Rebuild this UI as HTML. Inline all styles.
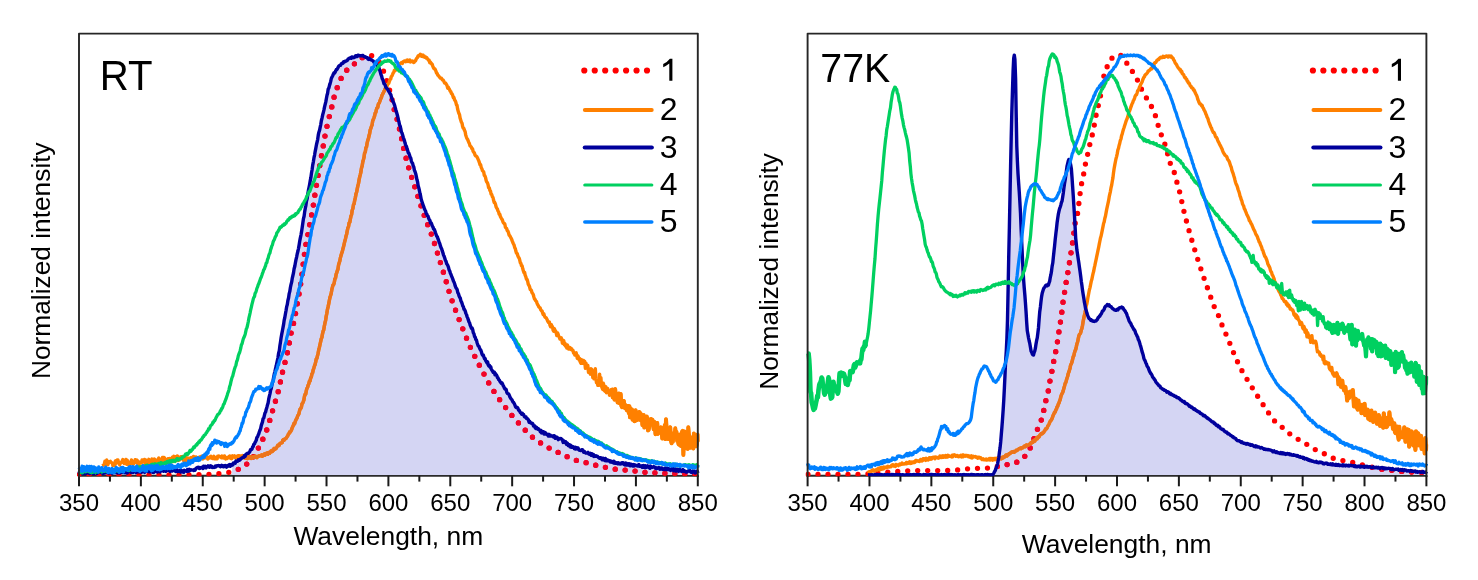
<!DOCTYPE html>
<html><head><meta charset="utf-8"><style>
html,body{margin:0;padding:0;background:#fff;}
svg{display:block;filter:blur(0.35px);}
text{font-family:"Liberation Sans", sans-serif;fill:#000;}
</style></head><body>
<svg width="1478" height="580" viewBox="0 0 1478 580">
<rect width="1478" height="580" fill="#fff"/>
<path d="M78.0 475.8H698.8" stroke="#2a2a2a" stroke-width="2.0"/>
<line x1="79.00" y1="475.8" x2="79.00" y2="486.3" stroke="#1a1a1a" stroke-width="2"/>
<text x="79.00" y="510.5" font-size="24" text-anchor="middle">350</text>
<line x1="109.94" y1="475.8" x2="109.94" y2="481.6" stroke="#1a1a1a" stroke-width="2"/>
<line x1="140.88" y1="475.8" x2="140.88" y2="486.3" stroke="#1a1a1a" stroke-width="2"/>
<text x="140.88" y="510.5" font-size="24" text-anchor="middle">400</text>
<line x1="171.82" y1="475.8" x2="171.82" y2="481.6" stroke="#1a1a1a" stroke-width="2"/>
<line x1="202.76" y1="475.8" x2="202.76" y2="486.3" stroke="#1a1a1a" stroke-width="2"/>
<text x="202.76" y="510.5" font-size="24" text-anchor="middle">450</text>
<line x1="233.70" y1="475.8" x2="233.70" y2="481.6" stroke="#1a1a1a" stroke-width="2"/>
<line x1="264.64" y1="475.8" x2="264.64" y2="486.3" stroke="#1a1a1a" stroke-width="2"/>
<text x="264.64" y="510.5" font-size="24" text-anchor="middle">500</text>
<line x1="295.58" y1="475.8" x2="295.58" y2="481.6" stroke="#1a1a1a" stroke-width="2"/>
<line x1="326.52" y1="475.8" x2="326.52" y2="486.3" stroke="#1a1a1a" stroke-width="2"/>
<text x="326.52" y="510.5" font-size="24" text-anchor="middle">550</text>
<line x1="357.46" y1="475.8" x2="357.46" y2="481.6" stroke="#1a1a1a" stroke-width="2"/>
<line x1="388.40" y1="475.8" x2="388.40" y2="486.3" stroke="#1a1a1a" stroke-width="2"/>
<text x="388.40" y="510.5" font-size="24" text-anchor="middle">600</text>
<line x1="419.34" y1="475.8" x2="419.34" y2="481.6" stroke="#1a1a1a" stroke-width="2"/>
<line x1="450.28" y1="475.8" x2="450.28" y2="486.3" stroke="#1a1a1a" stroke-width="2"/>
<text x="450.28" y="510.5" font-size="24" text-anchor="middle">650</text>
<line x1="481.22" y1="475.8" x2="481.22" y2="481.6" stroke="#1a1a1a" stroke-width="2"/>
<line x1="512.16" y1="475.8" x2="512.16" y2="486.3" stroke="#1a1a1a" stroke-width="2"/>
<text x="512.16" y="510.5" font-size="24" text-anchor="middle">700</text>
<line x1="543.10" y1="475.8" x2="543.10" y2="481.6" stroke="#1a1a1a" stroke-width="2"/>
<line x1="574.04" y1="475.8" x2="574.04" y2="486.3" stroke="#1a1a1a" stroke-width="2"/>
<text x="574.04" y="510.5" font-size="24" text-anchor="middle">750</text>
<line x1="604.98" y1="475.8" x2="604.98" y2="481.6" stroke="#1a1a1a" stroke-width="2"/>
<line x1="635.92" y1="475.8" x2="635.92" y2="486.3" stroke="#1a1a1a" stroke-width="2"/>
<text x="635.92" y="510.5" font-size="24" text-anchor="middle">800</text>
<line x1="666.86" y1="475.8" x2="666.86" y2="481.6" stroke="#1a1a1a" stroke-width="2"/>
<line x1="697.80" y1="475.8" x2="697.80" y2="486.3" stroke="#1a1a1a" stroke-width="2"/>
<text x="697.80" y="510.5" font-size="24" text-anchor="middle">850</text>
<path d="M806.6 475.8H1427.4" stroke="#2a2a2a" stroke-width="2.0"/>
<line x1="807.60" y1="475.8" x2="807.60" y2="486.3" stroke="#1a1a1a" stroke-width="2"/>
<text x="807.60" y="510.5" font-size="24" text-anchor="middle">350</text>
<line x1="838.54" y1="475.8" x2="838.54" y2="481.6" stroke="#1a1a1a" stroke-width="2"/>
<line x1="869.48" y1="475.8" x2="869.48" y2="486.3" stroke="#1a1a1a" stroke-width="2"/>
<text x="869.48" y="510.5" font-size="24" text-anchor="middle">400</text>
<line x1="900.42" y1="475.8" x2="900.42" y2="481.6" stroke="#1a1a1a" stroke-width="2"/>
<line x1="931.36" y1="475.8" x2="931.36" y2="486.3" stroke="#1a1a1a" stroke-width="2"/>
<text x="931.36" y="510.5" font-size="24" text-anchor="middle">450</text>
<line x1="962.30" y1="475.8" x2="962.30" y2="481.6" stroke="#1a1a1a" stroke-width="2"/>
<line x1="993.24" y1="475.8" x2="993.24" y2="486.3" stroke="#1a1a1a" stroke-width="2"/>
<text x="993.24" y="510.5" font-size="24" text-anchor="middle">500</text>
<line x1="1024.18" y1="475.8" x2="1024.18" y2="481.6" stroke="#1a1a1a" stroke-width="2"/>
<line x1="1055.12" y1="475.8" x2="1055.12" y2="486.3" stroke="#1a1a1a" stroke-width="2"/>
<text x="1055.12" y="510.5" font-size="24" text-anchor="middle">550</text>
<line x1="1086.06" y1="475.8" x2="1086.06" y2="481.6" stroke="#1a1a1a" stroke-width="2"/>
<line x1="1117.00" y1="475.8" x2="1117.00" y2="486.3" stroke="#1a1a1a" stroke-width="2"/>
<text x="1117.00" y="510.5" font-size="24" text-anchor="middle">600</text>
<line x1="1147.94" y1="475.8" x2="1147.94" y2="481.6" stroke="#1a1a1a" stroke-width="2"/>
<line x1="1178.88" y1="475.8" x2="1178.88" y2="486.3" stroke="#1a1a1a" stroke-width="2"/>
<text x="1178.88" y="510.5" font-size="24" text-anchor="middle">650</text>
<line x1="1209.82" y1="475.8" x2="1209.82" y2="481.6" stroke="#1a1a1a" stroke-width="2"/>
<line x1="1240.76" y1="475.8" x2="1240.76" y2="486.3" stroke="#1a1a1a" stroke-width="2"/>
<text x="1240.76" y="510.5" font-size="24" text-anchor="middle">700</text>
<line x1="1271.70" y1="475.8" x2="1271.70" y2="481.6" stroke="#1a1a1a" stroke-width="2"/>
<line x1="1302.64" y1="475.8" x2="1302.64" y2="486.3" stroke="#1a1a1a" stroke-width="2"/>
<text x="1302.64" y="510.5" font-size="24" text-anchor="middle">750</text>
<line x1="1333.58" y1="475.8" x2="1333.58" y2="481.6" stroke="#1a1a1a" stroke-width="2"/>
<line x1="1364.52" y1="475.8" x2="1364.52" y2="486.3" stroke="#1a1a1a" stroke-width="2"/>
<text x="1364.52" y="510.5" font-size="24" text-anchor="middle">800</text>
<line x1="1395.46" y1="475.8" x2="1395.46" y2="481.6" stroke="#1a1a1a" stroke-width="2"/>
<line x1="1426.40" y1="475.8" x2="1426.40" y2="486.3" stroke="#1a1a1a" stroke-width="2"/>
<text x="1426.40" y="510.5" font-size="24" text-anchor="middle">850</text>
<path d="M232.1 475.0L232.1 464.4L232.8 464.0L233.4 463.6L234.0 463.2L234.6 462.8L235.2 462.5L235.9 462.1L236.5 461.7L237.1 461.4L237.7 461.0L238.3 460.6L239.0 460.2L239.6 459.8L240.2 459.4L240.8 459.0L241.4 458.5L242.1 458.1L242.7 457.6L243.3 457.1L243.9 456.6L244.5 456.1L245.2 455.6L245.8 455.1L246.4 454.6L247.0 454.0L247.6 453.5L248.3 452.9L248.9 452.3L249.5 451.6L250.1 450.9L250.7 450.1L251.4 449.3L252.0 448.4L252.6 447.4L253.2 446.2L253.8 444.9L254.5 443.5L255.1 442.1L255.7 440.7L256.3 439.4L256.9 438.0L257.6 436.7L258.2 435.3L258.8 433.8L259.4 432.2L260.0 430.5L260.7 428.5L261.3 426.1L261.9 423.6L262.5 421.3L263.1 419.2L263.8 417.2L264.4 415.2L265.0 413.3L265.6 411.4L266.2 409.4L266.9 407.2L267.5 405.0L268.1 402.5L268.7 399.7L269.3 396.8L270.0 393.9L270.6 390.9L271.2 388.1L271.8 385.3L272.4 382.6L273.1 379.8L273.7 377.0L274.3 374.3L274.9 371.6L275.5 368.9L276.2 366.2L276.8 363.5L277.4 360.5L278.0 357.3L278.6 353.7L279.3 350.0L279.9 346.1L280.5 342.2L281.1 338.3L281.7 334.5L282.4 330.8L283.0 327.3L283.6 323.8L284.2 320.4L284.8 317.1L285.5 313.7L286.1 310.4L286.7 307.1L287.3 303.9L287.9 300.7L288.6 297.4L289.2 294.2L289.8 291.0L290.4 287.8L291.0 284.7L291.7 281.6L292.3 278.5L292.9 275.4L293.5 272.4L294.1 269.3L294.8 266.2L295.4 263.1L296.0 260.1L296.6 257.1L297.2 254.1L297.9 251.0L298.5 247.9L299.1 244.8L299.7 241.5L300.3 238.1L301.0 234.6L301.6 230.9L302.2 227.1L302.8 223.2L303.4 219.4L304.1 215.6L304.7 211.9L305.3 208.3L305.9 204.7L306.5 201.3L307.2 197.8L307.8 194.4L308.4 191.0L309.0 187.6L309.6 184.1L310.3 180.5L310.9 176.8L311.5 173.1L312.1 169.3L312.7 165.6L313.4 161.9L314.0 158.2L314.6 154.7L315.2 151.3L315.8 148.0L316.5 144.8L317.1 141.6L317.7 138.5L318.3 135.5L318.9 132.5L319.6 129.5L320.2 126.6L320.8 123.7L321.4 120.8L322.0 118.0L322.7 115.3L323.3 112.7L323.9 110.1L324.5 107.5L325.1 104.8L325.8 102.0L326.4 99.0L327.0 95.9L327.6 92.8L328.2 89.8L328.9 87.1L329.5 84.8L330.1 82.8L330.7 80.9L331.3 79.2L332.0 77.6L332.6 76.2L333.2 74.9L333.8 73.7L334.4 72.7L335.1 71.6L335.7 70.7L336.3 69.8L336.9 68.9L337.5 68.1L338.2 67.4L338.8 66.7L339.4 66.0L340.0 65.4L340.6 64.8L341.3 64.2L341.9 63.7L342.5 63.1L343.1 62.6L343.7 62.2L344.4 61.7L345.0 61.3L345.6 60.9L346.2 60.5L346.8 60.1L347.5 59.7L348.1 59.4L348.7 59.0L349.3 58.7L349.9 58.4L350.6 58.1L351.2 57.9L351.8 57.6L352.4 57.4L353.0 57.2L353.7 57.0L354.3 56.8L354.9 56.6L355.5 56.4L356.1 56.3L356.8 56.1L357.4 56.0L358.0 55.8L358.6 55.7L359.2 55.7L359.9 55.6L360.5 55.6L361.1 55.6L361.7 55.8L362.3 55.9L363.0 56.1L363.6 56.4L364.2 56.6L364.8 56.9L365.4 57.2L366.1 57.5L366.7 57.8L367.3 58.1L367.9 58.4L368.5 58.7L369.2 59.0L369.8 59.4L370.4 59.7L371.0 60.1L371.6 60.5L372.3 61.0L372.9 61.4L373.5 61.9L374.1 62.3L374.7 62.8L375.4 63.3L376.0 63.9L376.6 64.5L377.2 65.2L377.8 66.0L378.5 66.9L379.1 68.2L379.7 70.1L380.3 72.3L380.9 74.5L381.6 76.6L382.2 78.3L382.8 80.0L383.4 81.5L384.0 83.0L384.7 84.4L385.3 85.6L385.9 86.8L386.5 87.8L387.1 88.7L387.8 89.7L388.4 90.6L389.0 91.6L389.6 92.7L390.2 94.0L390.9 95.4L391.5 96.9L392.1 98.6L392.7 100.3L393.3 102.0L394.0 103.9L394.6 105.8L395.2 107.8L395.8 110.0L396.4 112.2L397.1 114.5L397.7 116.8L398.3 119.2L398.9 121.7L399.5 124.2L400.2 126.8L400.8 129.2L401.4 131.4L402.0 133.5L402.6 135.5L403.3 137.5L403.9 139.4L404.5 141.3L405.1 143.1L405.7 144.9L406.4 146.7L407.0 148.5L407.6 150.3L408.2 152.0L408.8 153.7L409.5 155.3L410.1 156.9L410.7 158.5L411.3 160.1L411.9 161.8L412.6 163.5L413.2 165.4L413.8 167.3L414.4 169.5L415.0 171.9L415.7 174.4L416.3 177.0L416.9 179.6L417.5 182.2L418.1 184.9L418.8 187.7L419.4 190.5L420.0 193.3L420.6 196.0L421.2 198.7L421.9 201.1L422.5 203.3L423.1 205.3L423.7 207.1L424.3 208.7L425.0 210.2L425.6 211.7L426.2 213.0L426.8 214.4L427.4 215.7L428.1 217.0L428.7 218.3L429.3 219.7L429.9 221.0L430.5 222.2L431.2 223.5L431.8 224.7L432.4 225.9L433.0 227.2L433.6 228.4L434.3 229.7L434.9 231.1L435.5 232.5L436.1 234.0L436.7 235.5L437.4 237.1L438.0 238.8L438.6 240.5L439.2 242.2L439.8 243.9L440.5 245.7L441.1 247.5L441.7 249.3L442.3 251.1L442.9 252.9L443.6 254.6L444.2 256.4L444.8 258.1L445.4 259.8L446.0 261.4L446.7 263.1L447.3 264.7L447.9 266.4L448.5 268.0L449.1 269.6L449.8 271.2L450.4 272.8L451.0 274.4L451.6 276.0L452.2 277.6L452.9 279.2L453.5 280.8L454.1 282.4L454.7 284.0L455.3 285.6L456.0 287.2L456.6 288.8L457.2 290.4L457.8 292.0L458.4 293.6L459.1 295.3L459.7 296.9L460.3 298.5L460.9 300.1L461.5 301.7L462.2 303.4L462.8 305.0L463.4 306.6L464.0 308.2L464.6 309.9L465.3 311.5L465.9 313.1L466.5 314.7L467.1 316.3L467.7 317.9L468.4 319.5L469.0 321.1L469.6 322.7L470.2 324.3L470.8 325.9L471.5 327.5L472.1 329.1L472.7 330.7L473.3 332.4L473.9 334.0L474.6 335.6L475.2 337.3L475.8 338.9L476.4 340.5L477.0 342.0L477.7 343.6L478.3 345.1L478.9 346.5L479.5 347.9L480.1 349.2L480.8 350.5L481.4 351.8L482.0 353.0L482.6 354.2L483.2 355.3L483.9 356.5L484.5 357.6L485.1 358.7L485.7 359.7L486.3 360.8L487.0 361.8L487.6 362.9L488.2 363.9L488.8 364.9L489.4 365.8L490.1 366.8L490.7 367.8L491.3 368.7L491.9 369.6L492.5 370.5L493.2 371.4L493.8 372.3L494.4 373.1L495.0 374.0L495.6 374.8L496.3 375.6L496.9 376.4L497.5 377.2L498.1 378.1L498.7 378.9L499.4 379.7L500.0 380.6L500.6 381.4L501.2 382.3L501.8 383.2L502.5 384.2L503.1 385.1L503.7 386.1L504.3 387.2L504.9 388.3L505.6 389.4L506.2 390.5L506.8 391.7L507.4 392.8L508.0 394.0L508.7 395.2L509.3 396.3L509.9 397.4L510.5 398.5L511.1 399.6L511.8 400.6L512.4 401.6L513.0 402.5L513.6 403.4L514.2 404.2L514.9 405.1L515.5 405.9L516.1 406.7L516.7 407.5L517.3 408.3L518.0 409.1L518.6 409.8L519.2 410.6L519.8 411.3L520.4 412.0L521.1 412.7L521.7 413.4L522.3 414.1L522.9 414.8L523.5 415.5L524.2 416.1L524.8 416.8L525.4 417.4L526.0 418.0L526.6 418.7L527.3 419.3L527.9 419.9L528.5 420.5L529.1 421.1L529.7 421.7L530.4 422.3L531.0 422.9L531.6 423.5L532.2 424.1L532.8 424.7L533.5 425.2L534.1 425.8L534.7 426.4L535.3 426.9L535.9 427.4L536.6 428.0L537.2 428.5L537.8 429.0L538.4 429.5L539.0 429.9L539.7 430.4L540.3 430.8L540.9 431.2L541.5 431.6L542.1 432.0L542.8 432.4L543.4 432.7L544.0 433.0L544.6 433.3L545.2 433.6L545.9 433.9L546.5 434.1L547.1 434.4L547.7 434.6L548.3 434.8L549.0 435.1L549.6 435.3L550.2 435.5L550.8 435.7L551.4 435.9L552.1 436.1L552.7 436.3L553.3 436.5L553.9 436.7L554.5 437.0L555.2 437.2L555.8 437.4L556.4 437.6L557.0 437.9L557.6 438.1L558.3 438.4L558.9 438.7L559.5 439.0L560.1 439.3L560.7 439.6L561.4 440.0L562.0 440.3L562.6 440.7L563.2 441.2L563.8 441.6L564.5 442.0L565.1 442.5L565.7 442.9L566.3 443.4L566.9 443.8L567.6 444.2L568.2 444.6L568.8 445.0L569.4 445.4L570.0 445.7L570.7 446.0L571.3 446.3L571.9 446.6L572.5 446.9L573.1 447.1L573.8 447.4L574.4 447.6L575.0 447.9L575.6 448.1L576.2 448.3L576.9 448.5L577.5 448.8L578.1 449.0L578.7 449.2L579.3 449.5L580.0 449.7L580.6 450.0L581.2 450.2L581.8 450.5L582.4 450.7L583.1 451.0L583.7 451.2L584.3 451.5L584.9 451.7L585.5 452.0L586.2 452.2L586.8 452.5L587.4 452.7L588.0 453.0L588.6 453.2L589.3 453.5L589.9 453.7L590.5 454.0L591.1 454.2L591.7 454.5L592.4 454.8L593.0 455.0L593.6 455.3L594.2 455.5L594.8 455.8L595.5 456.0L596.1 456.3L596.7 456.5L597.3 456.8L597.9 457.0L598.6 457.3L599.2 457.5L599.8 457.7L600.4 458.0L601.0 458.2L601.7 458.4L602.3 458.6L602.9 458.8L603.5 459.0L604.1 459.2L604.8 459.4L605.4 459.6L606.0 459.8L606.6 460.0L607.2 460.2L607.9 460.3L608.5 460.5L609.1 460.7L609.7 460.9L610.3 461.0L611.0 461.2L611.6 461.3L612.2 461.5L612.8 461.6L613.4 461.8L614.1 461.9L614.7 462.1L615.3 462.2L615.9 462.3L616.5 462.5L617.2 462.6L617.8 462.7L618.4 462.8L619.0 463.0L619.6 463.1L620.3 463.2L620.9 463.3L621.5 463.4L622.1 463.5L622.7 463.6L623.4 463.7L624.0 463.8L624.6 463.9L625.2 464.0L625.8 464.0L626.5 464.1L627.1 464.2L627.7 464.3L628.3 464.4L628.9 464.4L629.6 464.5L630.2 464.6L630.8 464.7L631.4 464.7L632.0 464.8L632.7 464.9L633.3 465.0L633.9 465.0L634.5 465.1L635.1 465.2L635.8 465.3L636.4 465.3L637.0 465.4L637.6 465.5L638.2 465.6L638.9 465.7L639.5 465.8L640.1 465.8L640.7 465.9L641.3 466.0L642.0 466.1L642.6 466.2L643.2 466.3L643.8 466.4L644.4 466.4L645.1 466.5L645.7 466.6L646.3 466.7L646.9 466.8L647.5 466.9L648.2 467.0L648.8 467.0L649.4 467.1L650.0 467.2L650.6 467.3L651.3 467.4L651.9 467.4L652.5 467.5L653.1 467.6L653.7 467.7L654.4 467.7L655.0 467.8L655.6 467.9L656.2 467.9L656.8 468.0L657.5 468.1L658.1 468.1L658.7 468.2L659.3 468.3L659.9 468.3L660.6 468.4L661.2 468.5L661.8 468.5L662.4 468.6L663.0 468.6L663.7 468.7L664.3 468.8L664.9 468.8L665.5 468.9L666.1 468.9L666.8 469.0L667.4 469.1L668.0 469.1L668.6 469.2L669.2 469.3L669.9 469.3L670.5 469.4L671.1 469.4L671.7 469.5L672.3 469.6L673.0 469.6L673.6 469.7L674.2 469.7L674.8 469.8L675.4 469.9L676.1 469.9L676.7 470.0L677.3 470.1L677.9 470.1L678.5 470.2L679.2 470.2L679.8 470.3L680.4 470.3L681.0 470.4L681.6 470.5L682.3 470.5L682.9 470.6L683.5 470.6L684.1 470.7L684.7 470.8L685.4 470.8L686.0 470.9L686.6 470.9L687.2 471.0L687.8 471.1L688.5 471.2L689.1 471.2L689.7 471.3L690.3 471.4L690.9 471.4L691.6 471.5L692.2 471.6L692.8 471.6L693.4 471.7L694.0 471.7L694.7 471.7L695.3 471.8L695.9 471.8L696.5 471.8L697.1 471.8L697.8 471.8L697.8 471.8L697.8 475.0 Z" fill="#d4d5f3" stroke="none"/>
<clipPath id="clipL"><path d="M232.1 475.0L232.1 464.4L232.8 464.0L233.4 463.6L234.0 463.2L234.6 462.8L235.2 462.5L235.9 462.1L236.5 461.7L237.1 461.4L237.7 461.0L238.3 460.6L239.0 460.2L239.6 459.8L240.2 459.4L240.8 459.0L241.4 458.5L242.1 458.1L242.7 457.6L243.3 457.1L243.9 456.6L244.5 456.1L245.2 455.6L245.8 455.1L246.4 454.6L247.0 454.0L247.6 453.5L248.3 452.9L248.9 452.3L249.5 451.6L250.1 450.9L250.7 450.1L251.4 449.3L252.0 448.4L252.6 447.4L253.2 446.2L253.8 444.9L254.5 443.5L255.1 442.1L255.7 440.7L256.3 439.4L256.9 438.0L257.6 436.7L258.2 435.3L258.8 433.8L259.4 432.2L260.0 430.5L260.7 428.5L261.3 426.1L261.9 423.6L262.5 421.3L263.1 419.2L263.8 417.2L264.4 415.2L265.0 413.3L265.6 411.4L266.2 409.4L266.9 407.2L267.5 405.0L268.1 402.5L268.7 399.7L269.3 396.8L270.0 393.9L270.6 390.9L271.2 388.1L271.8 385.3L272.4 382.6L273.1 379.8L273.7 377.0L274.3 374.3L274.9 371.6L275.5 368.9L276.2 366.2L276.8 363.5L277.4 360.5L278.0 357.3L278.6 353.7L279.3 350.0L279.9 346.1L280.5 342.2L281.1 338.3L281.7 334.5L282.4 330.8L283.0 327.3L283.6 323.8L284.2 320.4L284.8 317.1L285.5 313.7L286.1 310.4L286.7 307.1L287.3 303.9L287.9 300.7L288.6 297.4L289.2 294.2L289.8 291.0L290.4 287.8L291.0 284.7L291.7 281.6L292.3 278.5L292.9 275.4L293.5 272.4L294.1 269.3L294.8 266.2L295.4 263.1L296.0 260.1L296.6 257.1L297.2 254.1L297.9 251.0L298.5 247.9L299.1 244.8L299.7 241.5L300.3 238.1L301.0 234.6L301.6 230.9L302.2 227.1L302.8 223.2L303.4 219.4L304.1 215.6L304.7 211.9L305.3 208.3L305.9 204.7L306.5 201.3L307.2 197.8L307.8 194.4L308.4 191.0L309.0 187.6L309.6 184.1L310.3 180.5L310.9 176.8L311.5 173.1L312.1 169.3L312.7 165.6L313.4 161.9L314.0 158.2L314.6 154.7L315.2 151.3L315.8 148.0L316.5 144.8L317.1 141.6L317.7 138.5L318.3 135.5L318.9 132.5L319.6 129.5L320.2 126.6L320.8 123.7L321.4 120.8L322.0 118.0L322.7 115.3L323.3 112.7L323.9 110.1L324.5 107.5L325.1 104.8L325.8 102.0L326.4 99.0L327.0 95.9L327.6 92.8L328.2 89.8L328.9 87.1L329.5 84.8L330.1 82.8L330.7 80.9L331.3 79.2L332.0 77.6L332.6 76.2L333.2 74.9L333.8 73.7L334.4 72.7L335.1 71.6L335.7 70.7L336.3 69.8L336.9 68.9L337.5 68.1L338.2 67.4L338.8 66.7L339.4 66.0L340.0 65.4L340.6 64.8L341.3 64.2L341.9 63.7L342.5 63.1L343.1 62.6L343.7 62.2L344.4 61.7L345.0 61.3L345.6 60.9L346.2 60.5L346.8 60.1L347.5 59.7L348.1 59.4L348.7 59.0L349.3 58.7L349.9 58.4L350.6 58.1L351.2 57.9L351.8 57.6L352.4 57.4L353.0 57.2L353.7 57.0L354.3 56.8L354.9 56.6L355.5 56.4L356.1 56.3L356.8 56.1L357.4 56.0L358.0 55.8L358.6 55.7L359.2 55.7L359.9 55.6L360.5 55.6L361.1 55.6L361.7 55.8L362.3 55.9L363.0 56.1L363.6 56.4L364.2 56.6L364.8 56.9L365.4 57.2L366.1 57.5L366.7 57.8L367.3 58.1L367.9 58.4L368.5 58.7L369.2 59.0L369.8 59.4L370.4 59.7L371.0 60.1L371.6 60.5L372.3 61.0L372.9 61.4L373.5 61.9L374.1 62.3L374.7 62.8L375.4 63.3L376.0 63.9L376.6 64.5L377.2 65.2L377.8 66.0L378.5 66.9L379.1 68.2L379.7 70.1L380.3 72.3L380.9 74.5L381.6 76.6L382.2 78.3L382.8 80.0L383.4 81.5L384.0 83.0L384.7 84.4L385.3 85.6L385.9 86.8L386.5 87.8L387.1 88.7L387.8 89.7L388.4 90.6L389.0 91.6L389.6 92.7L390.2 94.0L390.9 95.4L391.5 96.9L392.1 98.6L392.7 100.3L393.3 102.0L394.0 103.9L394.6 105.8L395.2 107.8L395.8 110.0L396.4 112.2L397.1 114.5L397.7 116.8L398.3 119.2L398.9 121.7L399.5 124.2L400.2 126.8L400.8 129.2L401.4 131.4L402.0 133.5L402.6 135.5L403.3 137.5L403.9 139.4L404.5 141.3L405.1 143.1L405.7 144.9L406.4 146.7L407.0 148.5L407.6 150.3L408.2 152.0L408.8 153.7L409.5 155.3L410.1 156.9L410.7 158.5L411.3 160.1L411.9 161.8L412.6 163.5L413.2 165.4L413.8 167.3L414.4 169.5L415.0 171.9L415.7 174.4L416.3 177.0L416.9 179.6L417.5 182.2L418.1 184.9L418.8 187.7L419.4 190.5L420.0 193.3L420.6 196.0L421.2 198.7L421.9 201.1L422.5 203.3L423.1 205.3L423.7 207.1L424.3 208.7L425.0 210.2L425.6 211.7L426.2 213.0L426.8 214.4L427.4 215.7L428.1 217.0L428.7 218.3L429.3 219.7L429.9 221.0L430.5 222.2L431.2 223.5L431.8 224.7L432.4 225.9L433.0 227.2L433.6 228.4L434.3 229.7L434.9 231.1L435.5 232.5L436.1 234.0L436.7 235.5L437.4 237.1L438.0 238.8L438.6 240.5L439.2 242.2L439.8 243.9L440.5 245.7L441.1 247.5L441.7 249.3L442.3 251.1L442.9 252.9L443.6 254.6L444.2 256.4L444.8 258.1L445.4 259.8L446.0 261.4L446.7 263.1L447.3 264.7L447.9 266.4L448.5 268.0L449.1 269.6L449.8 271.2L450.4 272.8L451.0 274.4L451.6 276.0L452.2 277.6L452.9 279.2L453.5 280.8L454.1 282.4L454.7 284.0L455.3 285.6L456.0 287.2L456.6 288.8L457.2 290.4L457.8 292.0L458.4 293.6L459.1 295.3L459.7 296.9L460.3 298.5L460.9 300.1L461.5 301.7L462.2 303.4L462.8 305.0L463.4 306.6L464.0 308.2L464.6 309.9L465.3 311.5L465.9 313.1L466.5 314.7L467.1 316.3L467.7 317.9L468.4 319.5L469.0 321.1L469.6 322.7L470.2 324.3L470.8 325.9L471.5 327.5L472.1 329.1L472.7 330.7L473.3 332.4L473.9 334.0L474.6 335.6L475.2 337.3L475.8 338.9L476.4 340.5L477.0 342.0L477.7 343.6L478.3 345.1L478.9 346.5L479.5 347.9L480.1 349.2L480.8 350.5L481.4 351.8L482.0 353.0L482.6 354.2L483.2 355.3L483.9 356.5L484.5 357.6L485.1 358.7L485.7 359.7L486.3 360.8L487.0 361.8L487.6 362.9L488.2 363.9L488.8 364.9L489.4 365.8L490.1 366.8L490.7 367.8L491.3 368.7L491.9 369.6L492.5 370.5L493.2 371.4L493.8 372.3L494.4 373.1L495.0 374.0L495.6 374.8L496.3 375.6L496.9 376.4L497.5 377.2L498.1 378.1L498.7 378.9L499.4 379.7L500.0 380.6L500.6 381.4L501.2 382.3L501.8 383.2L502.5 384.2L503.1 385.1L503.7 386.1L504.3 387.2L504.9 388.3L505.6 389.4L506.2 390.5L506.8 391.7L507.4 392.8L508.0 394.0L508.7 395.2L509.3 396.3L509.9 397.4L510.5 398.5L511.1 399.6L511.8 400.6L512.4 401.6L513.0 402.5L513.6 403.4L514.2 404.2L514.9 405.1L515.5 405.9L516.1 406.7L516.7 407.5L517.3 408.3L518.0 409.1L518.6 409.8L519.2 410.6L519.8 411.3L520.4 412.0L521.1 412.7L521.7 413.4L522.3 414.1L522.9 414.8L523.5 415.5L524.2 416.1L524.8 416.8L525.4 417.4L526.0 418.0L526.6 418.7L527.3 419.3L527.9 419.9L528.5 420.5L529.1 421.1L529.7 421.7L530.4 422.3L531.0 422.9L531.6 423.5L532.2 424.1L532.8 424.7L533.5 425.2L534.1 425.8L534.7 426.4L535.3 426.9L535.9 427.4L536.6 428.0L537.2 428.5L537.8 429.0L538.4 429.5L539.0 429.9L539.7 430.4L540.3 430.8L540.9 431.2L541.5 431.6L542.1 432.0L542.8 432.4L543.4 432.7L544.0 433.0L544.6 433.3L545.2 433.6L545.9 433.9L546.5 434.1L547.1 434.4L547.7 434.6L548.3 434.8L549.0 435.1L549.6 435.3L550.2 435.5L550.8 435.7L551.4 435.9L552.1 436.1L552.7 436.3L553.3 436.5L553.9 436.7L554.5 437.0L555.2 437.2L555.8 437.4L556.4 437.6L557.0 437.9L557.6 438.1L558.3 438.4L558.9 438.7L559.5 439.0L560.1 439.3L560.7 439.6L561.4 440.0L562.0 440.3L562.6 440.7L563.2 441.2L563.8 441.6L564.5 442.0L565.1 442.5L565.7 442.9L566.3 443.4L566.9 443.8L567.6 444.2L568.2 444.6L568.8 445.0L569.4 445.4L570.0 445.7L570.7 446.0L571.3 446.3L571.9 446.6L572.5 446.9L573.1 447.1L573.8 447.4L574.4 447.6L575.0 447.9L575.6 448.1L576.2 448.3L576.9 448.5L577.5 448.8L578.1 449.0L578.7 449.2L579.3 449.5L580.0 449.7L580.6 450.0L581.2 450.2L581.8 450.5L582.4 450.7L583.1 451.0L583.7 451.2L584.3 451.5L584.9 451.7L585.5 452.0L586.2 452.2L586.8 452.5L587.4 452.7L588.0 453.0L588.6 453.2L589.3 453.5L589.9 453.7L590.5 454.0L591.1 454.2L591.7 454.5L592.4 454.8L593.0 455.0L593.6 455.3L594.2 455.5L594.8 455.8L595.5 456.0L596.1 456.3L596.7 456.5L597.3 456.8L597.9 457.0L598.6 457.3L599.2 457.5L599.8 457.7L600.4 458.0L601.0 458.2L601.7 458.4L602.3 458.6L602.9 458.8L603.5 459.0L604.1 459.2L604.8 459.4L605.4 459.6L606.0 459.8L606.6 460.0L607.2 460.2L607.9 460.3L608.5 460.5L609.1 460.7L609.7 460.9L610.3 461.0L611.0 461.2L611.6 461.3L612.2 461.5L612.8 461.6L613.4 461.8L614.1 461.9L614.7 462.1L615.3 462.2L615.9 462.3L616.5 462.5L617.2 462.6L617.8 462.7L618.4 462.8L619.0 463.0L619.6 463.1L620.3 463.2L620.9 463.3L621.5 463.4L622.1 463.5L622.7 463.6L623.4 463.7L624.0 463.8L624.6 463.9L625.2 464.0L625.8 464.0L626.5 464.1L627.1 464.2L627.7 464.3L628.3 464.4L628.9 464.4L629.6 464.5L630.2 464.6L630.8 464.7L631.4 464.7L632.0 464.8L632.7 464.9L633.3 465.0L633.9 465.0L634.5 465.1L635.1 465.2L635.8 465.3L636.4 465.3L637.0 465.4L637.6 465.5L638.2 465.6L638.9 465.7L639.5 465.8L640.1 465.8L640.7 465.9L641.3 466.0L642.0 466.1L642.6 466.2L643.2 466.3L643.8 466.4L644.4 466.4L645.1 466.5L645.7 466.6L646.3 466.7L646.9 466.8L647.5 466.9L648.2 467.0L648.8 467.0L649.4 467.1L650.0 467.2L650.6 467.3L651.3 467.4L651.9 467.4L652.5 467.5L653.1 467.6L653.7 467.7L654.4 467.7L655.0 467.8L655.6 467.9L656.2 467.9L656.8 468.0L657.5 468.1L658.1 468.1L658.7 468.2L659.3 468.3L659.9 468.3L660.6 468.4L661.2 468.5L661.8 468.5L662.4 468.6L663.0 468.6L663.7 468.7L664.3 468.8L664.9 468.8L665.5 468.9L666.1 468.9L666.8 469.0L667.4 469.1L668.0 469.1L668.6 469.2L669.2 469.3L669.9 469.3L670.5 469.4L671.1 469.4L671.7 469.5L672.3 469.6L673.0 469.6L673.6 469.7L674.2 469.7L674.8 469.8L675.4 469.9L676.1 469.9L676.7 470.0L677.3 470.1L677.9 470.1L678.5 470.2L679.2 470.2L679.8 470.3L680.4 470.3L681.0 470.4L681.6 470.5L682.3 470.5L682.9 470.6L683.5 470.6L684.1 470.7L684.7 470.8L685.4 470.8L686.0 470.9L686.6 470.9L687.2 471.0L687.8 471.1L688.5 471.2L689.1 471.2L689.7 471.3L690.3 471.4L690.9 471.4L691.6 471.5L692.2 471.6L692.8 471.6L693.4 471.7L694.0 471.7L694.7 471.7L695.3 471.8L695.9 471.8L696.5 471.8L697.1 471.8L697.8 471.8L697.8 471.8L697.8 475.0 Z"/></clipPath>
<clipPath id="areaL"><rect x="77.0" y="33.6" width="622.8" height="442.7"/></clipPath>
<g clip-path="url(#areaL)">
<path d="M79.0 475.0l0.6 0.0l0.6 0.0l0.7 0.0l0.6 0.0l0.6 0.0l0.6 0.0l0.6 0.0l0.7 0.0l0.6 0.0l0.6 0.0l0.6 0.0l0.6 0.0l0.7 0.0l0.6 0.0l0.6 0.0l0.6 0.0l0.6 0.0l0.7 0.0l0.6 0.0l0.6 0.0l0.6 0.0l0.6 0.0l0.7 0.0l0.6 0.0l0.6 0.0l0.6 0.0l0.6 0.0l0.7 0.0l0.6 0.0l0.6 0.0l0.6 0.0l0.6 0.0l0.7 0.0l0.6 0.0l0.6 0.0l0.6 0.0l0.6 0.0l0.7 0.0l0.6 0.0l0.6 0.0l0.6 0.0l0.6 0.0l0.7 0.0l0.6 0.0l0.6 0.0l0.6 0.0l0.6 0.0l0.7 0.0l0.6 0.0l0.6 0.0l0.6 0.0l0.6 0.0l0.7 0.0l0.6 0.0l0.6 0.0l0.6 0.0l0.6 0.0l0.7 0.0l0.6 0.0l0.6 0.0l0.6 0.0l0.6 0.0l0.7 0.0l0.6 0.0l0.6 0.0l0.6 0.0l0.6 0.0l0.7 0.0l0.6 0.0l0.6 0.0l0.6 0.0l0.6 0.0l0.7 0.0l0.6 0.0l0.6 0.0l0.6 0.0l0.6 0.0l0.7 0.0l0.6 0.0l0.6 0.0l0.6 0.0l0.6 0.0l0.7 0.0l0.6 0.0l0.6 0.0l0.6 0.0l0.6 0.0l0.7 0.0l0.6 0.0l0.6 0.0l0.6 0.0l0.6 0.0l0.7 0.0l0.6 0.0l0.6 0.0l0.6 0.0l0.6 0.0l0.7 0.0l0.6 0.0l0.6 0.0l0.6 0.0l0.6 0.0l0.7 0.0l0.6 0.0l0.6 0.0l0.6 0.0l0.6 0.0l0.7 0.0l0.6 0.0l0.6 0.0l0.6 0.0l0.6 0.0l0.7 0.0l0.6 0.0l0.6 0.0l0.6 0.0l0.6 0.0l0.7 0.0l0.6 0.0l0.6 0.0l0.6 0.0l0.6 0.0l0.7 0.0l0.6 0.0l0.6 0.0l0.6 0.0l0.6 0.0l0.7 0.0l0.6 0.0l0.6 0.0l0.6-0.0l0.6-0.0l0.7-0.0l0.6-0.0l0.6-0.0l0.6-0.0l0.6-0.0l0.7-0.0l0.6-0.0l0.6-0.0l0.6-0.0l0.6-0.0l0.7-0.0l0.6-0.0l0.6-0.0l0.6-0.0l0.6-0.0l0.7-0.0l0.6-0.0l0.6-0.0l0.6-0.0l0.6-0.0l0.7-0.0l0.6-0.0l0.6-0.0l0.6-0.1l0.6 0.0l0.7 0.0l0.6 0.0l0.6 0.0l0.6 0.0l0.6 0.0l0.7 0.0l0.6 0.0l0.6 0.0l0.6-0.0l0.6-0.0l0.7-0.0l0.6-0.0l0.6-0.0l0.6-0.0l0.6-0.0l0.7-0.0l0.6-0.1l0.6 0.0l0.6 0.0l0.6 0.0l0.7 0.0l0.6 0.0l0.6-0.0l0.6-0.0l0.6-0.0l0.7-0.0l0.6-0.0l0.6-0.0l0.6-0.1l0.6 0.0l0.7 0.0l0.6 0.0l0.6 0.0l0.6-0.0l0.6-0.0l0.7-0.0l0.6-0.0l0.6-0.0l0.6-0.1l0.6 0.0l0.7 0.0l0.6 0.0l0.6 0.0l0.6-0.0l0.6-0.0l0.7-0.0l0.6-0.1l0.6 0.0l0.6-0.0l0.6-0.0l0.7-0.1l0.6 0.0l0.6-0.0l0.6-0.1l0.6 0.0l0.7-0.0l0.6-0.1l0.6-0.0l0.6-0.1l0.6-0.0l0.7-0.1l0.6-0.0l0.6-0.1l0.6-0.0l0.6-0.1l0.7-0.0l0.6-0.1l0.6-0.0l0.6-0.1l0.6-0.0l0.7-0.1l0.6-0.0l0.6-0.1l0.6-0.1l0.6-0.0l0.7-0.1l0.6-0.1l0.6-0.1l0.6-0.1l0.6-0.1l0.7-0.1l0.6-0.1l0.6-0.1l0.6-0.1l0.6-0.1l0.7-0.1l0.6-0.1l0.6-0.2l0.6-0.1l0.6-0.2l0.7-0.2l0.6-0.2l0.6-0.2l0.6-0.2l0.6-0.2l0.7-0.3l0.6-0.2l0.6-0.3l0.6-0.2l0.6-0.3l0.7-0.3l0.6-0.2l0.6-0.3l0.6-0.4l0.6-0.3l0.7-0.3l0.6-0.4l0.6-0.4l0.6-0.4l0.6-0.5l0.7-0.4l0.6-0.5l0.6-0.5l0.6-0.5l0.6-0.5l0.7-0.5l0.6-0.6l0.6-0.6l0.6-0.6l0.6-0.7l0.7-0.8l0.6-0.8l0.6-0.8l0.6-0.9l0.6-0.9l0.7-0.9l0.6-1.0l0.6-1.0l0.6-1.1l0.6-1.2l0.7-1.3l0.6-1.2l0.6-1.3l0.6-1.3l0.6-1.3l0.7-1.2l0.6-1.2l0.6-1.1l0.6-1.2l0.6-1.2l0.7-1.2l0.6-1.4l0.6-1.4l0.6-1.6l0.6-1.7l0.7-1.8l0.6-1.9l0.6-2.0l0.6-1.9l0.6-2.0l0.7-2.1l0.6-2.1l0.6-2.1l0.6-2.1l0.6-2.1l0.7-2.0l0.6-2.1l0.6-2.0l0.6-2.1l0.6-2.0l0.7-2.0l0.6-2.1l0.6-2.2l0.6-2.3l0.6-2.6l0.7-2.8l0.6-2.8l0.6-2.8l0.6-3.0l0.6-3.0l0.7-2.8l0.6-2.5l0.6-2.5l0.6-2.3l0.6-2.3l0.7-2.3l0.6-2.3l0.6-2.5l0.6-2.7l0.6-2.9l0.7-3.3l0.6-3.5l0.6-3.5l0.6-3.5l0.6-3.1l0.7-2.8l0.6-2.4l0.6-2.3l0.6-2.5l0.6-2.8l0.7-3.1l0.6-3.2l0.6-3.4l0.6-3.5l0.6-3.5l0.7-3.5l0.6-3.5l0.6-3.6l0.6-3.6l0.6-3.8l0.7-4.0l0.6-4.4l0.6-4.9l0.6-5.3l0.6-5.3l0.7-5.2l0.6-4.7l0.6-4.1l0.6-3.6l0.6-3.3l0.7-3.1l0.6-3.1l0.6-3.2l0.6-3.2l0.6-3.3l0.7-3.2l0.6-3.2l0.6-3.3l0.6-3.4l0.6-3.6l0.7-3.8l0.6-3.9l0.6-4.0l0.6-4.0l0.6-3.9l0.7-3.8l0.6-3.8l0.6-3.7l0.6-3.7l0.6-3.6l0.7-3.7l0.6-3.6l0.6-3.5l0.6-3.5l0.6-3.5l0.7-3.5l0.6-3.5l0.6-3.5l0.6-3.4l0.6-3.3l0.7-3.2l0.6-3.0l0.6-2.9l0.6-2.8l0.6-2.7l0.7-2.6l0.6-2.5l0.6-2.5l0.6-2.3l0.6-2.3l0.7-2.4l0.6-2.7l0.6-2.8l0.6-2.6l0.6-2.2l0.7-2.1l0.6-1.9l0.6-1.7l0.6-1.7l0.6-1.7l0.7-1.7l0.6-1.5l0.6-1.6l0.6-1.4l0.6-1.3l0.7-1.2l0.6-1.1l0.6-1.0l0.6-1.0l0.6-0.9l0.7-0.9l0.6-0.8l0.6-0.8l0.6-0.7l0.6-0.7l0.7-0.6l0.6-0.6l0.6-0.6l0.6-0.5l0.6-0.5l0.7-0.5l0.6-0.5l0.6-0.5l0.6-0.5l0.6-0.5l0.7-0.5l0.6-0.5l0.6-0.4l0.6-0.5l0.6-0.4l0.7-0.4l0.6-0.5l0.6-0.4l0.6-0.5l0.6-0.4l0.7-0.5l0.6-0.6l0.6-0.5l0.6-0.6l0.6-0.6l0.7-0.5l0.6-0.5l0.6-0.4l0.6-0.2l0.6-0.2l0.7-0.0l0.6-0.1l0.6-0.0l0.6-0.0l0.6-0.1l0.7 0.0l0.6 0.0l0.6 0.0l0.6 0.0l0.6 0.1l0.7 0.3l0.6 0.3l0.6 0.4l0.6 0.4l0.6 0.4l0.7 0.5l0.6 0.6l0.6 0.6l0.6 0.7l0.6 0.8l0.7 0.7l0.6 0.9l0.6 1.0l0.6 1.0l0.6 1.1l0.7 1.2l0.6 1.3l0.6 1.4l0.6 1.5l0.6 1.6l0.7 1.7l0.6 1.7l0.6 1.9l0.6 1.9l0.6 2.1l0.7 2.1l0.6 2.1l0.6 2.1l0.6 2.1l0.6 2.0l0.7 2.1l0.6 2.4l0.6 3.0l0.6 3.5l0.6 3.2l0.7 2.5l0.6 2.1l0.6 1.9l0.6 2.0l0.6 2.0l0.7 2.3l0.6 2.4l0.6 2.4l0.6 2.5l0.6 2.6l0.7 2.7l0.6 2.9l0.6 3.0l0.6 3.1l0.6 3.1l0.7 2.9l0.6 2.8l0.6 2.6l0.6 2.4l0.6 2.4l0.7 2.4l0.6 2.2l0.6 2.3l0.6 2.1l0.6 2.2l0.7 2.1l0.6 2.1l0.6 2.0l0.6 2.0l0.6 1.9l0.7 1.9l0.6 1.9l0.6 1.9l0.6 1.8l0.6 1.9l0.7 1.9l0.6 1.9l0.6 1.9l0.6 1.9l0.6 1.9l0.7 1.9l0.6 1.9l0.6 1.9l0.6 1.9l0.6 1.8l0.7 1.9l0.6 1.8l0.6 1.8l0.6 1.8l0.6 1.8l0.7 1.8l0.6 1.7l0.6 1.7l0.6 1.6l0.6 1.6l0.7 1.6l0.6 1.6l0.6 1.6l0.6 1.6l0.6 1.7l0.7 1.6l0.6 1.7l0.6 1.8l0.6 1.8l0.6 1.9l0.7 2.0l0.6 2.0l0.6 2.0l0.6 2.0l0.6 2.0l0.7 2.0l0.6 2.0l0.6 2.0l0.6 2.0l0.6 2.0l0.7 2.0l0.6 1.9l0.6 2.0l0.6 2.0l0.6 2.0l0.7 2.0l0.6 2.0l0.6 2.0l0.6 2.1l0.6 2.1l0.7 2.1l0.6 2.1l0.6 2.2l0.6 2.1l0.6 2.1l0.7 2.0l0.6 2.0l0.6 1.9l0.6 1.8l0.6 1.9l0.7 1.7l0.6 1.8l0.6 1.7l0.6 1.6l0.6 1.7l0.7 1.6l0.6 1.7l0.6 1.6l0.6 1.6l0.6 1.6l0.7 1.7l0.6 1.6l0.6 1.5l0.6 1.6l0.6 1.6l0.7 1.5l0.6 1.6l0.6 1.5l0.6 1.5l0.6 1.6l0.7 1.5l0.6 1.5l0.6 1.6l0.6 1.5l0.6 1.5l0.7 1.5l0.6 1.4l0.6 1.5l0.6 1.4l0.6 1.3l0.7 1.4l0.6 1.3l0.6 1.3l0.6 1.3l0.6 1.3l0.7 1.2l0.6 1.2l0.6 1.3l0.6 1.2l0.6 1.2l0.7 1.2l0.6 1.2l0.6 1.2l0.6 1.1l0.6 1.2l0.7 1.2l0.6 1.2l0.6 1.1l0.6 1.2l0.6 1.2l0.7 1.2l0.6 1.1l0.6 1.2l0.6 1.2l0.6 1.1l0.7 1.1l0.6 1.2l0.6 1.1l0.6 1.1l0.6 1.1l0.7 1.0l0.6 1.1l0.6 1.0l0.6 1.1l0.6 1.0l0.7 1.0l0.6 0.9l0.6 1.0l0.6 0.9l0.6 0.9l0.7 0.9l0.6 0.9l0.6 0.9l0.6 0.9l0.6 0.9l0.7 0.8l0.6 0.9l0.6 0.8l0.6 0.9l0.6 0.8l0.7 0.8l0.6 0.8l0.6 0.9l0.6 0.8l0.6 0.8l0.7 0.8l0.6 0.8l0.6 0.8l0.6 0.8l0.6 0.7l0.7 0.8l0.6 0.8l0.6 0.8l0.6 0.7l0.6 0.8l0.7 0.7l0.6 0.8l0.6 0.7l0.6 0.7l0.6 0.8l0.7 0.7l0.6 0.7l0.6 0.7l0.6 0.7l0.6 0.7l0.7 0.7l0.6 0.6l0.6 0.7l0.6 0.7l0.6 0.7l0.7 0.6l0.6 0.7l0.6 0.7l0.6 0.6l0.6 0.7l0.7 0.7l0.6 0.6l0.6 0.6l0.6 0.7l0.6 0.6l0.7 0.6l0.6 0.6l0.6 0.6l0.6 0.6l0.6 0.6l0.7 0.6l0.6 0.5l0.6 0.5l0.6 0.6l0.6 0.5l0.7 0.5l0.6 0.5l0.6 0.4l0.6 0.5l0.6 0.5l0.7 0.4l0.6 0.5l0.6 0.4l0.6 0.4l0.6 0.5l0.7 0.4l0.6 0.4l0.6 0.4l0.6 0.4l0.6 0.4l0.7 0.4l0.6 0.4l0.6 0.4l0.6 0.3l0.6 0.4l0.7 0.4l0.6 0.3l0.6 0.4l0.6 0.3l0.6 0.4l0.7 0.3l0.6 0.4l0.6 0.3l0.6 0.3l0.6 0.3l0.7 0.3l0.6 0.3l0.6 0.3l0.6 0.3l0.6 0.3l0.7 0.3l0.6 0.3l0.6 0.3l0.6 0.3l0.6 0.3l0.7 0.2l0.6 0.3l0.6 0.3l0.6 0.3l0.6 0.3l0.7 0.2l0.6 0.3l0.6 0.3l0.6 0.3l0.6 0.3l0.7 0.3l0.6 0.2l0.6 0.3l0.6 0.3l0.6 0.4l0.7 0.3l0.6 0.3l0.6 0.3l0.6 0.3l0.6 0.3l0.7 0.3l0.6 0.3l0.6 0.2l0.6 0.3l0.6 0.2l0.7 0.2l0.6 0.2l0.6 0.2l0.6 0.2l0.6 0.2l0.7 0.1l0.6 0.2l0.6 0.2l0.6 0.1l0.6 0.2l0.7 0.1l0.6 0.2l0.6 0.1l0.6 0.2l0.6 0.1l0.7 0.2l0.6 0.1l0.6 0.1l0.6 0.2l0.6 0.1l0.7 0.1l0.6 0.1l0.6 0.2l0.6 0.1l0.6 0.1l0.7 0.1l0.6 0.2l0.6 0.1l0.6 0.2l0.6 0.1l0.7 0.2l0.6 0.2l0.6 0.2l0.6 0.2l0.6 0.2l0.7 0.3l0.6 0.2l0.6 0.2l0.6 0.3l0.6 0.2l0.7 0.2l0.6 0.1l0.6 0.2l0.6 0.1l0.6 0.1l0.7 0.1l0.6 0.1l0.6 0.0l0.6 0.1l0.6 0.1l0.7 0.0l0.6 0.1l0.6 0.1l0.6 0.1l0.6 0.0l0.7 0.1l0.6 0.2l0.6 0.1l0.6 0.1l0.6 0.2l0.7 0.1l0.6 0.1l0.6 0.2l0.6 0.1l0.6 0.2l0.7 0.1l0.6 0.1l0.6 0.1l0.6 0.1l0.6 0.0l0.7 0.1l0.6 0.1l0.6 0.0l0.6 0.1l0.6 0.0l0.7 0.1l0.6 0.0l0.6 0.1l0.6 0.0l0.6 0.1l0.7 0.0l0.6 0.1l0.6 0.0l0.6 0.1l0.6 0.1l0.7 0.0l0.6 0.1l0.6 0.0l0.6 0.1l0.6 0.1l0.7 0.0l0.6 0.1l0.6 0.1l0.6 0.0l0.6 0.1l0.7 0.1l0.6 0.0l0.6 0.1l0.6 0.1l0.6 0.0l0.7 0.1l0.6 0.1l0.6 0.1l0.6 0.0l0.6 0.1l0.7 0.1l0.6 0.1l0.6 0.1l0.6 0.1l0.6 0.0l0.7 0.1l0.6 0.1l0.6 0.0l0.6 0.1l0.6 0.1l0.7 0.0l0.6 0.1l0.6-0.0l0.6 0.0l0.6 0.1l0.7 0.0l0.6 0.0l0.6 0.1l0.6-0.0l0.6 0.0l0.7 0.1l0.6-0.0l0.6 0.0l0.6 0.0l0.6 0.1l0.7 0.0l0.6 0.0l0.6 0.1l0.6 0.0l0.6 0.0l0.7 0.1l0.6 0.0l0.6 0.0l0.6 0.1l0.6 0.0l0.7 0.0l0.6 0.1l0.6 0.0l0.6 0.0l0.6 0.1l0.7-0.0l0.6 0.0l0.6 0.0l0.6 0.1l0.6-0.0l0.7-0.0l0.6 0.0l0.6 0.0l0.6 0.0l0.6 0.1l0.7-0.0l0.6-0.0l0.6 0.0l0.6 0.0l0.6 0.1l0.7-0.0l0.6-0.0l0.6 0.0l0.6 0.0l0.6 0.1l0.7-0.0l0.6 0.0l0.6 0.1l0.6-0.0l0.6 0.0l0.7 0.0l0.6 0.1l0.6 0.0l0.6 0.0l0.6 0.1l0.7-0.0l0.6-0.0l0.6-0.0l0.6-0.0l0.6-0.0l0.7-0.0l0.6-0.0l0.6-0.0l0.6-0.0l0.6-0.0l0.7-0.0l0.6-0.0l0.6-0.0l0.6-0.0l0.6-0.0l0.7-0.0l0.6-0.0l0.6-0.0l0.6-0.0l0.6-0.0l0.7-0.0l0.6-0.0l0.6-0.0l0.6-0.0l0.6-0.0l0.7-0.0l-0.0-0.0" fill="none" stroke="#ff0000" stroke-width="5.3" stroke-linecap="round" stroke-dasharray="0 10"/>
<path d="M79.0 475.0l0.6 0.0l0.6 0.0l0.7 0.0l0.6 0.0l0.6 0.0l0.6 0.0l0.6 0.0l0.7 0.0l0.6 0.0l0.6 0.0l0.6 0.0l0.6 0.0l0.7 0.0l0.6 0.0l0.6 0.0l0.6 0.0l0.6 0.0l0.7 0.0l0.6 0.0l0.6 0.0l0.6 0.0l0.6 0.0l0.7 0.0l0.6 0.0l0.6 0.0l0.6 0.0l0.6 0.0l0.7 0.0l0.6 0.0l0.6 0.0l0.6 0.0l0.6 0.0l0.7 0.0l0.6 0.0l0.6 0.0l0.6 0.0l0.6 0.0l0.7 0.0l0.6 0.0l0.6 0.0l0.6 0.0l0.6 0.0l0.7 0.0l0.6 0.0l0.6 0.0l0.6 0.0l0.6 0.0l0.7 0.0l0.6 0.0l0.6 0.0l0.6 0.0l0.6 0.0l0.7 0.0l0.6 0.0l0.6 0.0l0.6 0.0l0.6 0.0l0.7 0.0l0.6 0.0l0.6 0.0l0.6 0.0l0.6 0.0l0.7 0.0l0.6 0.0l0.6 0.0l0.6 0.0l0.6 0.0l0.7 0.0l0.6 0.0l0.6 0.0l0.6 0.0l0.6 0.0l0.7 0.0l0.6 0.0l0.6 0.0l0.6 0.0l0.6 0.0l0.7 0.0l0.6 0.0l0.6 0.0l0.6 0.0l0.6 0.0l0.7 0.0l0.6 0.0l0.6 0.0l0.6 0.0l0.6 0.0l0.7 0.0l0.6 0.0l0.6 0.0l0.6 0.0l0.6 0.0l0.7 0.0l0.6 0.0l0.6 0.0l0.6 0.0l0.6 0.0l0.7 0.0l0.6 0.0l0.6 0.0l0.6 0.0l0.6 0.0l0.7 0.0l0.6 0.0l0.6 0.0l0.6 0.0l0.6 0.0l0.7 0.0l0.6 0.0l0.6 0.0l0.6 0.0l0.6 0.0l0.7 0.0l0.6 0.0l0.6 0.0l0.6 0.0l0.6 0.0l0.7 0.0l0.6 0.0l0.6 0.0l0.6 0.0l0.6 0.0l0.7 0.0l0.6 0.0l0.6 0.0l0.6 0.0l0.6 0.0l0.7 0.0l0.6 0.0l0.6 0.0l0.6-0.0l0.6-0.0l0.7-0.0l0.6-0.0l0.6-0.0l0.6-0.0l0.6-0.0l0.7-0.0l0.6-0.0l0.6-0.0l0.6-0.0l0.6-0.0l0.7-0.0l0.6-0.0l0.6-0.0l0.6-0.0l0.6-0.0l0.7-0.0l0.6-0.0l0.6-0.0l0.6-0.0l0.6-0.0l0.7-0.0l0.6-0.0l0.6-0.0l0.6-0.1l0.6 0.0l0.7 0.0l0.6 0.0l0.6 0.0l0.6 0.0l0.6 0.0l0.7 0.0l0.6 0.0l0.6 0.0l0.6-0.0l0.6-0.0l0.7-0.0l0.6-0.0l0.6-0.0l0.6-0.0l0.6-0.0l0.7-0.0l0.6-0.1l0.6 0.0l0.6 0.0l0.6 0.0l0.7 0.0l0.6 0.0l0.6-0.0l0.6-0.0l0.6-0.0l0.7-0.0l0.6-0.0l0.6-0.0l0.6-0.1l0.6 0.0l0.7 0.0l0.6 0.0l0.6 0.0l0.6-0.0l0.6-0.0l0.7-0.0l0.6-0.0l0.6-0.0l0.6-0.1l0.6 0.0l0.7 0.0l0.6 0.0l0.6 0.0l0.6-0.0l0.6-0.0l0.7-0.0l0.6-0.1l0.6 0.0l0.6-0.0l0.6-0.0l0.7-0.1l0.6 0.0l0.6-0.0l0.6-0.1l0.6 0.0l0.7-0.0l0.6-0.1l0.6-0.0l0.6-0.1l0.6-0.0l0.7-0.1l0.6-0.0l0.6-0.1l0.6-0.0l0.6-0.1l0.7-0.0l0.6-0.1l0.6-0.0l0.6-0.1l0.6-0.0l0.7-0.1l0.6-0.0l0.6-0.1l0.6-0.1l0.6-0.0l0.7-0.1l0.6-0.1l0.6-0.1l0.6-0.1l0.6-0.1l0.7-0.1l0.6-0.1l0.6-0.1l0.6-0.1l0.6-0.1l0.7-0.1l0.6-0.1l0.6-0.2l0.6-0.1l0.6-0.2l0.7-0.2l0.6-0.2l0.6-0.2l0.6-0.2l0.6-0.2l0.7-0.3l0.6-0.2l0.6-0.3l0.6-0.2l0.6-0.3l0.7-0.3l0.6-0.2l0.6-0.3l0.6-0.4l0.6-0.3l0.7-0.3l0.6-0.4l0.6-0.4l0.6-0.4l0.6-0.5l0.7-0.4l0.6-0.5l0.6-0.5l0.6-0.5l0.6-0.5l0.7-0.5l0.6-0.6l0.6-0.6l0.6-0.6l0.6-0.7l0.7-0.8l0.6-0.8l0.6-0.8l0.6-0.9l0.6-0.9l0.7-0.9l0.6-1.0l0.6-1.0l0.6-1.1l0.6-1.2l0.7-1.3l0.6-1.2l0.6-1.3l0.6-1.3l0.6-1.3l0.7-1.2l0.6-1.2l0.6-1.1l0.6-1.2l0.6-1.2l0.7-1.2l0.6-1.4l0.6-1.4l0.6-1.6l0.6-1.7l0.7-1.8l0.6-1.9l0.6-2.0l0.6-1.9l0.6-2.0l0.7-2.1l0.6-2.1l0.6-2.1l0.6-2.1l0.6-2.1l0.7-2.0l0.6-2.1l0.6-2.0l0.6-2.1l0.6-2.0l0.7-2.0l0.6-2.1l0.6-2.2l0.6-2.3l0.6-2.6l0.7-2.8l0.6-2.8l0.6-2.8l0.6-3.0l0.6-3.0l0.7-2.8l0.6-2.5l0.6-2.5l0.6-2.3l0.6-2.3l0.7-2.3l0.6-2.3l0.6-2.5l0.6-2.7l0.6-2.9l0.7-3.3l0.6-3.5l0.6-3.5l0.6-3.5l0.6-3.1l0.7-2.8l0.6-2.4l0.6-2.3l0.6-2.5l0.6-2.8l0.7-3.1l0.6-3.2l0.6-3.4l0.6-3.5l0.6-3.5l0.7-3.5l0.6-3.5l0.6-3.6l0.6-3.6l0.6-3.8l0.7-4.0l0.6-4.4l0.6-4.9l0.6-5.3l0.6-5.3l0.7-5.2l0.6-4.7l0.6-4.1l0.6-3.6l0.6-3.3l0.7-3.1l0.6-3.1l0.6-3.2l0.6-3.2l0.6-3.3l0.7-3.2l0.6-3.2l0.6-3.3l0.6-3.4l0.6-3.6l0.7-3.8l0.6-3.9l0.6-4.0l0.6-4.0l0.6-3.9l0.7-3.8l0.6-3.8l0.6-3.7l0.6-3.7l0.6-3.6l0.7-3.7l0.6-3.6l0.6-3.5l0.6-3.5l0.6-3.5l0.7-3.5l0.6-3.5l0.6-3.5l0.6-3.4l0.6-3.3l0.7-3.2l0.6-3.0l0.6-2.9l0.6-2.8l0.6-2.7l0.7-2.6l0.6-2.5l0.6-2.5l0.6-2.3l0.6-2.3l0.7-2.4l0.6-2.7l0.6-2.8l0.6-2.6l0.6-2.2l0.7-2.1l0.6-1.9l0.6-1.7l0.6-1.7l0.6-1.7l0.7-1.7l0.6-1.5l0.6-1.6l0.6-1.4l0.6-1.3l0.7-1.2l0.6-1.1l0.6-1.0l0.6-1.0l0.6-0.9l0.7-0.9l0.6-0.8l0.6-0.8l0.6-0.7l0.6-0.7l0.7-0.6l0.6-0.6l0.6-0.6l0.6-0.5l0.6-0.5l0.7-0.5l0.6-0.5l0.6-0.5l0.6-0.5l0.6-0.5l0.7-0.5l0.6-0.5l0.6-0.4l0.6-0.5l0.6-0.4l0.7-0.4l0.6-0.5l0.6-0.4l0.6-0.5l0.6-0.4l0.7-0.5l0.6-0.6l0.6-0.5l0.6-0.6l0.6-0.6l0.7-0.5l0.6-0.5l0.6-0.4l0.6-0.2l0.6-0.2l0.7-0.0l0.6-0.1l0.6-0.0l0.6-0.0l0.6-0.1l0.7 0.0l0.6 0.0l0.6 0.0l0.6 0.0l0.6 0.1l0.7 0.3l0.6 0.3l0.6 0.4l0.6 0.4l0.6 0.4l0.7 0.5l0.6 0.6l0.6 0.6l0.6 0.7l0.6 0.8l0.7 0.7l0.6 0.9l0.6 1.0l0.6 1.0l0.6 1.1l0.7 1.2l0.6 1.3l0.6 1.4l0.6 1.5l0.6 1.6l0.7 1.7l0.6 1.7l0.6 1.9l0.6 1.9l0.6 2.1l0.7 2.1l0.6 2.1l0.6 2.1l0.6 2.1l0.6 2.0l0.7 2.1l0.6 2.4l0.6 3.0l0.6 3.5l0.6 3.2l0.7 2.5l0.6 2.1l0.6 1.9l0.6 2.0l0.6 2.0l0.7 2.3l0.6 2.4l0.6 2.4l0.6 2.5l0.6 2.6l0.7 2.7l0.6 2.9l0.6 3.0l0.6 3.1l0.6 3.1l0.7 2.9l0.6 2.8l0.6 2.6l0.6 2.4l0.6 2.4l0.7 2.4l0.6 2.2l0.6 2.3l0.6 2.1l0.6 2.2l0.7 2.1l0.6 2.1l0.6 2.0l0.6 2.0l0.6 1.9l0.7 1.9l0.6 1.9l0.6 1.9l0.6 1.8l0.6 1.9l0.7 1.9l0.6 1.9l0.6 1.9l0.6 1.9l0.6 1.9l0.7 1.9l0.6 1.9l0.6 1.9l0.6 1.9l0.6 1.8l0.7 1.9l0.6 1.8l0.6 1.8l0.6 1.8l0.6 1.8l0.7 1.8l0.6 1.7l0.6 1.7l0.6 1.6l0.6 1.6l0.7 1.6l0.6 1.6l0.6 1.6l0.6 1.6l0.6 1.7l0.7 1.6l0.6 1.7l0.6 1.8l0.6 1.8l0.6 1.9l0.7 2.0l0.6 2.0l0.6 2.0l0.6 2.0l0.6 2.0l0.7 2.0l0.6 2.0l0.6 2.0l0.6 2.0l0.6 2.0l0.7 2.0l0.6 1.9l0.6 2.0l0.6 2.0l0.6 2.0l0.7 2.0l0.6 2.0l0.6 2.0l0.6 2.1l0.6 2.1l0.7 2.1l0.6 2.1l0.6 2.2l0.6 2.1l0.6 2.1l0.7 2.0l0.6 2.0l0.6 1.9l0.6 1.8l0.6 1.9l0.7 1.7l0.6 1.8l0.6 1.7l0.6 1.6l0.6 1.7l0.7 1.6l0.6 1.7l0.6 1.6l0.6 1.6l0.6 1.6l0.7 1.7l0.6 1.6l0.6 1.5l0.6 1.6l0.6 1.6l0.7 1.5l0.6 1.6l0.6 1.5l0.6 1.5l0.6 1.6l0.7 1.5l0.6 1.5l0.6 1.6l0.6 1.5l0.6 1.5l0.7 1.5l0.6 1.4l0.6 1.5l0.6 1.4l0.6 1.3l0.7 1.4l0.6 1.3l0.6 1.3l0.6 1.3l0.6 1.3l0.7 1.2l0.6 1.2l0.6 1.3l0.6 1.2l0.6 1.2l0.7 1.2l0.6 1.2l0.6 1.2l0.6 1.1l0.6 1.2l0.7 1.2l0.6 1.2l0.6 1.1l0.6 1.2l0.6 1.2l0.7 1.2l0.6 1.1l0.6 1.2l0.6 1.2l0.6 1.1l0.7 1.1l0.6 1.2l0.6 1.1l0.6 1.1l0.6 1.1l0.7 1.0l0.6 1.1l0.6 1.0l0.6 1.1l0.6 1.0l0.7 1.0l0.6 0.9l0.6 1.0l0.6 0.9l0.6 0.9l0.7 0.9l0.6 0.9l0.6 0.9l0.6 0.9l0.6 0.9l0.7 0.8l0.6 0.9l0.6 0.8l0.6 0.9l0.6 0.8l0.7 0.8l0.6 0.8l0.6 0.9l0.6 0.8l0.6 0.8l0.7 0.8l0.6 0.8l0.6 0.8l0.6 0.8l0.6 0.7l0.7 0.8l0.6 0.8l0.6 0.8l0.6 0.7l0.6 0.8l0.7 0.7l0.6 0.8l0.6 0.7l0.6 0.7l0.6 0.8l0.7 0.7l0.6 0.7l0.6 0.7l0.6 0.7l0.6 0.7l0.7 0.7l0.6 0.6l0.6 0.7l0.6 0.7l0.6 0.7l0.7 0.6l0.6 0.7l0.6 0.7l0.6 0.6l0.6 0.7l0.7 0.7l0.6 0.6l0.6 0.6l0.6 0.7l0.6 0.6l0.7 0.6l0.6 0.6l0.6 0.6l0.6 0.6l0.6 0.6l0.7 0.6l0.6 0.5l0.6 0.5l0.6 0.6l0.6 0.5l0.7 0.5l0.6 0.5l0.6 0.4l0.6 0.5l0.6 0.5l0.7 0.4l0.6 0.5l0.6 0.4l0.6 0.4l0.6 0.5l0.7 0.4l0.6 0.4l0.6 0.4l0.6 0.4l0.6 0.4l0.7 0.4l0.6 0.4l0.6 0.4l0.6 0.3l0.6 0.4l0.7 0.4l0.6 0.3l0.6 0.4l0.6 0.3l0.6 0.4l0.7 0.3l0.6 0.4l0.6 0.3l0.6 0.3l0.6 0.3l0.7 0.3l0.6 0.3l0.6 0.3l0.6 0.3l0.6 0.3l0.7 0.3l0.6 0.3l0.6 0.3l0.6 0.3l0.6 0.3l0.7 0.2l0.6 0.3l0.6 0.3l0.6 0.3l0.6 0.3l0.7 0.2l0.6 0.3l0.6 0.3l0.6 0.3l0.6 0.3l0.7 0.3l0.6 0.2l0.6 0.3l0.6 0.3l0.6 0.4l0.7 0.3l0.6 0.3l0.6 0.3l0.6 0.3l0.6 0.3l0.7 0.3l0.6 0.3l0.6 0.2l0.6 0.3l0.6 0.2l0.7 0.2l0.6 0.2l0.6 0.2l0.6 0.2l0.6 0.2l0.7 0.1l0.6 0.2l0.6 0.2l0.6 0.1l0.6 0.2l0.7 0.1l0.6 0.2l0.6 0.1l0.6 0.2l0.6 0.1l0.7 0.2l0.6 0.1l0.6 0.1l0.6 0.2l0.6 0.1l0.7 0.1l0.6 0.1l0.6 0.2l0.6 0.1l0.6 0.1l0.7 0.1l0.6 0.2l0.6 0.1l0.6 0.2l0.6 0.1l0.7 0.2l0.6 0.2l0.6 0.2l0.6 0.2l0.6 0.2l0.7 0.3l0.6 0.2l0.6 0.2l0.6 0.3l0.6 0.2l0.7 0.2l0.6 0.1l0.6 0.2l0.6 0.1l0.6 0.1l0.7 0.1l0.6 0.1l0.6 0.0l0.6 0.1l0.6 0.1l0.7 0.0l0.6 0.1l0.6 0.1l0.6 0.1l0.6 0.0l0.7 0.1l0.6 0.2l0.6 0.1l0.6 0.1l0.6 0.2l0.7 0.1l0.6 0.1l0.6 0.2l0.6 0.1l0.6 0.2l0.7 0.1l0.6 0.1l0.6 0.1l0.6 0.1l0.6 0.0l0.7 0.1l0.6 0.1l0.6 0.0l0.6 0.1l0.6 0.0l0.7 0.1l0.6 0.0l0.6 0.1l0.6 0.0l0.6 0.1l0.7 0.0l0.6 0.1l0.6 0.0l0.6 0.1l0.6 0.1l0.7 0.0l0.6 0.1l0.6 0.0l0.6 0.1l0.6 0.1l0.7 0.0l0.6 0.1l0.6 0.1l0.6 0.0l0.6 0.1l0.7 0.1l0.6 0.0l0.6 0.1l0.6 0.1l0.6 0.0l0.7 0.1l0.6 0.1l0.6 0.1l0.6 0.0l0.6 0.1l0.7 0.1l0.6 0.1l0.6 0.1l0.6 0.1l0.6 0.0l0.7 0.1l0.6 0.1l0.6 0.0l0.6 0.1l0.6 0.1l0.7 0.0l0.6 0.1l0.6-0.0l0.6 0.0l0.6 0.1l0.7 0.0l0.6 0.0l0.6 0.1l0.6-0.0l0.6 0.0l0.7 0.1l0.6-0.0l0.6 0.0l0.6 0.0l0.6 0.1l0.7 0.0l0.6 0.0l0.6 0.1l0.6 0.0l0.6 0.0l0.7 0.1l0.6 0.0l0.6 0.0l0.6 0.1l0.6 0.0l0.7 0.0l0.6 0.1l0.6 0.0l0.6 0.0l0.6 0.1l0.7-0.0l0.6 0.0l0.6 0.0l0.6 0.1l0.6-0.0l0.7-0.0l0.6 0.0l0.6 0.0l0.6 0.0l0.6 0.1l0.7-0.0l0.6-0.0l0.6 0.0l0.6 0.0l0.6 0.1l0.7-0.0l0.6-0.0l0.6 0.0l0.6 0.0l0.6 0.1l0.7-0.0l0.6 0.0l0.6 0.1l0.6-0.0l0.6 0.0l0.7 0.0l0.6 0.1l0.6 0.0l0.6 0.0l0.6 0.1l0.7-0.0l0.6-0.0l0.6-0.0l0.6-0.0l0.6-0.0l0.7-0.0l0.6-0.0l0.6-0.0l0.6-0.0l0.6-0.0l0.7-0.0l0.6-0.0l0.6-0.0l0.6-0.0l0.6-0.0l0.7-0.0l0.6-0.0l0.6-0.0l0.6-0.0l0.6-0.0l0.7-0.0l0.6-0.0l0.6-0.0l0.6-0.0l0.6-0.0l0.7-0.0l-0.0-0.0" fill="none" stroke="#f0042a" stroke-width="5.3" stroke-linecap="round" stroke-dasharray="0 10" clip-path="url(#clipL)"/>
<path d="M103.0 463.7l0.6 1.5l0.6-0.7l0.7-3.2l0.6 0.5l0.6 3.2l0.6-5.0l0.6 4.7l0.7-0.2l0.6-1.9l0.6-0.9l0.6-0.2l0.6-0.2l0.7 1.1l0.6 0.3l0.6 0.3l0.6 2.5l0.6-1.2l0.7-1.0l0.6 2.1l0.6-4.4l0.6-0.4l0.6 2.6l0.7-3.3l0.6-0.0l0.6 2.7l0.6-0.3l0.6 2.6l0.7-1.7l0.6-0.7l0.6-0.1l0.6-1.4l0.6-1.4l0.7 1.0l0.6 2.9l0.6-2.9l0.6 1.0l0.6-2.1l0.7 4.7l0.6-3.9l0.6 0.7l0.6 3.5l0.6-2.2l0.7 2.0l0.6-1.2l0.6 0.5l0.6-3.7l0.6 2.5l0.7-0.2l0.6 2.1l0.6-2.9l0.6 1.3l0.6-3.1l0.7 1.9l0.6-0.4l0.6-1.0l0.6 3.8l0.6-2.6l0.7 3.5l0.6-2.3l0.6 0.1l0.6 0.1l0.6 0.2l0.7-3.0l0.6 1.6l0.6-1.2l0.6 0.9l0.6-1.8l0.7 5.0l0.6-4.4l0.6 2.6l0.6-2.2l0.6 3.3l0.7-1.3l0.6-3.1l0.6 4.1l0.6 0.5l0.6-0.3l0.7-2.0l0.6-2.5l0.6 0.3l0.6 4.1l0.6-2.2l0.7-2.2l0.6 4.0l0.6-1.4l0.6-0.5l0.6-1.2l0.7 0.2l0.6-1.1l0.6-1.2l0.6 4.8l0.6-2.4l0.7 0.4l0.6-1.4l0.6 2.5l0.6-4.3l0.6 1.9l0.7-2.0l0.6 0.5l0.6 4.8l0.6-1.9l0.6-1.4l0.7 0.5l0.6 2.0l0.6-3.2l0.6 1.4l0.6 0.5l0.7-2.0l0.6 0.9l0.6 1.3l0.6 0.8l0.6-4.5l0.7 4.5l0.6-5.4l0.6 4.2l0.6 0.3l0.6-4.0l0.7 1.6l0.6 2.2l0.6-4.6l0.6 3.5l0.6 0.9l0.7-1.7l0.6 1.2l0.6-2.9l0.6-0.2l0.6 0.9l0.7-1.1l0.6 0.9l0.6 3.4l0.6-2.2l0.6-1.3l0.7-0.5l0.6 3.9l0.6-2.9l0.6 3.0l0.6-2.7l0.7-0.0l0.6 2.1l0.6-0.9l0.6-1.2l0.6-0.5l0.7 1.4l0.6-1.5l0.6 1.6l0.6-2.7l0.6 1.1l0.7 0.3l0.6 1.3l0.6-2.2l0.6 1.7l0.6-0.4l0.7 0.1l0.6-0.3l0.6 1.1l0.6-2.0l0.6 0.2l0.7-0.7l0.6-0.4l0.6 0.5l0.6 2.2l0.6-0.3l0.7-2.3l0.6 1.6l0.6-0.4l0.6 0.3l0.6 0.2l0.7-1.1l0.6 2.1l0.6-1.6l0.6 0.5l0.6 0.1l0.7-1.4l0.6-0.4l0.6 1.1l0.6 1.1l0.6 0.1l0.7-0.3l0.6-1.9l0.6 2.5l0.6-0.3l0.6 0.2l0.7-1.1l0.6 1.2l0.6-2.7l0.6-0.0l0.6-0.1l0.7 0.7l0.6 0.0l0.6-0.2l0.6 1.2l0.6-1.6l0.7 1.7l0.6-1.3l0.6 1.6l0.6-2.1l0.6 0.9l0.7 2.0l0.6-1.3l0.6 0.9l0.6-0.5l0.6-0.2l0.7-1.3l0.6 1.2l0.6-1.7l0.6 2.3l0.6 0.4l0.7-0.3l0.6-2.6l0.6 0.9l0.6-0.2l0.6-0.6l0.7 1.5l0.6 0.5l0.6-1.6l0.6 1.7l0.6-0.2l0.7-2.1l0.6 1.9l0.6 0.4l0.6-2.2l0.6 1.2l0.7 0.2l0.6-0.0l0.6-1.6l0.6 1.8l0.6 0.0l0.7 0.7l0.6-0.0l0.6-1.5l0.6 1.3l0.6 0.5l0.7 0.2l0.6-2.3l0.6-0.3l0.6 1.9l0.6-1.3l0.7 1.0l0.6 0.8l0.6-1.2l0.6-0.3l0.6 0.4l0.7 0.3l0.6-1.2l0.6 0.5l0.6-0.6l0.6 1.0l0.7 0.3l0.6-1.1l0.6-0.1l0.6 0.2l0.6-0.8l0.7-0.0l0.6 0.0l0.6 0.1l0.6-1.0l0.6 1.3l0.7-0.6l0.6-0.8l0.6-0.7l0.6 1.2l0.6-1.6l0.7-0.2l0.6-0.3l0.6-0.4l0.6 1.5l0.6-1.7l0.7-0.2l0.6 0.7l0.6-0.8l0.6-1.4l0.6 0.1l0.7 0.5l0.6-1.5l0.6 0.2l0.6-1.8l0.6 0.9l0.7-0.4l0.6-0.4l0.6-0.9l0.6-1.2l0.6-1.2l0.7 0.4l0.6-0.1l0.6-1.8l0.6-0.5l0.6-0.1l0.7-0.2l0.6-0.3l0.6-2.4l0.6-0.6l0.6 0.7l0.7-1.1l0.6-0.5l0.6-0.1l0.6-0.9l0.6-1.0l0.7-0.9l0.6-1.7l0.6-0.3l0.6-1.9l0.6 0.3l0.7-1.1l0.6-1.2l0.6-1.8l0.6-1.4l0.6-1.2l0.7-2.1l0.6 0.4l0.6-2.0l0.6-1.7l0.6-1.1l0.7-1.1l0.6-2.2l0.6-0.6l0.6-1.3l0.6-2.8l0.7-2.1l0.6-0.4l0.6-1.2l0.6-3.6l0.6-0.5l0.7-1.6l0.6-1.7l0.6-3.6l0.6-2.1l0.6-0.1l0.7-3.9l0.6-1.9l0.6-1.1l0.6-2.2l0.6-1.1l0.7-2.9l0.6-0.1l0.6-3.2l0.6-0.5l0.6-3.3l0.7-1.1l0.6-3.0l0.6-1.5l0.6-2.2l0.6-1.3l0.7-2.9l0.6-3.2l0.6-0.3l0.6-2.7l0.6-2.3l0.7-3.9l0.6-2.1l0.6-2.9l0.6-2.7l0.6-2.8l0.7-1.6l0.6-3.5l0.6-2.6l0.6-1.3l0.6-3.6l0.7-3.7l0.6-2.2l0.6-4.2l0.6-2.8l0.6-3.8l0.7-2.8l0.6-3.0l0.6-3.2l0.6-3.1l0.6-1.8l0.7-2.3l0.6-3.8l0.6-2.4l0.6-2.3l0.6-0.3l0.7-2.2l0.6-3.7l0.6-0.5l0.6-3.9l0.6-1.6l0.7-2.3l0.6-1.5l0.6-4.3l0.6-1.8l0.6-1.9l0.7-3.6l0.6-2.1l0.6-2.1l0.6-1.6l0.6-2.7l0.7-2.4l0.6-2.7l0.6-2.6l0.6-2.1l0.6-2.9l0.7-2.3l0.6-3.3l0.6-2.8l0.6-1.1l0.6-3.7l0.7-0.9l0.6-3.1l0.6-3.1l0.6-1.3l0.6-4.3l0.7-1.8l0.6-3.7l0.6-0.9l0.6-3.6l0.6-2.4l0.7-4.0l0.6-1.7l0.6-3.1l0.6-3.0l0.6-2.2l0.7-4.0l0.6-3.0l0.6-2.3l0.6-2.6l0.6-4.1l0.7-2.2l0.6-3.9l0.6-2.1l0.6-2.3l0.6-4.3l0.7-1.2l0.6-4.2l0.6-0.7l0.6-3.7l0.6-2.7l0.7-1.9l0.6-2.9l0.6-2.1l0.6-3.8l0.6-1.3l0.7-2.3l0.6-1.4l0.6-4.1l0.6-1.2l0.6-1.6l0.7-2.1l0.6-2.9l0.6-0.7l0.6-2.6l0.6-1.9l0.7-0.2l0.6-3.2l0.6-1.1l0.6-1.0l0.6-1.8l0.7-1.9l0.6-1.0l0.6-2.3l0.6-1.1l0.6-1.0l0.7-1.6l0.6-1.2l0.6-1.6l0.6-0.7l0.6-1.4l0.7-0.2l0.6-1.9l0.6-0.9l0.6-0.5l0.6-1.9l0.7-1.8l0.6-0.5l0.6-2.5l0.6-0.5l0.6-1.4l0.7-1.8l0.6-0.4l0.6-2.3l0.6-0.1l0.6 0.2l0.7-1.3l0.6-0.9l0.6-0.5l0.6-0.8l0.6-1.0l0.7-1.0l0.6-1.2l0.6-0.2l0.6-0.5l0.6-0.1l0.7 0.7l0.6-1.8l0.6-0.1l0.6-0.6l0.6 0.2l0.7 0.6l0.6-0.3l0.6-1.2l0.6-0.2l0.6 1.4l0.7-0.7l0.6 0.5l0.6-1.1l0.6 1.9l0.6-1.0l0.7 0.5l0.6-0.5l0.6 0.6l0.6 0.9l0.6-0.3l0.7-1.2l0.6-0.1l0.6-1.6l0.6-1.1l0.6-0.5l0.7-1.6l0.6-0.5l0.6 0.3l0.6-0.0l0.6-1.6l0.7 1.6l0.6 0.3l0.6-0.6l0.6-0.6l0.6 1.7l0.7-0.7l0.6 1.2l0.6-0.2l0.6 0.9l0.6-0.4l0.7 1.0l0.6 0.8l0.6 0.9l0.6-0.1l0.6 2.6l0.7-0.6l0.6 1.0l0.6 0.8l0.6 0.5l0.6 1.7l0.7 1.8l0.6 0.9l0.6-0.1l0.6 1.0l0.6 1.4l0.7 2.0l0.6 0.4l0.6 1.8l0.6 0.3l0.6 0.7l0.7 1.1l0.6 0.6l0.6-0.1l0.6 0.5l0.6 1.0l0.7 0.9l0.6-0.0l0.6 1.4l0.6 1.2l0.6-0.2l0.7 0.9l0.6 1.0l0.6 1.2l0.6 2.4l0.6-1.0l0.7 1.4l0.6 1.0l0.6 1.7l0.6 0.1l0.6 2.1l0.7 0.4l0.6 1.4l0.6 2.3l0.6-0.1l0.6 2.2l0.7 1.0l0.6 1.5l0.6 2.5l0.6 0.6l0.6 3.8l0.7 2.4l0.6 1.9l0.6 1.1l0.6 3.6l0.6 1.9l0.7 2.3l0.6 0.7l0.6 3.4l0.6 1.7l0.6 0.1l0.7 2.2l0.6 1.1l0.6 3.4l0.6 1.9l0.6 1.7l0.7 0.8l0.6 1.6l0.6 1.5l0.6 1.2l0.6 2.2l0.7 0.5l0.6 0.7l0.6 1.6l0.6 0.1l0.6 2.7l0.7 1.0l0.6 0.5l0.6 2.1l0.6 0.9l0.6 0.2l0.7 0.6l0.6 1.2l0.6 1.4l0.6 1.4l0.6 1.6l0.7 2.4l0.6-0.0l0.6 2.8l0.6 1.0l0.6 2.0l0.7 0.7l0.6 0.8l0.6 3.4l0.6 0.5l0.6 1.5l0.7 3.2l0.6 1.5l0.6 0.6l0.6 1.8l0.6 3.1l0.7 0.3l0.6 2.6l0.6 0.5l0.6 3.2l0.6 0.2l0.7 2.5l0.6 0.6l0.6 2.8l0.6 2.2l0.6-0.0l0.7 1.9l0.6 2.5l0.6 1.2l0.6 0.7l0.6 2.1l0.7 1.0l0.6 2.3l0.6 0.1l0.6 2.3l0.6 1.0l0.7 1.5l0.6 0.5l0.6 2.1l0.6 1.2l0.6 0.6l0.7 0.5l0.6 3.3l0.6 0.8l0.6 0.2l0.6 2.4l0.7 0.4l0.6 1.7l0.6 2.3l0.6 0.5l0.6 1.0l0.7 1.5l0.6 1.0l0.6 1.8l0.6 1.6l0.6 1.3l0.7 1.3l0.6 2.5l0.6 1.0l0.6 2.7l0.6 2.0l0.7 0.1l0.6 2.3l0.6 1.4l0.6 0.7l0.6 1.7l0.7 3.2l0.6 0.7l0.6 2.3l0.6 0.1l0.6 2.8l0.7 2.3l0.6 1.7l0.6-0.2l0.6 2.9l0.6 1.4l0.7 2.5l0.6 0.2l0.6 2.1l0.6 2.9l0.6 0.9l0.7 1.5l0.6 2.7l0.6 0.1l0.6 0.9l0.6 2.2l0.7 0.8l0.6 1.2l0.6 2.3l0.6 2.1l0.6 0.4l0.7 1.4l0.6 0.4l0.6 1.8l0.6 1.5l0.6 0.8l0.7 1.6l0.6 0.5l0.6 0.3l0.6 2.0l0.6 0.8l0.7 0.2l0.6 2.2l0.6 1.6l0.6-0.9l0.6 2.2l0.7 1.5l0.6 0.0l0.6 0.6l0.6 1.2l0.6 1.5l0.7 1.4l0.6 0.5l0.6-0.6l0.6 3.4l0.6 1.3l0.7-2.0l0.6 1.4l0.6 0.6l0.6 3.4l0.6 1.1l0.7-2.5l0.6 2.0l0.6 0.2l0.6 2.0l0.6 2.7l0.7-2.8l0.6 1.3l0.6 2.1l0.6 1.0l0.6 1.8l0.7-0.6l0.6-0.6l0.6 1.7l0.6 3.8l0.6-0.4l0.7-2.3l0.6 4.1l0.6-1.7l0.6 3.1l0.6-0.5l0.7 2.4l0.6-3.0l0.6 2.2l0.6 1.9l0.6-0.2l0.7-1.3l0.6 0.5l0.6 1.4l0.6-0.7l0.6 1.6l0.7 0.0l0.6 2.6l0.6-0.0l0.6 1.9l0.6-1.3l0.7-0.9l0.6 2.4l0.6 3.3l0.6-2.6l0.6 1.5l0.7 2.9l0.6-1.6l0.6 3.8l0.6 0.9l0.6-3.6l0.7 3.6l0.6-2.7l0.6-0.1l0.6 2.8l0.6-1.9l0.7 6.9l0.6-5.1l0.6 4.9l0.6-1.0l0.6-1.8l0.7 7.1l0.6-1.4l0.6 0.5l0.6 2.7l0.6-5.6l0.7 0.7l0.6 2.6l0.6 5.6l0.6-6.5l0.6 7.9l0.7-1.8l0.6-8.5l0.6 9.6l0.6 4.6l0.6-3.2l0.7 5.7l0.6-3.4l0.6 3.5l0.6-11.3l0.6 11.0l0.7-7.4l0.6 8.5l0.6 1.6l0.6 1.6l0.6-6.1l0.7 2.4l0.6 5.1l0.6 0.7l0.6-4.8l0.6 6.0l0.7-4.5l0.6 0.3l0.6 4.3l0.6-2.1l0.6 4.5l0.7-4.2l0.6 1.1l0.6-2.3l0.6-0.2l0.6 7.6l0.7-1.3l0.6 1.7l0.6 2.0l0.6-10.5l0.6 5.9l0.7 1.1l0.6 0.9l0.6 5.5l0.6-3.5l0.6-5.5l0.7 9.7l0.6-4.3l0.6-5.0l0.6 11.9l0.6 1.3l0.7-4.5l0.6 4.5l0.6-6.3l0.6 4.8l0.6 2.6l0.7-3.1l0.6 1.6l0.6 3.6l0.6 0.3l0.6-4.6l0.7 7.1l0.6-7.0l0.6 11.2l0.6-8.8l0.6 1.1l0.7-0.2l0.6 10.2l0.6-8.2l0.6 4.4l0.6 5.3l0.7-0.0l0.6-11.0l0.6 6.5l0.6 1.5l0.6 1.7l0.7-4.3l0.6 0.3l0.6-3.8l0.6 0.8l0.6 7.2l0.7-5.9l0.6 2.1l0.6 8.7l0.6-9.7l0.6-0.2l0.7 12.5l0.6-1.8l0.6-7.3l0.6 7.3l0.6-9.3l0.7 3.7l0.6 10.3l0.6-0.5l0.6-3.3l0.6-7.3l0.7 3.5l0.6-3.8l0.6 3.1l0.6-2.5l0.6 1.8l0.7 7.7l0.6-7.4l0.6 1.1l0.6 11.3l0.6-8.0l0.7 0.2l0.6-3.3l0.6 10.9l0.6-1.5l0.6-1.6l0.7 1.4l0.6-2.6l0.6-2.3l0.6 5.3l0.6 6.0l0.7-1.8l0.6-2.5l0.6-1.6l0.6-7.7l0.6 14.1l0.7-19.8l0.6 8.2l0.6 9.3l0.6 2.1l0.6-0.1l0.7-5.2l0.6-4.2l0.6-2.2l0.6 13.6l0.6 2.3l0.7-6.1l0.6 4.8l0.6-7.5l0.6-1.3l0.6 3.4l0.7-8.2l0.6 7.6l0.6-4.0l0.6 9.0l0.6-3.4l0.7 6.5l0.6 0.7l0.6-9.9l0.6-0.4l0.6 11.7l0.7-7.4l0.6-7.0l0.6-0.7l0.6 23.9l0.6-14.1l0.7-9.2l0.6 8.4l0.6 0.1l0.6-1.0l0.6 9.6l0.7 0.2l0.6-21.6l0.6 7.5l0.6 5.0l0.6 8.0l0.7-3.6l0.6 2.2l0.6-2.7l0.6-6.7l0.6 11.6l0.7-15.0l0.6 13.0l0.6-9.5l0.6 5.4l0.6 3.8l0.7-2.5l0.6-9.3l0.2 7.2" fill="none" stroke="#ff8000" stroke-width="3.4" stroke-linejoin="round"/>
<path d="M103.0 463.7l0.6 1.5l0.6-0.7l0.7-3.2l0.6 0.5l0.6 3.2l0.6-5.0l0.6 4.7l0.7-0.2l0.6-1.9l0.6-0.9l0.6-0.2l0.6-0.2l0.7 1.1l0.6 0.3l0.6 0.3l0.6 2.5l0.6-1.2l0.7-1.0l0.6 2.1l0.6-4.4l0.6-0.4l0.6 2.6l0.7-3.3l0.6-0.0l0.6 2.7l0.6-0.3l0.6 2.6l0.7-1.7l0.6-0.7l0.6-0.1l0.6-1.4l0.6-1.4l0.7 1.0l0.6 2.9l0.6-2.9l0.6 1.0l0.6-2.1l0.7 4.7l0.6-3.9l0.6 0.7l0.6 3.5l0.6-2.2l0.7 2.0l0.6-1.2l0.6 0.5l0.6-3.7l0.6 2.5l0.7-0.2l0.6 2.1l0.6-2.9l0.6 1.3l0.6-3.1l0.7 1.9l0.6-0.4l0.6-1.0l0.6 3.8l0.6-2.6l0.7 3.5l0.6-2.3l0.6 0.1l0.6 0.1l0.6 0.2l0.7-3.0l0.6 1.6l0.6-1.2l0.6 0.9l0.6-1.8l0.7 5.0l0.6-4.4l0.6 2.6l0.6-2.2l0.6 3.3l0.7-1.3l0.6-3.1l0.6 4.1l0.6 0.5l0.6-0.3l0.7-2.0l0.6-2.5l0.6 0.3l0.6 4.1l0.6-2.2l0.7-2.2l0.6 4.0l0.6-1.4l0.6-0.5l0.6-1.2l0.7 0.2l0.6-1.1l0.6-1.2l0.6 4.8l0.6-2.4l0.7 0.4l0.6-1.4l0.6 2.5l0.6-4.3l0.6 1.9l0.7-2.0l0.6 0.5l0.6 4.8l0.6-1.9l0.6-1.4l0.7 0.5l0.6 2.0l0.6-3.2l0.6 1.4l0.6 0.5l0.7-2.0l0.6 0.9l0.6 1.3l0.6 0.8l0.6-4.5l0.7 4.5l0.6-5.4l0.6 4.2l0.6 0.3l0.6-4.0l0.7 1.6l0.6 2.2l0.6-4.6l0.6 3.5l0.6 0.9l0.7-1.7l0.6 1.2l0.6-2.9l0.6-0.2l0.6 0.9l0.7-1.1l0.6 0.9l0.6 3.4l0.6-2.2l0.6-1.3l0.7-0.5l0.6 3.9l0.6-2.9l0.6 3.0l0.6-2.7l0.7-0.0l0.6 2.1l0.6-0.9l0.6-1.2l0.6-0.5l0.7 1.4l0.6-1.5l0.6 1.6l0.6-2.7l0.6 1.1l0.7 0.3l0.6 1.3l0.6-2.2l0.6 1.7l0.6-0.4l0.7 0.1l0.6-0.3l0.6 1.1l0.6-2.0l0.6 0.2l0.7-0.7l0.6-0.4l0.6 0.5l0.6 2.2l0.6-0.3l0.7-2.3l0.6 1.6l0.6-0.4l0.6 0.3l0.6 0.2l0.7-1.1l0.6 2.1l0.6-1.6l0.6 0.5l0.6 0.1l0.7-1.4l0.6-0.4l0.6 1.1l0.6 1.1l0.6 0.1l0.7-0.3l0.6-1.9l0.6 2.5l0.6-0.3l0.6 0.2l0.7-1.1l0.6 1.2l0.6-2.7l0.6-0.0l0.6-0.1l0.7 0.7l0.6 0.0l0.6-0.2l0.6 1.2l0.6-1.6l0.7 1.7l0.6-1.3l0.6 1.6l0.6-2.1l0.6 0.9l0.7 2.0l0.6-1.3l0.6 0.9l0.6-0.5l0.6-0.2l0.7-1.3l0.6 1.2l0.6-1.7l0.6 2.3l0.6 0.4l0.7-0.3l0.6-2.6l0.6 0.9l0.6-0.2l0.6-0.6l0.7 1.5l0.6 0.5l0.6-1.6l0.6 1.7l0.6-0.2l0.7-2.1l0.6 1.9l0.6 0.4l0.6-2.2l0.6 1.2l0.7 0.2l0.6-0.0l0.6-1.6l0.6 1.8l0.6 0.0l0.7 0.7l0.6-0.0l0.6-1.5l0.6 1.3l0.6 0.5l0.7 0.2l0.6-2.3l0.6-0.3l0.6 1.9l0.6-1.3l0.7 1.0l0.6 0.8l0.6-1.2l0.6-0.3l0.6 0.4l0.7 0.3l0.6-1.2l0.6 0.5l0.6-0.6l0.6 1.0l0.7 0.3l0.6-1.1l0.6-0.1l0.6 0.2l0.6-0.8l0.7-0.0l0.6 0.0l0.6 0.1l0.6-1.0l0.6 1.3l0.7-0.6l0.6-0.8l0.6-0.7l0.6 1.2l0.6-1.6l0.7-0.2l0.6-0.3l0.6-0.4l0.6 1.5l0.6-1.7l0.7-0.2l0.6 0.7l0.6-0.8l0.6-1.4l0.6 0.1l0.7 0.5l0.6-1.5l0.6 0.2l0.6-1.8l0.6 0.9l0.7-0.4l0.6-0.4l0.6-0.9l0.6-1.2l0.6-1.2l0.7 0.4l0.6-0.1l0.6-1.8l0.6-0.5l0.6-0.1l0.7-0.2l0.6-0.3l0.6-2.4l0.6-0.6l0.6 0.7l0.7-1.1l0.6-0.5l0.6-0.1l0.6-0.9l0.6-1.0l0.7-0.9l0.6-1.7l0.6-0.3l0.6-1.9l0.6 0.3l0.7-1.1l0.6-1.2l0.6-1.8l0.6-1.4l0.6-1.2l0.7-2.1l0.6 0.4l0.6-2.0l0.6-1.7l0.6-1.1l0.7-1.1l0.6-2.2l0.6-0.6l0.6-1.3l0.6-2.8l0.7-2.1l0.6-0.4l0.6-1.2l0.6-3.6l0.6-0.5l0.7-1.6l0.6-1.7l0.6-3.6l0.6-2.1l0.6-0.1l0.7-3.9l0.6-1.9l0.6-1.1l0.6-2.2l0.6-1.1l0.7-2.9l0.6-0.1l0.6-3.2l0.6-0.5l0.6-3.3l0.7-1.1l0.6-3.0l0.6-1.5l0.6-2.2l0.6-1.3l0.7-2.9l0.6-3.2l0.6-0.3l0.6-2.7l0.6-2.3l0.7-3.9l0.6-2.1l0.6-2.9l0.6-2.7l0.6-2.8l0.7-1.6l0.6-3.5l0.6-2.6l0.6-1.3l0.6-3.6l0.7-3.7l0.6-2.2l0.6-4.2l0.6-2.8l0.6-3.8l0.7-2.8l0.6-3.0l0.6-3.2l0.6-3.1l0.6-1.8l0.7-2.3l0.6-3.8l0.6-2.4l0.6-2.3l0.6-0.3l0.7-2.2l0.6-3.7l0.6-0.5l0.6-3.9l0.6-1.6l0.7-2.3l0.6-1.5l0.6-4.3l0.6-1.8l0.6-1.9l0.7-3.6l0.6-2.1l0.6-2.1l0.6-1.6l0.6-2.7l0.7-2.4l0.6-2.7l0.6-2.6l0.6-2.1l0.6-2.9l0.7-2.3l0.6-3.3l0.6-2.8l0.6-1.1l0.6-3.7l0.7-0.9l0.6-3.1l0.6-3.1l0.6-1.3l0.6-4.3l0.7-1.8l0.6-3.7l0.6-0.9l0.6-3.6l0.6-2.4l0.7-4.0l0.6-1.7l0.6-3.1l0.6-3.0l0.6-2.2l0.7-4.0l0.6-3.0l0.6-2.3l0.6-2.6l0.6-4.1l0.7-2.2l0.6-3.9l0.6-2.1l0.6-2.3l0.6-4.3l0.7-1.2l0.6-4.2l0.6-0.7l0.6-3.7l0.6-2.7l0.7-1.9l0.6-2.9l0.6-2.1l0.6-3.8l0.6-1.3l0.7-2.3l0.6-1.4l0.6-4.1l0.6-1.2l0.6-1.6l0.7-2.1l0.6-2.9l0.6-0.7l0.6-2.6l0.6-1.9l0.7-0.2l0.6-3.2l0.6-1.1l0.6-1.0l0.6-1.8l0.7-1.9l0.6-1.0l0.6-2.3l0.6-1.1l0.6-1.0l0.7-1.6l0.6-1.2l0.6-1.6l0.6-0.7l0.6-1.4l0.7-0.2l0.6-1.9l0.6-0.9l0.6-0.5l0.6-1.9l0.7-1.8l0.6-0.5l0.6-2.5l0.6-0.5l0.6-1.4l0.7-1.8l0.6-0.4l0.6-2.3l0.6-0.1l0.6 0.2l0.7-1.3l0.6-0.9l0.6-0.5l0.6-0.8l0.6-1.0l0.7-1.0l0.6-1.2l0.6-0.2l0.6-0.5l0.6-0.1l0.7 0.7l0.6-1.8l0.6-0.1l0.6-0.6l0.6 0.2l0.7 0.6l0.6-0.3l0.6-1.2l0.6-0.2l0.6 1.4l0.7-0.7l0.6 0.5l0.6-1.1l0.6 1.9l0.6-1.0l0.7 0.5l0.6-0.5l0.6 0.6l0.6 0.9l0.6-0.3l0.7-1.2l0.6-0.1l0.6-1.6l0.6-1.1l0.6-0.5l0.7-1.6l0.6-0.5l0.6 0.3l0.6-0.0l0.6-1.6l0.7 1.6l0.6 0.3l0.6-0.6l0.6-0.6l0.6 1.7l0.7-0.7l0.6 1.2l0.6-0.2l0.6 0.9l0.6-0.4l0.7 1.0l0.6 0.8l0.6 0.9l0.6-0.1l0.6 2.6l0.7-0.6l0.6 1.0l0.6 0.8l0.6 0.5l0.6 1.7l0.7 1.8l0.6 0.9l0.6-0.1l0.6 1.0l0.6 1.4l0.7 2.0l0.6 0.4l0.6 1.8l0.6 0.3l0.6 0.7l0.7 1.1l0.6 0.6l0.6-0.1l0.6 0.5l0.6 1.0l0.7 0.9l0.6-0.0l0.6 1.4l0.6 1.2l0.6-0.2l0.7 0.9l0.6 1.0l0.6 1.2l0.6 2.4l0.6-1.0l0.7 1.4l0.6 1.0l0.6 1.7l0.6 0.1l0.6 2.1l0.7 0.4l0.6 1.4l0.6 2.3l0.6-0.1l0.6 2.2l0.7 1.0l0.6 1.5l0.6 2.5l0.6 0.6l0.6 3.8l0.7 2.4l0.6 1.9l0.6 1.1l0.6 3.6l0.6 1.9l0.7 2.3l0.6 0.7l0.6 3.4l0.6 1.7l0.6 0.1l0.7 2.2l0.6 1.1l0.6 3.4l0.6 1.9l0.6 1.7l0.7 0.8l0.6 1.6l0.6 1.5l0.6 1.2l0.6 2.2l0.7 0.5l0.6 0.7l0.6 1.6l0.6 0.1l0.6 2.7l0.7 1.0l0.6 0.5l0.6 2.1l0.6 0.9l0.6 0.2l0.7 0.6l0.6 1.2l0.6 1.4l0.6 1.4l0.6 1.6l0.7 2.4l0.6-0.0l0.6 2.8l0.6 1.0l0.6 2.0l0.7 0.7l0.6 0.8l0.6 3.4l0.6 0.5l0.6 1.5l0.7 3.2l0.6 1.5l0.6 0.6l0.6 1.8l0.6 3.1l0.7 0.3l0.6 2.6l0.6 0.5l0.6 3.2l0.6 0.2l0.7 2.5l0.6 0.6l0.6 2.8l0.6 2.2l0.6-0.0l0.7 1.9l0.6 2.5l0.6 1.2l0.6 0.7l0.6 2.1l0.7 1.0l0.6 2.3l0.6 0.1l0.6 2.3l0.6 1.0l0.7 1.5l0.6 0.5l0.6 2.1l0.6 1.2l0.6 0.6l0.7 0.5l0.6 3.3l0.6 0.8l0.6 0.2l0.6 2.4l0.7 0.4l0.6 1.7l0.6 2.3l0.6 0.5l0.6 1.0l0.7 1.5l0.6 1.0l0.6 1.8l0.6 1.6l0.6 1.3l0.7 1.3l0.6 2.5l0.6 1.0l0.6 2.7l0.6 2.0l0.7 0.1l0.6 2.3l0.6 1.4l0.6 0.7l0.6 1.7l0.7 3.2l0.6 0.7l0.6 2.3l0.6 0.1l0.6 2.8l0.7 2.3l0.6 1.7l0.6-0.2l0.6 2.9l0.6 1.4l0.7 2.5l0.6 0.2l0.6 2.1l0.6 2.9l0.6 0.9l0.7 1.5l0.6 2.7l0.6 0.1l0.6 0.9l0.6 2.2l0.7 0.8l0.6 1.2l0.6 2.3l0.6 2.1l0.6 0.4l0.7 1.4l0.6 0.4l0.6 1.8l0.6 1.5l0.6 0.8l0.7 1.6l0.6 0.5l0.6 0.3l0.6 2.0l0.6 0.8l0.7 0.2l0.6 2.2l0.6 1.6l0.6-0.9l0.6 2.2l0.7 1.5l0.6 0.0l0.6 0.6l0.6 1.2l0.6 1.5l0.7 1.4l0.6 0.5l0.6-0.6l0.6 3.4l0.6 1.3l0.7-2.0l0.6 1.4l0.6 0.6l0.6 3.4l0.6 1.1l0.7-2.5l0.6 2.0l0.6 0.2l0.6 2.0l0.6 2.7l0.7-2.8l0.6 1.3l0.6 2.1l0.6 1.0l0.6 1.8l0.7-0.6l0.6-0.6l0.6 1.7l0.6 3.8l0.6-0.4l0.7-2.3l0.6 4.1l0.6-1.7l0.6 3.1l0.6-0.5l0.7 2.4l0.6-3.0l0.6 2.2l0.6 1.9l0.6-0.2l0.7-1.3l0.6 0.5l0.6 1.4l0.6-0.7l0.6 1.6l0.7 0.0l0.6 2.6l0.6-0.0l0.6 1.9l0.6-1.3l0.7-0.9l0.6 2.4l0.6 3.3l0.6-2.6l0.6 1.5l0.7 2.9l0.6-1.6l0.6 3.8l0.6 0.9l0.6-3.6l0.7 3.6l0.6-2.7l0.6-0.1l0.6 2.8l0.6-1.9l0.7 6.9l0.6-5.1l0.6 4.9l0.6-1.0l0.6-1.8l0.7 7.1l0.6-1.4l0.6 0.5l0.6 2.7l0.6-5.6l0.7 0.7l0.6 2.6l0.6 5.6l0.6-6.5l0.6 7.9l0.7-1.8l0.6-8.5l0.6 9.6l0.6 4.6l0.6-3.2l0.7 5.7l0.6-3.4l0.6 3.5l0.6-11.3l0.6 11.0l0.7-7.4l0.6 8.5l0.6 1.6l0.6 1.6l0.6-6.1l0.7 2.4l0.6 5.1l0.6 0.7l0.6-4.8l0.6 6.0l0.7-4.5l0.6 0.3l0.6 4.3l0.6-2.1l0.6 4.5l0.7-4.2l0.6 1.1l0.6-2.3l0.6-0.2l0.6 7.6l0.7-1.3l0.6 1.7l0.6 2.0l0.6-10.5l0.6 5.9l0.7 1.1l0.6 0.9l0.6 5.5l0.6-3.5l0.6-5.5l0.7 9.7l0.6-4.3l0.6-5.0l0.6 11.9l0.6 1.3l0.7-4.5l0.6 4.5l0.6-6.3l0.6 4.8l0.6 2.6l0.7-3.1l0.6 1.6l0.6 3.6l0.6 0.3l0.6-4.6l0.7 7.1l0.6-7.0l0.6 11.2l0.6-8.8l0.6 1.1l0.7-0.2l0.6 10.2l0.6-8.2l0.6 4.4l0.6 5.3l0.7-0.0l0.6-11.0l0.6 6.5l0.6 1.5l0.6 1.7l0.7-4.3l0.6 0.3l0.6-3.8l0.6 0.8l0.6 7.2l0.7-5.9l0.6 2.1l0.6 8.7l0.6-9.7l0.6-0.2l0.7 12.5l0.6-1.8l0.6-7.3l0.6 7.3l0.6-9.3l0.7 3.7l0.6 10.3l0.6-0.5l0.6-3.3l0.6-7.3l0.7 3.5l0.6-3.8l0.6 3.1l0.6-2.5l0.6 1.8l0.7 7.7l0.6-7.4l0.6 1.1l0.6 11.3l0.6-8.0l0.7 0.2l0.6-3.3l0.6 10.9l0.6-1.5l0.6-1.6l0.7 1.4l0.6-2.6l0.6-2.3l0.6 5.3l0.6 6.0l0.7-1.8l0.6-2.5l0.6-1.6l0.6-7.7l0.6 14.1l0.7-19.8l0.6 8.2l0.6 9.3l0.6 2.1l0.6-0.1l0.7-5.2l0.6-4.2l0.6-2.2l0.6 13.6l0.6 2.3l0.7-6.1l0.6 4.8l0.6-7.5l0.6-1.3l0.6 3.4l0.7-8.2l0.6 7.6l0.6-4.0l0.6 9.0l0.6-3.4l0.7 6.5l0.6 0.7l0.6-9.9l0.6-0.4l0.6 11.7l0.7-7.4l0.6-7.0l0.6-0.7l0.6 23.9l0.6-14.1l0.7-9.2l0.6 8.4l0.6 0.1l0.6-1.0l0.6 9.6l0.7 0.2l0.6-21.6l0.6 7.5l0.6 5.0l0.6 8.0l0.7-3.6l0.6 2.2l0.6-2.7l0.6-6.7l0.6 11.6l0.7-15.0l0.6 13.0l0.6-9.5l0.6 5.4l0.6 3.8l0.7-2.5l0.6-9.3l0.2 7.2" fill="none" stroke="#ec741c" stroke-width="3.4" stroke-linejoin="round" clip-path="url(#clipL)"/>
<path d="M610.2 391.1l0.6 1.1l0.6-2.4l0.7-0.2l0.6 7.7l0.6-1.3l0.6 1.7l0.6 2.0l0.7-10.6l0.6 5.9l0.6 1.1l0.6 1.0l0.6 5.5l0.7-3.5l0.6-5.6l0.6 9.7l0.6-4.2l0.6-5.0l0.7 11.9l0.6 1.3l0.6-4.5l0.6 4.4l0.6-6.2l0.7 4.8l0.6 2.6l0.6-3.2l0.6 1.7l0.6 3.6l0.7 0.3l0.6-4.6l0.6 7.0l0.6-6.9l0.6 11.1l0.7-8.7l0.6 1.1l0.6-0.2l0.6 10.2l0.6-8.2l0.7 4.4l0.6 5.3l0.6-0.1l0.6-10.9l0.6 6.5l0.7 1.4l0.6 1.8l0.6-4.3l0.6 0.3l0.6-3.8l0.7 0.8l0.6 7.1l0.6-5.8l0.6 2.0l0.6 8.8l0.7-9.8l0.6-0.1l0.6 12.5l0.6-1.8l0.6-7.3l0.7 7.3l0.6-9.3l0.6 3.6l0.6 10.4l0.6-0.5l0.7-3.3l0.6-7.3l0.6 3.5l0.6-3.8l0.6 3.1l0.7-2.5l0.6 1.8l0.6 7.7l0.6-7.5l0.6 1.1l0.7 11.4l0.6-8.1l0.6 0.3l0.6-3.4l0.6 11.0l0.7-1.5l0.6-1.6l0.6 1.3l0.6-2.5l0.6-2.3l0.7 5.2l0.6 6.0l0.6-1.8l0.6-2.4l0.6-1.7l0.7-7.6l0.6 14.0l0.6-19.8l0.6 8.3l0.6 9.2l0.7 2.2l0.6-0.2l0.6-5.1l0.6-4.3l0.6-2.1l0.7 13.6l0.6 2.3l0.6-6.1l0.6 4.7l0.6-7.5l0.7-1.3l0.6 3.5l0.6-8.2l0.6 7.5l0.6-3.9l0.7 8.9l0.6-3.4l0.6 6.5l0.6 0.7l0.6-9.8l0.7-0.5l0.6 11.7l0.6-7.4l0.6-7.0l0.6-0.7l0.7 24.0l0.6-14.2l0.6-9.1l0.6 8.4l0.6 0.1l0.7-1.0l0.6 9.6l0.6 0.2l0.6-21.7l0.6 7.6l0.7 4.9l0.6 8.1l0.6-3.7l0.6 2.2l0.6-2.7l0.7-6.6l0.6 11.5l0.6-15.0l0.6 13.1l0.6-9.5l0.7 5.3l0.6 3.8l0.6-2.4l0.6-9.3l0.2 7.2" fill="none" stroke="#ff8000" stroke-width="4.0" stroke-linejoin="round"/>
<path d="M79.0 473.6l0.6-2.1l0.6 0.8l0.7-0.1l0.6-0.7l0.6 1.3l0.6 0.9l0.6-1.7l0.7 1.1l0.6 0.4l0.6-1.5l0.6 1.5l0.6-0.4l0.7-0.2l0.6-1.1l0.6 0.2l0.6-0.4l0.6 1.9l0.7-0.2l0.6-1.8l0.6 1.1l0.6-0.8l0.6 1.4l0.7-0.5l0.6 0.9l0.6-0.5l0.6-1.5l0.6 0.6l0.7 0.5l0.6 0.8l0.6-1.3l0.6-0.4l0.6 0.2l0.7-0.1l0.6-0.2l0.6 0.5l0.6-0.3l0.6 0.7l0.7 0.9l0.6 0.1l0.6-1.9l0.6 1.0l0.6 0.2l0.7-1.3l0.6 0.9l0.6-0.8l0.6 0.4l0.6-0.1l0.7 1.1l0.6-1.4l0.6 0.7l0.6 0.1l0.6-0.6l0.7 1.4l0.6-1.4l0.6-0.1l0.6 0.9l0.6-0.5l0.7 0.5l0.6-1.4l0.6 0.0l0.6 1.4l0.6-0.9l0.7 1.1l0.6-1.5l0.6 0.0l0.6 1.5l0.6-1.2l0.7-0.6l0.6 0.2l0.6 1.3l0.6-1.2l0.6 0.7l0.7 0.6l0.6-0.5l0.6 0.3l0.6 0.5l0.6-1.6l0.7 1.4l0.6-0.8l0.6-0.9l0.6-0.2l0.6 0.5l0.7-0.5l0.6 1.5l0.6-0.5l0.6-1.3l0.6 2.0l0.7-0.7l0.6-0.4l0.6-0.7l0.6 0.8l0.6 1.0l0.7-0.8l0.6-0.3l0.6 0.4l0.6-0.2l0.6 0.2l0.7-1.1l0.6-0.1l0.6-0.4l0.6 2.0l0.6-2.0l0.7 0.6l0.6 0.8l0.6-0.3l0.6 1.0l0.6-1.7l0.7-0.2l0.6 0.1l0.6 0.8l0.6-0.6l0.6 0.4l0.7 0.6l0.6-0.9l0.6 0.8l0.6-1.6l0.6 1.3l0.7 0.8l0.6 0.1l0.6-0.9l0.6 1.0l0.6-1.9l0.7 0.2l0.6 0.3l0.6 0.2l0.6 0.7l0.6-0.9l0.7-1.0l0.6 1.5l0.6-1.1l0.6 1.5l0.6-1.6l0.7 0.2l0.6-0.4l0.6 0.4l0.6 0.7l0.6-0.9l0.7-0.5l0.6 1.2l0.6 0.4l0.6-1.6l0.6 0.8l0.7-0.9l0.6-0.2l0.6 0.9l0.6-0.3l0.6 1.4l0.7-2.1l0.6 1.5l0.6 0.2l0.6-0.7l0.6 0.2l0.7-0.7l0.6 0.0l0.6-0.4l0.6 2.1l0.6-2.0l0.7 0.4l0.6 1.5l0.6-0.4l0.6 0.2l0.6-0.4l0.7-0.3l0.6 1.5l0.6-1.6l0.6 0.4l0.6 1.0l0.7-1.1l0.6 1.5l0.6-2.0l0.6 0.8l0.6-0.0l0.7-0.2l0.6 0.5l0.6-1.8l0.6 1.1l0.6 0.5l0.7-1.9l0.6 1.1l0.6-0.4l0.6-0.2l0.6 0.2l0.7 0.1l0.6-0.0l0.6 0.3l0.6-0.8l0.6 0.7l0.7-1.0l0.6-1.1l0.6-0.4l0.6-0.4l0.6 0.3l0.7-0.5l0.6 1.3l0.6-0.1l0.6-0.3l0.6-0.7l0.7 0.1l0.6-0.5l0.6 1.5l0.6-2.3l0.6 0.7l0.7 0.5l0.6-1.0l0.6 1.6l0.6-1.0l0.6-0.3l0.7-0.8l0.6 0.5l0.6 0.7l0.6-0.8l0.6-0.6l0.7 1.2l0.6-0.7l0.6 1.3l0.6-0.4l0.6 0.0l0.7 0.4l0.6-0.2l0.6-1.2l0.6 0.6l0.6-0.8l0.7-0.2l0.6 0.0l0.6-0.2l0.6 0.3l0.6-0.0l0.7 1.0l0.6-1.0l0.6-0.5l0.6 0.9l0.6-0.5l0.7 1.1l0.6-1.1l0.6 0.8l0.6-1.0l0.6 0.8l0.7 0.9l0.6-1.4l0.6 0.5l0.6-0.3l0.6-1.1l0.7-0.3l0.6 1.7l0.6-1.5l0.6 0.5l0.6-1.1l0.7 0.7l0.6-2.0l0.6 0.3l0.6-0.2l0.6 0.2l0.7-2.2l0.6 0.4l0.6-0.1l0.6-0.1l0.6-1.4l0.7 0.5l0.6-0.0l0.6-0.5l0.6-1.2l0.6-0.1l0.7-0.7l0.6-0.3l0.6-0.5l0.6 0.3l0.6-1.8l0.7 0.8l0.6-1.8l0.6-0.5l0.6-0.4l0.6-0.4l0.7 0.2l0.6-0.6l0.6-0.5l0.6-1.5l0.6-1.3l0.7 0.0l0.6-0.4l0.6-2.2l0.6-0.2l0.6-2.5l0.7-0.3l0.6-1.7l0.6-0.8l0.6-1.4l0.6-2.6l0.7-0.7l0.6-1.7l0.6-1.2l0.6-2.2l0.6-1.3l0.7-1.9l0.6-3.0l0.6-1.8l0.6-1.7l0.6-3.3l0.7-0.8l0.6-2.5l0.6-2.4l0.6-0.8l0.6-2.7l0.7-2.2l0.6-2.4l0.6-1.7l0.6-3.9l0.6-2.8l0.7-2.8l0.6-3.3l0.6-1.7l0.6-3.3l0.6-2.6l0.7-2.3l0.6-3.3l0.6-3.1l0.6-2.4l0.6-2.7l0.7-2.9l0.6-2.9l0.6-2.8l0.6-2.7l0.6-4.3l0.7-2.5l0.6-5.0l0.6-3.9l0.6-4.1l0.6-3.4l0.7-3.7l0.6-3.1l0.6-3.2l0.6-4.3l0.6-2.6l0.7-4.0l0.6-3.2l0.6-3.7l0.6-2.1l0.6-4.0l0.7-2.7l0.6-4.2l0.6-2.2l0.6-3.9l0.6-2.8l0.7-2.8l0.6-3.8l0.6-2.6l0.6-2.6l0.6-4.1l0.7-2.6l0.6-3.5l0.6-3.1l0.6-2.5l0.6-3.1l0.7-2.7l0.6-2.8l0.6-3.4l0.6-3.8l0.6-3.2l0.7-3.3l0.6-3.4l0.6-4.0l0.6-4.1l0.6-4.4l0.7-2.7l0.6-4.6l0.6-3.4l0.6-2.9l0.6-4.4l0.7-2.4l0.6-4.4l0.6-3.7l0.6-2.8l0.6-3.1l0.7-4.1l0.6-3.0l0.6-4.4l0.6-3.2l0.6-4.7l0.7-3.5l0.6-3.9l0.6-2.6l0.6-3.8l0.6-3.0l0.7-3.8l0.6-2.5l0.6-2.7l0.6-4.4l0.6-2.7l0.7-2.1l0.6-3.0l0.6-2.8l0.6-3.8l0.6-2.3l0.7-3.4l0.6-2.2l0.6-2.4l0.6-3.0l0.6-2.5l0.7-2.8l0.6-3.4l0.6-3.2l0.6-2.1l0.6-4.1l0.7-1.2l0.6-2.5l0.6-1.8l0.6-2.2l0.6-2.9l0.7-1.4l0.6-1.2l0.6-1.4l0.6-1.4l0.6 0.2l0.7-1.0l0.6-1.2l0.6-1.6l0.6-0.0l0.6-0.9l0.7-1.4l0.6-1.0l0.6-0.7l0.6-0.2l0.6-0.0l0.7-1.7l0.6-0.0l0.6-0.6l0.6 0.2l0.6-1.5l0.7 0.3l0.6-0.9l0.6 0.0l0.6-0.1l0.6-0.4l0.7-0.3l0.6-1.2l0.6-0.3l0.6-0.6l0.6-0.1l0.7-0.5l0.6 0.7l0.6-1.3l0.6-0.0l0.6 0.7l0.7-0.3l0.6 0.1l0.6-1.0l0.6-0.7l0.6 0.9l0.7-0.9l0.6 0.6l0.6-1.2l0.6-0.1l0.6 0.7l0.7 0.1l0.6-0.2l0.6 0.0l0.6 0.2l0.6-0.5l0.7 0.1l0.6 0.7l0.6 0.5l0.6-0.1l0.6 0.2l0.7 0.7l0.6 0.2l0.6 0.1l0.6 1.2l0.6 0.4l0.7-1.0l0.6 1.0l0.6 0.0l0.6 0.5l0.6-0.0l0.7 0.5l0.6 0.4l0.6 0.6l0.6 1.2l0.6-0.3l0.7 1.6l0.6 0.5l0.6-0.2l0.6 1.3l0.6 1.2l0.7-0.3l0.6 2.0l0.6 1.7l0.6 2.0l0.6 2.2l0.7 1.7l0.6 2.6l0.6 1.0l0.6 1.9l0.6 2.2l0.7 0.5l0.6 1.2l0.6 2.0l0.6 0.5l0.6 1.0l0.7 0.4l0.6 1.6l0.6 0.6l0.6 1.3l0.6 1.1l0.7 0.9l0.6 2.7l0.6 1.4l0.6 2.1l0.6 0.8l0.7 1.8l0.6 1.7l0.6 2.3l0.6 2.2l0.6 2.0l0.7 2.4l0.6 2.3l0.6 3.2l0.6 1.9l0.6 3.1l0.7 1.5l0.6 2.6l0.6 3.3l0.6 0.8l0.6 2.0l0.7 2.6l0.6 1.6l0.6 1.7l0.6 2.5l0.6 1.8l0.7 1.2l0.6 2.3l0.6 1.7l0.6 2.3l0.6 0.5l0.7 1.9l0.6 2.1l0.6 0.8l0.6 2.8l0.6 1.8l0.7 0.8l0.6 2.5l0.6 1.2l0.6 3.2l0.6 1.3l0.7 2.2l0.6 2.7l0.6 3.2l0.6 1.9l0.6 4.1l0.7 2.3l0.6 2.7l0.6 2.9l0.6 2.5l0.6 3.3l0.7 2.2l0.6 1.8l0.6 1.7l0.6 1.6l0.6 1.9l0.7 1.5l0.6 1.1l0.6 2.6l0.6 0.4l0.6 1.7l0.7 0.6l0.6 2.0l0.6 1.5l0.6 0.5l0.6 2.6l0.7 0.0l0.6 1.4l0.6 1.9l0.6 0.7l0.6 2.0l0.7 0.4l0.6 1.5l0.6 1.9l0.6 1.7l0.6 1.6l0.7 0.8l0.6 2.0l0.6 1.5l0.6 2.1l0.6 1.1l0.7 2.6l0.6 1.6l0.6 1.1l0.6 2.0l0.6 1.8l0.7 2.6l0.6 1.1l0.6 1.9l0.6 2.1l0.6 0.9l0.7 2.5l0.6 0.7l0.6 1.2l0.6 1.7l0.6 2.5l0.7 1.2l0.6 2.2l0.6 1.2l0.6 1.8l0.6 1.2l0.7 1.9l0.6 1.8l0.6 1.1l0.6 1.7l0.6 2.2l0.7 1.7l0.6 0.7l0.6 1.2l0.6 2.8l0.6 1.0l0.7 2.4l0.6 1.3l0.6 0.9l0.6 2.8l0.6 0.9l0.7 2.0l0.6 2.1l0.6 0.8l0.6 2.5l0.6 0.3l0.7 1.6l0.6 2.3l0.6 1.0l0.6 2.3l0.6 1.2l0.7 2.1l0.6 1.8l0.6 1.0l0.6 2.4l0.6 1.3l0.7 1.8l0.6-0.4l0.6 1.6l0.6 3.1l0.6 0.9l0.7 3.0l0.6 0.5l0.6 2.4l0.6 0.4l0.6 2.5l0.7 2.2l0.6 1.4l0.6 0.2l0.6 1.7l0.6 1.5l0.7 0.8l0.6 1.6l0.6 2.3l0.6 1.0l0.6-0.2l0.7 2.1l0.6 1.7l0.6-0.3l0.6 2.2l0.6 1.0l0.7 1.2l0.6-0.9l0.6 3.0l0.6 1.1l0.6-0.7l0.7 1.9l0.6-0.4l0.6 2.2l0.6 1.2l0.6 1.0l0.7 1.1l0.6-0.5l0.6 0.4l0.6 2.6l0.6-1.1l0.7 1.3l0.6 0.8l0.6 2.1l0.6 0.1l0.6 1.7l0.7 0.5l0.6 1.2l0.6 0.8l0.6 1.1l0.6-0.6l0.7 1.2l0.6 1.6l0.6 0.9l0.6 1.5l0.6 1.1l0.7-0.1l0.6 0.7l0.6 2.7l0.6 1.0l0.6 0.2l0.7 0.6l0.6 1.1l0.6 1.7l0.6 1.1l0.6 0.9l0.7 0.7l0.6 1.2l0.6 1.4l0.6 0.2l0.6 1.2l0.7 1.4l0.6 1.8l0.6 0.8l0.6-0.3l0.6 0.1l0.7 1.1l0.6 1.8l0.6 0.1l0.6 1.1l0.6 1.1l0.7 0.5l0.6 1.2l0.6-1.1l0.6 1.1l0.6 0.1l0.7 1.8l0.6 0.9l0.6-0.2l0.6 0.1l0.6 1.6l0.7-0.1l0.6 0.7l0.6 1.0l0.6 2.0l0.6-0.8l0.7 1.4l0.6-0.2l0.6 0.7l0.6-0.1l0.6 0.7l0.7 2.0l0.6-0.2l0.6 0.2l0.6 2.2l0.6 0.3l0.7-1.0l0.6 1.0l0.6 0.8l0.6-0.5l0.6 1.1l0.7 0.1l0.6 1.7l0.6-1.3l0.6 2.6l0.6-1.5l0.7 0.6l0.6-0.3l0.6 2.3l0.6 0.1l0.6-1.5l0.7 1.4l0.6-0.1l0.6 0.8l0.6-0.4l0.6 1.7l0.7-1.6l0.6 1.7l0.6-1.1l0.6 1.1l0.6-0.3l0.7 0.4l0.6 0.2l0.6 0.5l0.6-1.2l0.6 0.2l0.7 2.4l0.6-1.5l0.6 0.5l0.6-0.0l0.6 1.2l0.7 1.1l0.6-1.1l0.6 0.1l0.6 0.3l0.6-0.4l0.7 0.5l0.6 0.3l0.6 1.1l0.6 2.0l0.6-1.6l0.7 1.4l0.6-0.4l0.6 0.0l0.6 2.4l0.6-1.3l0.7 0.5l0.6 2.0l0.6-1.0l0.6 0.3l0.6 2.1l0.7-1.5l0.6 1.9l0.6-1.0l0.6 0.9l0.6-0.4l0.7 0.3l0.6 1.7l0.6 0.2l0.6-1.6l0.6 1.6l0.7-1.2l0.6 0.6l0.6-0.3l0.6 1.6l0.6 0.5l0.7 0.2l0.6 0.3l0.6-0.6l0.6-0.3l0.6-0.1l0.7 1.3l0.6 1.4l0.6-0.9l0.6 0.6l0.6 1.0l0.7 0.1l0.6-0.0l0.6-0.1l0.6-0.6l0.6 1.5l0.7-0.6l0.6 1.0l0.6-0.9l0.6 1.9l0.6-1.6l0.7 1.8l0.6 0.5l0.6-1.5l0.6 1.9l0.6-0.2l0.7 0.1l0.6-0.6l0.6 0.5l0.6-0.0l0.6 0.7l0.7 0.8l0.6 0.4l0.6 0.2l0.6-0.7l0.6 0.2l0.7 1.3l0.6 0.7l0.6-1.6l0.6 0.6l0.6-0.1l0.7 1.9l0.6-2.1l0.6 2.3l0.6-0.1l0.6-0.9l0.7 1.0l0.6-0.5l0.6 0.8l0.6-0.4l0.6 1.4l0.7-1.0l0.6 1.0l0.6-0.4l0.6-0.3l0.6 1.5l0.7-1.7l0.6 1.9l0.6 0.3l0.6-0.2l0.6-0.4l0.7 0.1l0.6 0.9l0.6-1.1l0.6 1.1l0.6-0.0l0.7 0.3l0.6-0.9l0.6 0.6l0.6-1.2l0.6 0.0l0.7 0.2l0.6 1.6l0.6-0.8l0.6 1.4l0.6-1.9l0.7 0.3l0.6 1.7l0.6-1.0l0.6-0.4l0.6 1.5l0.7-1.3l0.6 1.9l0.6-1.6l0.6 1.4l0.6-0.8l0.7 1.2l0.6-1.5l0.6 1.6l0.6-1.4l0.6 0.4l0.7 0.5l0.6-0.1l0.6 0.4l0.6 0.1l0.6-0.9l0.7-0.6l0.6 1.8l0.6-0.2l0.6 0.0l0.6-0.1l0.7 1.2l0.6-1.5l0.6 1.6l0.6-1.7l0.6 1.3l0.7 0.7l0.6-1.8l0.6 1.6l0.6-1.1l0.6-0.4l0.7 0.9l0.6 0.8l0.6-1.0l0.6 1.7l0.6-2.2l0.7 0.7l0.6 0.3l0.6 0.1l0.6-0.1l0.6-0.5l0.7 0.5l0.6 0.2l0.6 1.0l0.6-0.6l0.6 0.9l0.7-0.6l0.6-0.2l0.6-0.4l0.6 0.3l0.6 1.6l0.7-1.0l0.6-0.3l0.6-0.1l0.6 1.6l0.6-0.3l0.7 0.0l0.6 0.3l0.6-1.3l0.6 1.3l0.6-1.5l0.7 1.4l0.6-0.7l0.6 0.9l0.6-1.0l0.6 0.3l0.7 0.9l0.6 0.7l0.6-1.4l0.6-0.4l0.6 0.0l0.7 1.4l0.6 0.6l0.6-2.1l0.6 0.9l0.6-0.4l0.7 2.0l0.6-2.0l0.6-0.0l0.6 1.7l0.6 0.6l0.7-0.5l0.6-1.5l0.6 0.8l0.6 0.3l0.6 1.0l0.7-0.3l0.6-1.6l0.6 1.0l0.6 0.8l0.6-0.5l0.7 0.4l0.6 0.7l0.6 0.1l0.6-0.2l0.6-0.6l0.7-0.6l0.6-0.3l0.6 0.1l0.6 1.2l0.6 0.4l0.7 0.3l0.6 0.2l0.6-1.5l0.6 0.2l0.6-0.3l0.7 0.9l0.6 1.0l0.6-0.5l0.6-0.7l0.6-0.7l0.7 1.7l-0.0 0.1" fill="none" stroke="#00009c" stroke-width="3.4" stroke-linejoin="round"/>
<path d="M79.0 472.6l0.6-0.1l0.6-1.4l0.7 0.2l0.6 1.3l0.6 0.2l0.6-0.1l0.6-0.9l0.7-0.4l0.6 0.2l0.6-0.7l0.6 0.8l0.6-0.7l0.7-0.2l0.6 0.5l0.6-0.8l0.6 1.0l0.6 0.5l0.7-0.2l0.6 0.8l0.6-0.3l0.6-0.6l0.6 0.6l0.7-1.1l0.6 0.8l0.6-1.3l0.6 0.6l0.6 1.0l0.7-0.9l0.6-0.2l0.6 0.6l0.6-1.2l0.6 1.2l0.7-1.9l0.6 0.5l0.6-0.2l0.6 0.1l0.6 1.7l0.7-2.3l0.6 0.7l0.6 0.6l0.6 0.3l0.6 0.1l0.7-1.0l0.6-0.4l0.6 1.5l0.6-1.8l0.6-0.1l0.7 0.3l0.6 0.6l0.6 1.1l0.6-0.5l0.6-0.5l0.7-0.1l0.6 0.4l0.6-0.2l0.6-0.7l0.6-0.7l0.7 0.3l0.6 1.3l0.6-0.4l0.6 0.4l0.6-1.8l0.7 2.0l0.6-1.3l0.6 1.3l0.6-0.9l0.6-0.1l0.7 0.6l0.6-0.5l0.6 0.0l0.6-1.2l0.6 1.0l0.7-0.7l0.6-0.7l0.6 0.1l0.6 0.8l0.6-0.6l0.7 1.2l0.6-1.6l0.6-0.3l0.6 2.3l0.6-1.7l0.7 0.4l0.6-0.8l0.6-0.1l0.6 0.4l0.6 0.9l0.7-1.9l0.6 1.9l0.6 0.3l0.6-1.1l0.6-0.6l0.7-0.4l0.6-0.2l0.6 0.3l0.6 1.2l0.6-2.2l0.7 1.8l0.6-0.4l0.6-1.6l0.6-0.1l0.6 1.5l0.7-0.3l0.6-1.1l0.6 1.2l0.6-1.8l0.6 0.4l0.7-0.9l0.6 1.1l0.6-1.5l0.6 0.1l0.6 1.2l0.7-0.7l0.6 0.2l0.6 0.1l0.6-0.4l0.6-1.1l0.7 1.1l0.6-1.5l0.6 0.3l0.6 0.3l0.6-0.9l0.7-0.1l0.6 1.2l0.6 0.1l0.6-1.0l0.6-0.0l0.7-0.6l0.6 0.7l0.6 0.0l0.6 0.8l0.6-2.3l0.7 2.0l0.6 0.1l0.6-1.7l0.6 0.8l0.6 0.1l0.7-0.5l0.6-1.1l0.6 0.7l0.6 0.5l0.6-2.0l0.7 0.7l0.6-1.2l0.6 1.8l0.6-0.3l0.6-1.9l0.7 1.5l0.6-0.3l0.6-1.5l0.6 0.7l0.6 0.3l0.7-1.1l0.6 0.2l0.6 1.0l0.6-1.0l0.6-0.6l0.7-1.2l0.6-0.1l0.6 1.5l0.6-0.5l0.6-0.1l0.7-0.8l0.6-0.3l0.6-0.4l0.6 0.2l0.6-1.3l0.7 0.0l0.6-0.4l0.6 0.0l0.6-1.5l0.6-0.9l0.7-0.3l0.6-0.3l0.6 1.1l0.6-0.9l0.6-0.5l0.7-1.3l0.6-1.4l0.6 0.3l0.6 0.4l0.6-1.5l0.7-0.3l0.6-1.2l0.6-1.1l0.6 0.5l0.6-1.0l0.7-1.0l0.6-0.9l0.6 0.4l0.6-1.6l0.6-0.1l0.7-1.5l0.6 0.4l0.6-1.6l0.6-0.6l0.6-0.1l0.7-1.1l0.6-0.8l0.6-1.3l0.6-0.1l0.6-1.5l0.7 0.0l0.6-0.9l0.6-1.2l0.6-0.6l0.6-1.3l0.7-0.6l0.6-1.8l0.6 0.3l0.6-1.2l0.6-1.8l0.7-0.9l0.6-0.4l0.6-0.7l0.6-1.9l0.6 0.2l0.7-1.8l0.6-0.1l0.6-1.3l0.6-1.4l0.6-1.1l0.7-1.3l0.6-1.0l0.6-0.2l0.6-0.7l0.6-0.9l0.7-1.8l0.6-0.3l0.6-2.0l0.6-0.3l0.6-1.3l0.7-2.5l0.6-0.4l0.6-1.8l0.6-1.6l0.6-1.4l0.7-2.2l0.6-1.8l0.6-2.1l0.6-1.4l0.6-2.1l0.7-3.3l0.6-1.4l0.6-3.0l0.6-2.4l0.6-2.1l0.7-1.6l0.6-2.6l0.6-2.2l0.6-2.3l0.6-1.8l0.7-1.5l0.6-3.2l0.6-1.5l0.6-2.0l0.6-3.0l0.7-1.9l0.6-1.3l0.6-2.1l0.6-2.4l0.6-3.1l0.7-1.2l0.6-2.5l0.6-2.3l0.6-1.4l0.6-1.3l0.7-2.0l0.6-2.8l0.6-2.7l0.6-1.2l0.6-2.5l0.7-3.4l0.6-3.4l0.6-2.5l0.6-2.7l0.6-3.2l0.7-3.0l0.6-2.7l0.6-2.3l0.6-2.5l0.6-1.8l0.7-0.9l0.6-3.3l0.6-0.9l0.6-1.7l0.6-2.3l0.7-1.5l0.6-2.2l0.6-1.1l0.6-1.7l0.6-1.7l0.7-2.1l0.6-1.0l0.6-1.8l0.6-2.0l0.6-1.5l0.7-2.2l0.6-0.6l0.6-2.0l0.6-1.3l0.6-2.5l0.7-0.7l0.6-3.0l0.6-1.2l0.6-2.5l0.6-1.8l0.7-1.2l0.6-3.0l0.6-1.6l0.6-2.2l0.6-1.0l0.7-3.0l0.6-1.4l0.6-0.9l0.6-1.8l0.6-1.4l0.7-0.9l0.6-2.8l0.6-0.4l0.6-1.0l0.6-1.1l0.7-1.0l0.6-1.8l0.6-0.6l0.6 0.4l0.6-0.7l0.7-1.0l0.6-0.7l0.6 0.3l0.6-1.1l0.6 0.4l0.7-1.2l0.6-0.1l0.6-1.8l0.6-0.2l0.6-1.4l0.7 0.2l0.6-1.1l0.6-1.1l0.6 0.5l0.6-0.9l0.7-0.9l0.6 0.4l0.6-1.0l0.6 0.4l0.6-1.2l0.7 0.6l0.6-1.7l0.6 0.5l0.6-1.1l0.6-0.4l0.7-0.3l0.6-1.6l0.6-0.7l0.6-1.1l0.6-0.1l0.7-1.9l0.6-0.7l0.6-1.4l0.6-1.3l0.6-0.2l0.7-1.8l0.6-0.9l0.6-1.1l0.6-1.0l0.6-1.9l0.7-1.5l0.6-0.7l0.6-1.6l0.6-1.5l0.6 0.0l0.7-1.7l0.6-1.7l0.6-1.8l0.6-0.5l0.6-1.9l0.7-2.2l0.6-0.5l0.6-1.9l0.6-1.8l0.6-1.9l0.7-2.2l0.6-2.0l0.6-1.1l0.6-2.2l0.6-0.7l0.7-2.1l0.6-1.2l0.6-0.1l0.6-1.6l0.6-0.5l0.7-0.9l0.6-0.9l0.6-1.3l0.6-0.6l0.6-1.3l0.7-0.6l0.6-1.0l0.6-2.3l0.6-0.7l0.6-0.8l0.7-1.2l0.6-1.2l0.6 0.0l0.6-2.2l0.6-0.8l0.7-0.2l0.6-1.8l0.6-1.0l0.6-0.1l0.6-1.4l0.7-1.7l0.6-1.6l0.6-1.1l0.6-0.1l0.6-1.5l0.7-2.3l0.6-0.2l0.6-1.5l0.6-0.6l0.6-1.5l0.7-1.1l0.6-1.0l0.6-0.3l0.6 0.1l0.6-0.6l0.7-1.0l0.6-0.5l0.6-1.5l0.6-0.4l0.6 0.0l0.7-0.6l0.6-1.6l0.6-0.4l0.6-0.7l0.6-0.9l0.7-2.0l0.6-0.5l0.6-1.5l0.6-0.9l0.6-1.1l0.7-1.4l0.6-1.5l0.6-0.1l0.6-1.2l0.6-1.0l0.7-2.2l0.6-1.1l0.6-0.7l0.6-0.8l0.6-2.0l0.7-1.6l0.6-0.7l0.6-0.8l0.6-1.3l0.6-1.1l0.7-1.9l0.6-1.3l0.6-0.2l0.6-1.3l0.6-1.1l0.7-1.9l0.6-1.5l0.6-1.3l0.6-0.4l0.6-1.2l0.7-2.1l0.6-0.5l0.6-1.9l0.6-1.0l0.6-0.9l0.7-1.6l0.6-1.0l0.6-1.1l0.6-1.0l0.6-0.7l0.7-1.5l0.6 0.0l0.6-1.7l0.6-0.4l0.6-0.5l0.7-1.5l0.6-0.4l0.6-0.5l0.6-0.7l0.6-0.2l0.7-0.8l0.6-1.4l0.6 0.5l0.6-0.7l0.6-0.1l0.7-1.0l0.6 0.3l0.6 0.1l0.6-0.0l0.6-0.2l0.7-0.9l0.6 0.8l0.6-0.4l0.6 0.3l0.6 0.5l0.7-0.2l0.6 1.3l0.6 0.5l0.6 0.5l0.6-0.0l0.7 1.0l0.6 0.4l0.6 1.8l0.6 1.2l0.6-0.3l0.7 1.5l0.6 0.6l0.6-0.4l0.6 1.8l0.6-0.1l0.7 0.2l0.6 0.1l0.6 1.5l0.6-0.2l0.6 0.7l0.7-0.1l0.6 1.0l0.6 0.2l0.6 1.0l0.6 0.3l0.7 0.6l0.6-0.2l0.6 0.3l0.6 1.8l0.6 0.8l0.7 0.3l0.6 1.1l0.6 0.7l0.6 1.0l0.6 1.1l0.7 1.3l0.6 1.6l0.6 1.0l0.6 1.5l0.6 1.3l0.7 0.3l0.6 1.5l0.6 0.7l0.6 1.3l0.6 1.0l0.7 0.5l0.6 0.9l0.6 0.8l0.6 0.4l0.6 1.1l0.7 1.7l0.6 1.3l0.6 0.1l0.6 1.0l0.6 2.6l0.7 1.2l0.6 0.9l0.6 1.6l0.6 1.0l0.6 1.6l0.7 0.3l0.6 1.5l0.6 1.6l0.6 0.5l0.6 2.0l0.7 0.6l0.6 1.8l0.6 1.5l0.6 0.7l0.6 2.1l0.7 0.8l0.6 1.5l0.6 0.3l0.6 1.4l0.6 2.2l0.7 1.6l0.6 0.8l0.6 1.7l0.6-0.1l0.6 2.4l0.7 1.1l0.6 0.8l0.6 0.9l0.6 1.7l0.6 0.6l0.7 2.0l0.6 1.5l0.6 1.3l0.6 1.3l0.6 1.5l0.7 2.1l0.6 2.8l0.6 1.0l0.6 1.6l0.6 2.2l0.7 2.3l0.6 2.1l0.6 2.4l0.6 2.0l0.6 2.2l0.7 2.0l0.6 1.5l0.6 1.8l0.6 3.3l0.6 1.2l0.7 2.8l0.6 1.7l0.6 3.0l0.6 1.5l0.6 2.7l0.7 2.1l0.6 3.3l0.6 1.9l0.6 2.2l0.6 1.7l0.7 1.7l0.6 2.7l0.6 1.5l0.6 1.5l0.6 1.8l0.7 0.8l0.6 0.8l0.6 2.1l0.6 1.0l0.6 1.8l0.7 1.6l0.6 1.9l0.6 2.5l0.6 2.1l0.6 1.9l0.7 3.2l0.6 2.7l0.6 2.6l0.6 2.3l0.6 3.1l0.7 1.8l0.6 1.7l0.6 2.2l0.6 2.3l0.6 1.4l0.7 1.7l0.6 1.6l0.6 1.2l0.6 1.3l0.6 1.4l0.7 2.3l0.6 0.9l0.6 1.6l0.6 2.1l0.6 1.0l0.7 1.6l0.6 1.4l0.6 1.7l0.6 0.2l0.6 1.8l0.7 2.2l0.6 0.7l0.6 2.0l0.6 0.3l0.6 1.2l0.7 2.5l0.6 0.7l0.6 1.5l0.6 2.0l0.6 0.4l0.7 2.5l0.6 0.6l0.6 1.2l0.6 1.5l0.6 2.0l0.7 1.5l0.6 2.2l0.6 0.5l0.6 1.7l0.6 1.8l0.7 2.4l0.6 2.0l0.6 1.3l0.6 1.9l0.6 1.7l0.7 0.8l0.6 2.0l0.6 2.7l0.6 0.6l0.6 2.5l0.7 0.8l0.6 1.1l0.6 1.0l0.6 1.7l0.6 1.4l0.7 1.4l0.6 1.2l0.6 1.4l0.6 1.0l0.6 0.5l0.7 1.4l0.6 2.1l0.6-0.2l0.6 2.1l0.6 0.6l0.7 1.4l0.6 0.5l0.6 1.1l0.6 1.3l0.6 1.6l0.7 0.3l0.6 0.7l0.6 1.0l0.6 2.3l0.6 0.3l0.7 0.8l0.6 1.8l0.6 1.4l0.6 0.7l0.6 0.4l0.7 1.5l0.6 0.8l0.6 0.7l0.6 2.5l0.6 0.3l0.7 0.6l0.6 2.2l0.6 1.3l0.6 0.9l0.6 0.3l0.7 1.1l0.6 1.7l0.6 1.4l0.6 1.7l0.6 1.5l0.7 1.4l0.6 0.8l0.6 2.0l0.6 1.0l0.6 2.2l0.7 1.0l0.6 1.6l0.6 1.5l0.6 1.7l0.6 1.2l0.7 1.7l0.6 0.0l0.6 1.0l0.6 1.7l0.6 0.8l0.7 0.8l0.6 0.8l0.6 0.7l0.6 0.5l0.6 0.9l0.7-0.3l0.6 0.9l0.6 1.3l0.6-0.1l0.6 1.1l0.7 0.2l0.6 0.8l0.6 1.2l0.6 0.4l0.6 0.3l0.7 0.4l0.6 1.4l0.6 0.5l0.6 0.4l0.6 1.3l0.7 0.6l0.6 1.2l0.6 0.4l0.6 1.2l0.6 0.3l0.7 1.2l0.6 1.0l0.6-0.1l0.6 1.4l0.6 1.1l0.7 0.1l0.6 1.9l0.6 0.8l0.6 1.1l0.6 0.0l0.7 1.0l0.6 1.3l0.6 0.0l0.6 1.3l0.6 0.0l0.7 0.5l0.6 0.5l0.6 0.4l0.6 0.8l0.6 0.2l0.7 1.4l0.6 0.7l0.6-0.8l0.6 0.4l0.6 0.4l0.7 1.8l0.6-0.8l0.6 1.3l0.6-0.1l0.6 0.3l0.7 0.5l0.6 1.1l0.6-0.5l0.6 1.7l0.6 0.0l0.7 0.0l0.6 0.4l0.6 1.1l0.6 0.4l0.6 0.0l0.7 0.5l0.6 0.6l0.6 1.1l0.6-0.2l0.6 0.9l0.7 0.1l0.6 0.3l0.6 0.3l0.6 0.6l0.6 0.1l0.7 0.7l0.6-0.4l0.6 0.5l0.6 1.2l0.6-0.4l0.7 1.0l0.6 0.5l0.6-0.2l0.6-0.4l0.6 1.3l0.7 0.2l0.6-0.3l0.6 1.2l0.6-0.3l0.6-0.3l0.7 0.4l0.6 0.5l0.6 0.9l0.6 0.6l0.6-0.7l0.7 0.2l0.6 1.2l0.6 0.0l0.6 0.4l0.6 0.9l0.7 0.4l0.6 0.5l0.6 0.0l0.6-0.7l0.6 0.5l0.7 1.0l0.6 0.9l0.6-0.9l0.6 0.9l0.6 0.2l0.7 0.4l0.6 0.1l0.6 0.3l0.6 0.3l0.6 0.2l0.7 0.9l0.6 0.2l0.6 0.7l0.6 0.2l0.6 0.7l0.7-0.6l0.6 1.1l0.6-0.5l0.6 0.7l0.6 0.5l0.7-0.4l0.6 0.3l0.6 0.5l0.6-0.5l0.6 0.9l0.7-0.4l0.6 0.4l0.6 0.8l0.6 0.7l0.6 0.3l0.7-0.9l0.6 0.1l0.6 0.7l0.6 0.1l0.6 0.1l0.7 0.8l0.6 0.1l0.6-0.0l0.6 0.2l0.6 0.2l0.7 0.3l0.6 0.5l0.6 0.2l0.6 0.2l0.6-0.0l0.7-1.0l0.6 0.7l0.6 0.6l0.6-0.6l0.6 0.6l0.7-0.7l0.6 0.4l0.6 0.4l0.6-0.4l0.6 0.7l0.7-0.2l0.6 1.0l0.6-0.6l0.6 0.2l0.6 0.7l0.7-0.2l0.6-0.7l0.6 0.4l0.6 0.7l0.6-0.5l0.7 0.2l0.6 0.6l0.6-0.1l0.6-0.2l0.6 0.6l0.7 0.2l0.6-0.8l0.6 0.5l0.6 0.2l0.6 0.9l0.7-1.1l0.6 0.6l0.6-0.1l0.6 0.8l0.6 0.3l0.7-1.0l0.6 1.3l0.6-0.2l0.6-0.6l0.6 1.1l0.7-0.8l0.6 0.9l0.6-1.0l0.6 0.7l0.6 0.1l0.7 0.7l0.6-0.0l0.6-0.4l0.6-0.6l0.6 0.6l0.7 0.0l0.6 1.0l0.6-0.4l0.6-0.3l0.6 0.0l0.7 0.7l0.6-0.9l0.6 1.1l0.6-0.2l0.6-0.2l0.7 0.4l0.6-0.4l0.6-0.3l0.6 0.5l0.6-0.5l0.7 0.1l0.6 0.6l0.6 0.6l0.6-0.9l0.6 0.5l0.7 0.7l0.6-0.2l0.6 0.2l0.6-0.3l0.6-0.2l0.7 0.1l0.6 0.0l0.6-0.2l0.6-0.1l0.6-0.2l0.7-0.2l0.6 0.4l0.6 0.6l0.6-0.3l0.6-0.5l0.7 0.9l0.6-1.1l0.6 1.3l0.6-0.4l0.6-0.1l0.7-0.2l0.6 0.6l0.6-1.2l0.6 0.1l0.6 0.7l0.7-0.3l0.6 0.1l0.6 0.2l0.6-0.7l0.6 1.4l0.7-0.5l-0.0-0.8" fill="none" stroke="#00d060" stroke-width="3.3" stroke-linejoin="round"/>
<path d="M79.0 469.4l0.6-1.1l0.6 0.9l0.7 0.4l0.6 1.5l0.6-5.0l0.6 5.2l0.6-3.0l0.7-1.5l0.6 1.1l0.6-0.0l0.6 3.1l0.6-2.1l0.7-2.6l0.6 3.8l0.6-1.2l0.6 1.9l0.6-4.4l0.7 4.7l0.6 0.2l0.6-5.0l0.6 2.7l0.6-2.0l0.7 2.4l0.6-2.5l0.6 4.7l0.6-4.0l0.6 2.8l0.7-0.1l0.6-1.8l0.6-0.6l0.6 4.1l0.6-5.0l0.7 1.2l0.6 0.5l0.6 1.5l0.6-1.2l0.6-1.4l0.7 2.6l0.6 0.9l0.6-0.0l0.6-1.2l0.6-1.1l0.7-1.7l0.6 3.1l0.6 0.5l0.6-1.0l0.6 3.0l0.7-4.4l0.6 3.5l0.6-0.5l0.6 1.0l0.6 0.2l0.7-4.0l0.6 3.9l0.6-3.0l0.6 1.6l0.6 1.6l0.7-2.1l0.6-0.1l0.6-3.0l0.6 3.0l0.6-2.1l0.7 0.8l0.6-0.1l0.6 3.4l0.6-2.0l0.6 0.5l0.7-3.2l0.6 0.7l0.6 3.3l0.6-4.4l0.6 4.7l0.7-3.0l0.6-0.3l0.6 0.7l0.6-0.5l0.6 0.1l0.7-0.3l0.6 1.6l0.6-2.5l0.6-0.7l0.6 1.6l0.7-2.1l0.6 2.1l0.6 0.2l0.6 1.6l0.6-3.9l0.7 1.7l0.6 2.1l0.6-2.5l0.6 2.8l0.6-0.7l0.7-3.9l0.6 1.9l0.6 2.2l0.6-1.4l0.6 0.8l0.7 1.8l0.6-1.9l0.6-0.8l0.6 1.7l0.6-2.4l0.7-2.4l0.6 1.4l0.6 1.9l0.6 2.0l0.6-2.0l0.7-1.9l0.6 4.0l0.6-3.4l0.6-1.0l0.6 1.8l0.7-1.2l0.6-1.4l0.6 3.4l0.6-0.1l0.6 1.6l0.7-4.9l0.6 4.5l0.6-0.7l0.6-3.2l0.6 1.3l0.7 0.8l0.6-1.8l0.6-1.2l0.6 4.1l0.6-3.9l0.7 1.9l0.6-0.4l0.6 2.7l0.6-2.1l0.6-0.6l0.7 2.1l0.6-2.4l0.6 1.4l0.6-1.9l0.6 2.0l0.7-0.1l0.6 0.3l0.6-1.4l0.6-1.0l0.6 1.5l0.7 1.0l0.6-2.3l0.6-1.1l0.6 0.5l0.6 2.9l0.7-3.6l0.6 0.1l0.6 0.2l0.6 3.0l0.6-2.0l0.7 1.1l0.6 0.0l0.6-1.0l0.6 1.1l0.6-1.1l0.7 0.2l0.6-0.9l0.6-1.3l0.6 2.2l0.6-1.3l0.7-0.0l0.6 2.2l0.6-2.2l0.6-1.2l0.6 1.8l0.7-0.6l0.6-2.1l0.6 0.9l0.6 0.7l0.6-1.6l0.7 2.4l0.6-1.0l0.6-1.4l0.6 1.3l0.6-3.6l0.7 0.5l0.6 2.4l0.6-1.8l0.6-1.5l0.6 1.4l0.7 0.4l0.6-0.7l0.6-2.4l0.6-0.2l0.6 1.2l0.7-1.8l0.6 0.1l0.6 1.8l0.6-1.0l0.6-1.6l0.7 2.7l0.6-2.2l0.6 1.7l0.6-1.4l0.6-0.3l0.7-1.1l0.6 0.6l0.6-2.1l0.6-0.3l0.6 1.9l0.7-3.2l0.6 0.1l0.6 0.6l0.6-2.3l0.6-0.7l0.7 1.2l0.6-3.7l0.6-1.0l0.6 1.1l0.6-3.7l0.7-1.1l0.6 1.0l0.6-3.0l0.6 1.8l0.6-1.4l0.7-0.4l0.6-2.4l0.6 0.1l0.6 2.2l0.6 0.6l0.7-2.0l0.6 0.3l0.6 0.4l0.6-0.1l0.6 1.4l0.7 0.6l0.6 0.9l0.6-1.9l0.6 0.7l0.6-0.2l0.7 0.6l0.6-0.3l0.6 2.9l0.6-2.2l0.6-0.9l0.7 2.1l0.6 1.1l0.6-0.6l0.6-0.6l0.6-1.2l0.7-0.1l0.6-0.5l0.6 0.8l0.6-0.6l0.6-1.3l0.7 0.3l0.6-1.1l0.6-0.6l0.6-1.8l0.6-1.1l0.7-1.0l0.6 0.6l0.6-1.3l0.6-0.7l0.6-1.2l0.7-1.0l0.6-2.1l0.6-0.5l0.6-3.1l0.6-0.9l0.7-3.8l0.6 0.1l0.6-2.2l0.6-3.5l0.6-0.3l0.7-1.6l0.6-3.5l0.6-0.4l0.6-2.0l0.6-1.1l0.7-0.9l0.6-1.9l0.6-2.8l0.6-0.6l0.6-1.6l0.7-3.0l0.6-1.5l0.6-1.2l0.6-2.0l0.6-1.4l0.7-0.2l0.6-0.4l0.6-1.9l0.6-0.0l0.6-0.1l0.7-0.5l0.6-0.3l0.6-1.8l0.6 2.0l0.6-1.8l0.7 0.2l0.6 1.1l0.6 0.7l0.6 0.8l0.6-0.7l0.7 1.8l0.6-0.8l0.6 0.5l0.6-1.0l0.6-1.1l0.7-0.4l0.6 1.3l0.6-0.8l0.6-0.2l0.6-0.6l0.7-0.7l0.6 0.1l0.6-1.6l0.6 0.1l0.6-3.5l0.7-0.1l0.6-2.4l0.6-3.3l0.6-1.3l0.6-2.5l0.7-2.1l0.6-0.9l0.6-1.5l0.6-3.1l0.6 0.1l0.7-3.6l0.6-1.6l0.6-0.4l0.6-2.1l0.6-1.3l0.7-1.6l0.6-1.9l0.6-0.8l0.6-2.0l0.6-3.7l0.7-2.5l0.6-1.6l0.6-3.7l0.6-2.1l0.6-1.9l0.7-4.3l0.6-0.7l0.6-2.6l0.6-3.3l0.6-2.8l0.7-1.8l0.6-3.1l0.6-1.2l0.6-3.0l0.6-3.2l0.7-1.3l0.6-2.9l0.6-3.7l0.6-1.8l0.6-2.3l0.7-1.3l0.6-4.0l0.6-2.2l0.6-1.2l0.6-3.8l0.7-1.4l0.6-4.1l0.6-1.6l0.6-2.8l0.6-0.7l0.7-3.1l0.6-3.2l0.6-2.8l0.6-1.8l0.6-3.5l0.7-1.9l0.6-2.5l0.6-4.5l0.6-4.2l0.6-3.6l0.7-4.5l0.6-2.1l0.6-5.2l0.6-1.3l0.6-3.6l0.7-1.6l0.6-2.2l0.6-3.8l0.6-0.7l0.6-1.6l0.7-3.0l0.6-1.9l0.6-2.8l0.6-2.4l0.6-0.8l0.7-2.0l0.6-3.6l0.6-2.3l0.6-1.6l0.6-1.4l0.7-2.7l0.6-0.7l0.6-2.4l0.6-1.8l0.6-2.8l0.7-1.6l0.6-1.5l0.6-4.1l0.6-0.6l0.6-2.9l0.7-0.4l0.6-3.2l0.6-0.6l0.6-2.9l0.6-1.0l0.7-1.7l0.6-1.3l0.6-1.8l0.6-2.8l0.6-1.1l0.7-3.0l0.6-1.8l0.6-0.2l0.6-1.2l0.6-2.0l0.7-2.2l0.6-1.4l0.6-1.4l0.6-2.0l0.6-2.1l0.7-0.5l0.6-2.9l0.6-0.4l0.6-2.0l0.6-1.7l0.7-1.6l0.6-1.3l0.6-1.7l0.6-2.7l0.6-1.9l0.7-0.7l0.6-0.8l0.6-2.2l0.6-2.8l0.6-1.3l0.7-0.2l0.6-0.5l0.6-0.9l0.6-2.5l0.6-0.8l0.7-1.2l0.6-2.2l0.6-1.5l0.6 0.0l0.6-1.2l0.7-0.3l0.6-2.8l0.6 0.5l0.6-2.5l0.6-0.5l0.7-0.8l0.6-2.6l0.6 0.6l0.6-1.3l0.6-1.5l0.7-3.9l0.6-0.5l0.6-2.1l0.6-1.7l0.6-3.9l0.7-2.1l0.6-0.1l0.6-2.5l0.6-1.6l0.6-0.9l0.7 0.4l0.6-1.1l0.6-0.3l0.6-0.7l0.6-2.7l0.7 1.3l0.6-1.0l0.6-0.9l0.6-1.3l0.6-1.9l0.7-1.3l0.6 0.7l0.6-2.1l0.6-0.7l0.6-0.2l0.7-0.7l0.6-0.6l0.6-0.8l0.6-0.8l0.6 0.0l0.7-1.4l0.6-0.7l0.6 1.2l0.6-0.4l0.6-0.4l0.7-1.4l0.6-0.4l0.6 2.0l0.6-0.0l0.6-1.7l0.7 0.8l0.6-1.5l0.6 0.9l0.6 0.7l0.6-0.8l0.7 1.1l0.6 0.5l0.6-1.6l0.6 1.7l0.6-0.3l0.7-0.1l0.6 1.1l0.6 1.4l0.6 2.5l0.6 1.2l0.7-0.3l0.6 1.4l0.6 3.2l0.6-0.2l0.6 0.9l0.7 0.1l0.6 1.9l0.6 0.0l0.6 0.8l0.6-0.0l0.7 2.1l0.6-0.4l0.6 0.8l0.6 2.2l0.6 1.6l0.7-0.2l0.6 1.2l0.6 0.8l0.6 2.2l0.6 1.6l0.7-0.3l0.6 2.3l0.6 1.3l0.6 0.3l0.6 2.3l0.7 0.6l0.6 1.0l0.6 2.9l0.6-1.2l0.6 1.5l0.7 1.5l0.6 0.3l0.6-0.2l0.6 2.9l0.6-0.7l0.7 1.3l0.6 2.1l0.6 1.1l0.6 1.0l0.6-0.1l0.7 2.1l0.6 1.5l0.6-0.3l0.6 3.2l0.6-0.8l0.7 2.6l0.6 0.3l0.6 1.1l0.6 1.0l0.6 3.2l0.7-0.7l0.6 3.1l0.6-0.6l0.6 1.6l0.6 1.0l0.7 3.2l0.6-0.9l0.6 3.2l0.6-0.0l0.6 2.8l0.7 0.9l0.6 0.1l0.6 1.9l0.6 0.5l0.6 1.8l0.7 0.3l0.6 2.7l0.6 1.0l0.6 0.3l0.6 0.6l0.7 3.4l0.6-0.6l0.6 1.8l0.6 0.7l0.6 2.3l0.7 1.8l0.6 2.0l0.6 1.4l0.6 1.7l0.6 3.1l0.7 0.7l0.6 2.0l0.6 2.3l0.6 1.4l0.6 3.1l0.7 0.4l0.6 2.7l0.6 2.3l0.6 1.7l0.6 3.6l0.7 1.0l0.6 2.4l0.6 2.3l0.6 3.1l0.6 0.8l0.7 3.7l0.6 2.7l0.6 0.8l0.6 2.1l0.6 3.8l0.7 1.1l0.6 2.0l0.6 1.6l0.6 3.1l0.6 2.5l0.7 1.4l0.6 0.8l0.6 1.0l0.6 2.7l0.6 0.6l0.7 2.2l0.6 0.8l0.6 1.6l0.6 1.8l0.6 0.5l0.7 2.4l0.6 2.0l0.6 4.6l0.6 2.8l0.6 1.7l0.7 1.6l0.6 2.6l0.6 3.2l0.6 2.2l0.6 1.6l0.7 1.6l0.6 3.1l0.6 2.1l0.6-0.2l0.6 2.2l0.7 1.5l0.6 2.0l0.6 1.6l0.6 0.9l0.6 2.5l0.7 0.3l0.6 1.1l0.6 2.6l0.6 1.6l0.6 1.5l0.7-0.3l0.6 1.5l0.6 2.0l0.6 2.6l0.6 0.6l0.7 1.3l0.6 0.7l0.6 2.9l0.6-0.6l0.6 2.3l0.7 1.7l0.6 1.7l0.6 1.4l0.6 0.4l0.6 1.2l0.7 3.2l0.6 0.5l0.6 0.9l0.6 1.3l0.6 3.2l0.7 1.8l0.6 1.0l0.6 1.3l0.6 2.4l0.6 2.4l0.7 0.8l0.6 2.2l0.6 1.9l0.6 1.4l0.6 1.0l0.7 0.9l0.6 2.8l0.6 1.8l0.6 1.8l0.6-0.5l0.7 1.2l0.6 2.6l0.6 1.7l0.6-0.6l0.6 2.5l0.7 0.3l0.6 2.9l0.6-0.4l0.6 0.4l0.6 2.8l0.7-0.1l0.6 1.4l0.6 0.3l0.6 1.6l0.6 0.5l0.7 1.4l0.6 1.8l0.6 0.4l0.6 2.0l0.6 1.6l0.7 0.3l0.6-0.2l0.6 3.4l0.6-0.8l0.6 1.4l0.7 1.5l0.6 1.3l0.6 0.4l0.6 1.3l0.6 1.5l0.7 0.7l0.6 0.6l0.6 1.4l0.6 1.1l0.6 0.9l0.7 1.8l0.6 1.0l0.6 0.9l0.6 1.9l0.6 1.5l0.7 0.9l0.6 0.6l0.6 2.9l0.6-0.5l0.6 3.3l0.7 0.8l0.6 1.6l0.6 2.7l0.6 1.2l0.6 2.3l0.7 1.2l0.6-0.6l0.6 2.1l0.6 1.6l0.6-0.7l0.7 2.0l0.6 1.9l0.6-1.0l0.6 0.5l0.6 1.2l0.7 0.8l0.6 0.5l0.6 1.0l0.6 1.6l0.6-0.1l0.7 0.8l0.6-0.5l0.6 0.4l0.6 2.8l0.6-0.9l0.7 2.1l0.6-0.9l0.6 1.4l0.6 0.7l0.6-0.7l0.7 0.7l0.6 1.6l0.6 0.0l0.6 1.2l0.6 0.6l0.7 1.1l0.6 1.2l0.6 0.6l0.6 0.9l0.6 1.3l0.7 1.4l0.6-0.7l0.6 3.2l0.6-0.5l0.6 2.1l0.7-1.4l0.6 1.0l0.6 0.9l0.6 2.7l0.6-0.5l0.7 1.7l0.6 0.3l0.6-0.9l0.6 1.2l0.6 0.5l0.7 0.8l0.6 1.3l0.6-1.1l0.6 2.5l0.6-0.6l0.7 0.2l0.6 1.2l0.6-0.5l0.6 1.5l0.6-0.3l0.7 0.6l0.6-0.2l0.6 0.4l0.6 2.1l0.6-0.2l0.7 0.0l0.6 1.3l0.6 0.8l0.6-1.3l0.6 2.4l0.7-1.9l0.6 1.9l0.6-0.4l0.6 0.4l0.6 1.0l0.7 0.7l0.6 0.0l0.6 1.1l0.6 0.9l0.6-1.5l0.7 0.6l0.6 1.3l0.6-0.2l0.6 0.2l0.6 0.8l0.7 0.8l0.6 0.8l0.6 0.5l0.6-0.0l0.6-0.8l0.7 1.6l0.6-0.1l0.6-1.0l0.6 2.2l0.6-1.3l0.7 1.3l0.6 0.4l0.6 0.8l0.6-0.3l0.6 1.1l0.7-1.9l0.6 0.3l0.6 0.7l0.6 1.2l0.6-0.0l0.7-0.5l0.6 0.6l0.6 1.2l0.6-0.1l0.6 1.2l0.7-0.3l0.6 1.3l0.6 0.1l0.6-0.3l0.6 0.0l0.7 0.0l0.6 0.6l0.6 0.4l0.6 0.4l0.6-0.1l0.7 1.0l0.6-0.5l0.6 2.1l0.6-0.4l0.6-0.8l0.7 0.9l0.6 0.1l0.6 0.1l0.6 1.0l0.6-0.4l0.7 0.2l0.6 1.5l0.6-0.4l0.6 0.9l0.6-0.3l0.7 0.3l0.6-0.2l0.6 0.5l0.6 0.4l0.6-0.1l0.7 1.4l0.6-1.2l0.6 0.2l0.6 0.5l0.6 1.2l0.7 0.4l0.6-0.5l0.6-0.3l0.6 0.9l0.6 0.6l0.7-1.2l0.6 1.2l0.6 0.3l0.6-0.6l0.6-0.4l0.7 1.2l0.6-0.8l0.6 0.6l0.6 0.5l0.6 1.2l0.7-1.9l0.6 0.0l0.6 1.3l0.6 1.1l0.6-2.1l0.7 1.6l0.6-1.4l0.6 1.4l0.6-0.9l0.6 1.4l0.7-0.6l0.6 0.8l0.6-0.8l0.6-0.3l0.6 0.3l0.7 0.4l0.6-0.2l0.6 0.2l0.6 0.9l0.6-0.1l0.7 1.0l0.6-0.6l0.6 0.2l0.6 0.5l0.6 0.5l0.7-0.6l0.6-1.2l0.6 1.2l0.6-1.0l0.6 1.5l0.7-1.1l0.6 1.2l0.6-0.8l0.6 1.8l0.6-1.7l0.7 1.4l0.6 0.2l0.6-0.9l0.6 0.9l0.6-0.6l0.7-0.1l0.6 0.1l0.6-0.5l0.6 1.7l0.6-1.4l0.7 0.4l0.6-0.2l0.6 1.8l0.6-0.6l0.6-0.0l0.7 0.3l0.6 0.6l0.6-0.4l0.6-0.2l0.6-0.4l0.7 0.5l0.6 1.2l0.6-0.9l0.6-0.2l0.6 1.1l0.7-2.0l0.6 0.1l0.6 1.8l0.6 0.4l0.6-2.1l0.7 0.0l0.6 0.0l0.6 1.5l0.6-1.0l0.6 1.0l0.7 0.3l0.6-1.5l0.6 2.1l0.6-1.4l0.6 0.8l0.7-0.4l0.6 0.0l0.6 0.3l0.6-0.9l0.6 1.1l0.7-0.4l0.6 0.3l0.6-0.4l0.6 0.5l0.6 0.9l0.7 0.8l0.6-1.8l0.6 1.6l0.6-0.5l0.6-1.2l0.7-0.2l0.6 2.2l0.6-1.6l0.6-0.2l0.6 1.3l0.7 0.2l0.6 0.4l0.6-0.9l0.6-0.4l0.6-0.0l0.7-0.3l-0.0 1.1" fill="none" stroke="#0080ff" stroke-width="3.3" stroke-linejoin="round"/>
</g>
<path d="M990.1 475.0L990.1 474.7L990.8 474.7L991.4 474.7L992.0 474.6L992.6 474.5L993.2 474.0L993.9 473.1L994.5 471.8L995.1 470.5L995.7 469.1L996.3 467.6L997.0 465.8L997.6 463.6L998.2 460.9L998.8 457.2L999.4 452.4L1000.1 447.1L1000.7 441.5L1001.3 435.0L1001.9 427.6L1002.5 419.1L1003.2 409.6L1003.8 399.3L1004.4 387.6L1005.0 374.5L1005.6 361.7L1006.3 350.6L1006.9 338.2L1007.5 319.5L1008.1 289.6L1008.7 258.2L1009.4 226.9L1010.0 196.0L1010.6 166.4L1011.2 138.4L1011.8 112.5L1012.5 89.4L1013.1 70.7L1013.7 58.8L1014.3 54.5L1014.9 59.2L1015.6 78.7L1016.2 114.7L1016.8 146.5L1017.4 161.8L1018.0 173.4L1018.7 183.9L1019.3 192.8L1019.9 202.0L1020.5 213.6L1021.1 228.9L1021.8 243.5L1022.4 257.0L1023.0 269.3L1023.6 279.5L1024.2 287.9L1024.9 295.6L1025.5 303.3L1026.1 312.0L1026.7 322.5L1027.3 330.3L1028.0 334.5L1028.6 337.6L1029.2 340.5L1029.8 343.8L1030.4 347.5L1031.1 350.5L1031.7 352.5L1032.3 354.1L1032.9 354.9L1033.5 354.6L1034.2 353.0L1034.8 350.8L1035.4 348.2L1036.0 344.6L1036.6 340.8L1037.3 337.2L1037.9 333.3L1038.5 328.0L1039.1 319.5L1039.7 312.0L1040.4 306.6L1041.0 301.5L1041.6 297.1L1042.2 293.4L1042.8 290.8L1043.5 289.1L1044.1 287.8L1044.7 286.8L1045.3 286.1L1045.9 285.7L1046.6 285.5L1047.2 285.4L1047.8 285.1L1048.4 284.7L1049.0 283.2L1049.7 280.8L1050.3 277.7L1050.9 274.5L1051.5 271.0L1052.1 266.9L1052.8 262.3L1053.4 257.4L1054.0 251.8L1054.6 245.5L1055.2 239.6L1055.9 234.0L1056.5 228.3L1057.1 222.8L1057.7 217.8L1058.3 213.8L1059.0 210.8L1059.6 208.5L1060.2 206.7L1060.8 204.9L1061.4 202.9L1062.1 200.5L1062.7 197.2L1063.3 193.1L1063.9 188.6L1064.5 184.2L1065.2 179.8L1065.8 175.1L1066.4 170.5L1067.0 166.8L1067.6 163.9L1068.3 161.2L1068.9 159.8L1069.5 160.3L1070.1 161.9L1070.7 164.3L1071.4 169.5L1072.0 177.4L1072.6 185.8L1073.2 194.9L1073.8 204.8L1074.5 215.3L1075.1 227.2L1075.7 237.5L1076.3 244.3L1076.9 249.6L1077.6 254.2L1078.2 258.3L1078.8 262.3L1079.4 266.8L1080.0 271.5L1080.7 276.3L1081.3 281.0L1081.9 285.6L1082.5 289.9L1083.1 293.9L1083.8 297.9L1084.4 301.8L1085.0 305.4L1085.6 308.5L1086.2 310.8L1086.9 312.8L1087.5 314.5L1088.1 316.1L1088.7 317.5L1089.3 318.6L1090.0 319.4L1090.6 319.9L1091.2 320.3L1091.8 320.6L1092.4 320.9L1093.1 321.1L1093.7 321.3L1094.3 321.4L1094.9 321.4L1095.5 321.1L1096.2 320.7L1096.8 320.0L1097.4 319.2L1098.0 318.4L1098.6 317.6L1099.3 316.8L1099.9 315.9L1100.5 314.9L1101.1 313.8L1101.7 312.7L1102.4 311.6L1103.0 310.7L1103.6 309.8L1104.2 308.8L1104.8 307.8L1105.5 306.8L1106.1 306.0L1106.7 305.4L1107.3 305.0L1107.9 305.0L1108.6 305.2L1109.2 305.5L1109.8 305.9L1110.4 306.4L1111.0 306.9L1111.7 307.4L1112.3 307.9L1112.9 308.6L1113.5 309.4L1114.1 310.1L1114.8 310.5L1115.4 310.7L1116.0 310.6L1116.6 310.3L1117.2 310.0L1117.9 309.5L1118.5 309.1L1119.1 308.6L1119.7 308.2L1120.3 307.8L1121.0 307.6L1121.6 307.6L1122.2 307.8L1122.8 308.2L1123.4 308.7L1124.1 309.4L1124.7 310.1L1125.3 310.9L1125.9 312.2L1126.5 313.7L1127.2 315.4L1127.8 317.2L1128.4 318.9L1129.0 320.3L1129.6 321.6L1130.3 322.8L1130.9 323.9L1131.5 325.0L1132.1 326.0L1132.7 327.1L1133.4 328.2L1134.0 329.3L1134.6 330.5L1135.2 331.7L1135.8 333.1L1136.5 334.4L1137.1 335.8L1137.7 337.3L1138.3 338.9L1138.9 340.5L1139.6 342.3L1140.2 344.3L1140.8 346.5L1141.4 349.0L1142.0 351.4L1142.7 353.8L1143.3 356.0L1143.9 357.9L1144.5 359.6L1145.1 361.2L1145.8 362.7L1146.4 364.1L1147.0 365.5L1147.6 366.8L1148.2 368.1L1148.9 369.4L1149.5 370.7L1150.1 371.9L1150.7 373.2L1151.3 374.4L1152.0 375.6L1152.6 376.7L1153.2 377.7L1153.8 378.7L1154.4 379.6L1155.1 380.5L1155.7 381.3L1156.3 382.1L1156.9 382.9L1157.5 383.7L1158.2 384.4L1158.8 385.2L1159.4 385.8L1160.0 386.5L1160.6 387.1L1161.3 387.7L1161.9 388.2L1162.5 388.8L1163.1 389.2L1163.7 389.7L1164.4 390.1L1165.0 390.5L1165.6 390.9L1166.2 391.3L1166.8 391.7L1167.5 392.1L1168.1 392.4L1168.7 392.7L1169.3 393.1L1169.9 393.4L1170.6 393.7L1171.2 394.0L1171.8 394.3L1172.4 394.7L1173.0 395.0L1173.7 395.3L1174.3 395.6L1174.9 396.0L1175.5 396.3L1176.1 396.7L1176.8 397.0L1177.4 397.4L1178.0 397.8L1178.6 398.2L1179.2 398.6L1179.9 399.1L1180.5 399.5L1181.1 399.9L1181.7 400.4L1182.3 400.8L1183.0 401.2L1183.6 401.7L1184.2 402.1L1184.8 402.6L1185.4 403.0L1186.1 403.5L1186.7 403.9L1187.3 404.4L1187.9 404.8L1188.5 405.2L1189.2 405.7L1189.8 406.1L1190.4 406.5L1191.0 406.9L1191.6 407.4L1192.3 407.8L1192.9 408.2L1193.5 408.6L1194.1 409.0L1194.7 409.4L1195.4 409.8L1196.0 410.2L1196.6 410.6L1197.2 411.0L1197.8 411.4L1198.5 411.8L1199.1 412.2L1199.7 412.7L1200.3 413.1L1200.9 413.5L1201.6 413.9L1202.2 414.3L1202.8 414.7L1203.4 415.1L1204.0 415.6L1204.7 416.0L1205.3 416.4L1205.9 416.9L1206.5 417.3L1207.1 417.8L1207.8 418.3L1208.4 418.7L1209.0 419.2L1209.6 419.6L1210.2 420.1L1210.9 420.6L1211.5 421.1L1212.1 421.5L1212.7 422.0L1213.3 422.5L1214.0 423.0L1214.6 423.4L1215.2 423.9L1215.8 424.4L1216.4 424.9L1217.1 425.3L1217.7 425.8L1218.3 426.3L1218.9 426.7L1219.5 427.2L1220.2 427.6L1220.8 428.1L1221.4 428.5L1222.0 429.0L1222.6 429.5L1223.3 429.9L1223.9 430.4L1224.5 430.9L1225.1 431.4L1225.7 431.8L1226.4 432.3L1227.0 432.8L1227.6 433.3L1228.2 433.8L1228.8 434.2L1229.5 434.7L1230.1 435.2L1230.7 435.6L1231.3 436.1L1231.9 436.5L1232.6 436.9L1233.2 437.4L1233.8 437.8L1234.4 438.2L1235.0 438.6L1235.7 439.0L1236.3 439.3L1236.9 439.7L1237.5 440.0L1238.1 440.4L1238.8 440.7L1239.4 441.0L1240.0 441.3L1240.6 441.5L1241.2 441.8L1241.9 442.0L1242.5 442.3L1243.1 442.5L1243.7 442.7L1244.3 442.9L1245.0 443.2L1245.6 443.4L1246.2 443.6L1246.8 443.8L1247.4 444.0L1248.1 444.2L1248.7 444.3L1249.3 444.5L1249.9 444.7L1250.5 444.9L1251.2 445.1L1251.8 445.2L1252.4 445.4L1253.0 445.6L1253.6 445.7L1254.3 445.9L1254.9 446.1L1255.5 446.3L1256.1 446.4L1256.7 446.6L1257.4 446.8L1258.0 446.9L1258.6 447.1L1259.2 447.3L1259.8 447.5L1260.5 447.6L1261.1 447.8L1261.7 448.0L1262.3 448.2L1262.9 448.4L1263.6 448.5L1264.2 448.7L1264.8 448.9L1265.4 449.1L1266.0 449.3L1266.7 449.5L1267.3 449.6L1267.9 449.8L1268.5 450.0L1269.1 450.2L1269.8 450.3L1270.4 450.5L1271.0 450.7L1271.6 450.9L1272.2 451.0L1272.9 451.2L1273.5 451.4L1274.1 451.5L1274.7 451.7L1275.3 451.8L1276.0 452.0L1276.6 452.1L1277.2 452.3L1277.8 452.4L1278.4 452.6L1279.1 452.7L1279.7 452.8L1280.3 453.0L1280.9 453.1L1281.5 453.2L1282.2 453.3L1282.8 453.4L1283.4 453.5L1284.0 453.6L1284.6 453.7L1285.3 453.8L1285.9 453.9L1286.5 453.9L1287.1 454.0L1287.7 454.1L1288.4 454.2L1289.0 454.3L1289.6 454.4L1290.2 454.4L1290.8 454.5L1291.5 454.6L1292.1 454.7L1292.7 454.8L1293.3 454.9L1293.9 455.0L1294.6 455.2L1295.2 455.3L1295.8 455.4L1296.4 455.6L1297.0 455.7L1297.7 455.9L1298.3 456.1L1298.9 456.3L1299.5 456.5L1300.1 456.7L1300.8 456.9L1301.4 457.1L1302.0 457.4L1302.6 457.6L1303.2 457.8L1303.9 458.1L1304.5 458.3L1305.1 458.5L1305.7 458.8L1306.3 459.0L1307.0 459.2L1307.6 459.5L1308.2 459.7L1308.8 459.9L1309.4 460.1L1310.1 460.3L1310.7 460.5L1311.3 460.7L1311.9 460.9L1312.5 461.0L1313.2 461.2L1313.8 461.3L1314.4 461.5L1315.0 461.6L1315.6 461.7L1316.3 461.8L1316.9 462.0L1317.5 462.1L1318.1 462.2L1318.7 462.3L1319.4 462.4L1320.0 462.6L1320.6 462.7L1321.2 462.8L1321.8 462.9L1322.5 463.0L1323.1 463.1L1323.7 463.2L1324.3 463.3L1324.9 463.4L1325.6 463.5L1326.2 463.6L1326.8 463.7L1327.4 463.8L1328.0 463.8L1328.7 463.9L1329.3 464.0L1329.9 464.1L1330.5 464.2L1331.1 464.3L1331.8 464.3L1332.4 464.4L1333.0 464.5L1333.6 464.5L1334.2 464.6L1334.9 464.7L1335.5 464.7L1336.1 464.8L1336.7 464.8L1337.3 464.9L1338.0 465.0L1338.6 465.0L1339.2 465.1L1339.8 465.1L1340.4 465.2L1341.1 465.2L1341.7 465.2L1342.3 465.3L1342.9 465.3L1343.5 465.4L1344.2 465.4L1344.8 465.5L1345.4 465.5L1346.0 465.5L1346.6 465.6L1347.3 465.6L1347.9 465.6L1348.5 465.7L1349.1 465.7L1349.7 465.8L1350.4 465.8L1351.0 465.8L1351.6 465.9L1352.2 465.9L1352.8 465.9L1353.5 466.0L1354.1 466.0L1354.7 466.1L1355.3 466.1L1355.9 466.1L1356.6 466.2L1357.2 466.2L1357.8 466.3L1358.4 466.3L1359.0 466.3L1359.7 466.4L1360.3 466.4L1360.9 466.5L1361.5 466.5L1362.1 466.5L1362.8 466.6L1363.4 466.6L1364.0 466.7L1364.6 466.7L1365.2 466.7L1365.9 466.8L1366.5 466.8L1367.1 466.9L1367.7 466.9L1368.3 466.9L1369.0 467.0L1369.6 467.0L1370.2 467.1L1370.8 467.1L1371.4 467.1L1372.1 467.2L1372.7 467.2L1373.3 467.3L1373.9 467.3L1374.5 467.4L1375.2 467.4L1375.8 467.5L1376.4 467.5L1377.0 467.6L1377.6 467.6L1378.3 467.7L1378.9 467.7L1379.5 467.8L1380.1 467.8L1380.7 467.9L1381.4 467.9L1382.0 468.0L1382.6 468.1L1383.2 468.1L1383.8 468.2L1384.5 468.2L1385.1 468.3L1385.7 468.4L1386.3 468.4L1386.9 468.5L1387.6 468.6L1388.2 468.6L1388.8 468.7L1389.4 468.8L1390.0 468.8L1390.7 468.9L1391.3 469.0L1391.9 469.0L1392.5 469.1L1393.1 469.2L1393.8 469.2L1394.4 469.3L1395.0 469.4L1395.6 469.4L1396.2 469.5L1396.9 469.6L1397.5 469.6L1398.1 469.7L1398.7 469.8L1399.3 469.8L1400.0 469.9L1400.6 469.9L1401.2 470.0L1401.8 470.1L1402.4 470.1L1403.1 470.2L1403.7 470.3L1404.3 470.3L1404.9 470.4L1405.5 470.5L1406.2 470.6L1406.8 470.6L1407.4 470.7L1408.0 470.8L1408.6 470.8L1409.3 470.9L1409.9 471.0L1410.5 471.0L1411.1 471.1L1411.7 471.1L1412.4 471.2L1413.0 471.3L1413.6 471.3L1414.2 471.4L1414.8 471.4L1415.5 471.5L1416.1 471.5L1416.7 471.6L1417.3 471.6L1417.9 471.6L1418.6 471.7L1419.2 471.7L1419.8 471.8L1420.4 471.8L1421.0 471.8L1421.7 471.9L1422.3 471.9L1422.9 471.9L1423.5 471.9L1424.1 472.0L1424.8 472.0L1425.4 472.0L1426.0 472.0L1426.4 472.0L1426.4 475.0 Z" fill="#d4d5f3" stroke="none"/>
<clipPath id="clipR"><path d="M990.1 475.0L990.1 474.7L990.8 474.7L991.4 474.7L992.0 474.6L992.6 474.5L993.2 474.0L993.9 473.1L994.5 471.8L995.1 470.5L995.7 469.1L996.3 467.6L997.0 465.8L997.6 463.6L998.2 460.9L998.8 457.2L999.4 452.4L1000.1 447.1L1000.7 441.5L1001.3 435.0L1001.9 427.6L1002.5 419.1L1003.2 409.6L1003.8 399.3L1004.4 387.6L1005.0 374.5L1005.6 361.7L1006.3 350.6L1006.9 338.2L1007.5 319.5L1008.1 289.6L1008.7 258.2L1009.4 226.9L1010.0 196.0L1010.6 166.4L1011.2 138.4L1011.8 112.5L1012.5 89.4L1013.1 70.7L1013.7 58.8L1014.3 54.5L1014.9 59.2L1015.6 78.7L1016.2 114.7L1016.8 146.5L1017.4 161.8L1018.0 173.4L1018.7 183.9L1019.3 192.8L1019.9 202.0L1020.5 213.6L1021.1 228.9L1021.8 243.5L1022.4 257.0L1023.0 269.3L1023.6 279.5L1024.2 287.9L1024.9 295.6L1025.5 303.3L1026.1 312.0L1026.7 322.5L1027.3 330.3L1028.0 334.5L1028.6 337.6L1029.2 340.5L1029.8 343.8L1030.4 347.5L1031.1 350.5L1031.7 352.5L1032.3 354.1L1032.9 354.9L1033.5 354.6L1034.2 353.0L1034.8 350.8L1035.4 348.2L1036.0 344.6L1036.6 340.8L1037.3 337.2L1037.9 333.3L1038.5 328.0L1039.1 319.5L1039.7 312.0L1040.4 306.6L1041.0 301.5L1041.6 297.1L1042.2 293.4L1042.8 290.8L1043.5 289.1L1044.1 287.8L1044.7 286.8L1045.3 286.1L1045.9 285.7L1046.6 285.5L1047.2 285.4L1047.8 285.1L1048.4 284.7L1049.0 283.2L1049.7 280.8L1050.3 277.7L1050.9 274.5L1051.5 271.0L1052.1 266.9L1052.8 262.3L1053.4 257.4L1054.0 251.8L1054.6 245.5L1055.2 239.6L1055.9 234.0L1056.5 228.3L1057.1 222.8L1057.7 217.8L1058.3 213.8L1059.0 210.8L1059.6 208.5L1060.2 206.7L1060.8 204.9L1061.4 202.9L1062.1 200.5L1062.7 197.2L1063.3 193.1L1063.9 188.6L1064.5 184.2L1065.2 179.8L1065.8 175.1L1066.4 170.5L1067.0 166.8L1067.6 163.9L1068.3 161.2L1068.9 159.8L1069.5 160.3L1070.1 161.9L1070.7 164.3L1071.4 169.5L1072.0 177.4L1072.6 185.8L1073.2 194.9L1073.8 204.8L1074.5 215.3L1075.1 227.2L1075.7 237.5L1076.3 244.3L1076.9 249.6L1077.6 254.2L1078.2 258.3L1078.8 262.3L1079.4 266.8L1080.0 271.5L1080.7 276.3L1081.3 281.0L1081.9 285.6L1082.5 289.9L1083.1 293.9L1083.8 297.9L1084.4 301.8L1085.0 305.4L1085.6 308.5L1086.2 310.8L1086.9 312.8L1087.5 314.5L1088.1 316.1L1088.7 317.5L1089.3 318.6L1090.0 319.4L1090.6 319.9L1091.2 320.3L1091.8 320.6L1092.4 320.9L1093.1 321.1L1093.7 321.3L1094.3 321.4L1094.9 321.4L1095.5 321.1L1096.2 320.7L1096.8 320.0L1097.4 319.2L1098.0 318.4L1098.6 317.6L1099.3 316.8L1099.9 315.9L1100.5 314.9L1101.1 313.8L1101.7 312.7L1102.4 311.6L1103.0 310.7L1103.6 309.8L1104.2 308.8L1104.8 307.8L1105.5 306.8L1106.1 306.0L1106.7 305.4L1107.3 305.0L1107.9 305.0L1108.6 305.2L1109.2 305.5L1109.8 305.9L1110.4 306.4L1111.0 306.9L1111.7 307.4L1112.3 307.9L1112.9 308.6L1113.5 309.4L1114.1 310.1L1114.8 310.5L1115.4 310.7L1116.0 310.6L1116.6 310.3L1117.2 310.0L1117.9 309.5L1118.5 309.1L1119.1 308.6L1119.7 308.2L1120.3 307.8L1121.0 307.6L1121.6 307.6L1122.2 307.8L1122.8 308.2L1123.4 308.7L1124.1 309.4L1124.7 310.1L1125.3 310.9L1125.9 312.2L1126.5 313.7L1127.2 315.4L1127.8 317.2L1128.4 318.9L1129.0 320.3L1129.6 321.6L1130.3 322.8L1130.9 323.9L1131.5 325.0L1132.1 326.0L1132.7 327.1L1133.4 328.2L1134.0 329.3L1134.6 330.5L1135.2 331.7L1135.8 333.1L1136.5 334.4L1137.1 335.8L1137.7 337.3L1138.3 338.9L1138.9 340.5L1139.6 342.3L1140.2 344.3L1140.8 346.5L1141.4 349.0L1142.0 351.4L1142.7 353.8L1143.3 356.0L1143.9 357.9L1144.5 359.6L1145.1 361.2L1145.8 362.7L1146.4 364.1L1147.0 365.5L1147.6 366.8L1148.2 368.1L1148.9 369.4L1149.5 370.7L1150.1 371.9L1150.7 373.2L1151.3 374.4L1152.0 375.6L1152.6 376.7L1153.2 377.7L1153.8 378.7L1154.4 379.6L1155.1 380.5L1155.7 381.3L1156.3 382.1L1156.9 382.9L1157.5 383.7L1158.2 384.4L1158.8 385.2L1159.4 385.8L1160.0 386.5L1160.6 387.1L1161.3 387.7L1161.9 388.2L1162.5 388.8L1163.1 389.2L1163.7 389.7L1164.4 390.1L1165.0 390.5L1165.6 390.9L1166.2 391.3L1166.8 391.7L1167.5 392.1L1168.1 392.4L1168.7 392.7L1169.3 393.1L1169.9 393.4L1170.6 393.7L1171.2 394.0L1171.8 394.3L1172.4 394.7L1173.0 395.0L1173.7 395.3L1174.3 395.6L1174.9 396.0L1175.5 396.3L1176.1 396.7L1176.8 397.0L1177.4 397.4L1178.0 397.8L1178.6 398.2L1179.2 398.6L1179.9 399.1L1180.5 399.5L1181.1 399.9L1181.7 400.4L1182.3 400.8L1183.0 401.2L1183.6 401.7L1184.2 402.1L1184.8 402.6L1185.4 403.0L1186.1 403.5L1186.7 403.9L1187.3 404.4L1187.9 404.8L1188.5 405.2L1189.2 405.7L1189.8 406.1L1190.4 406.5L1191.0 406.9L1191.6 407.4L1192.3 407.8L1192.9 408.2L1193.5 408.6L1194.1 409.0L1194.7 409.4L1195.4 409.8L1196.0 410.2L1196.6 410.6L1197.2 411.0L1197.8 411.4L1198.5 411.8L1199.1 412.2L1199.7 412.7L1200.3 413.1L1200.9 413.5L1201.6 413.9L1202.2 414.3L1202.8 414.7L1203.4 415.1L1204.0 415.6L1204.7 416.0L1205.3 416.4L1205.9 416.9L1206.5 417.3L1207.1 417.8L1207.8 418.3L1208.4 418.7L1209.0 419.2L1209.6 419.6L1210.2 420.1L1210.9 420.6L1211.5 421.1L1212.1 421.5L1212.7 422.0L1213.3 422.5L1214.0 423.0L1214.6 423.4L1215.2 423.9L1215.8 424.4L1216.4 424.9L1217.1 425.3L1217.7 425.8L1218.3 426.3L1218.9 426.7L1219.5 427.2L1220.2 427.6L1220.8 428.1L1221.4 428.5L1222.0 429.0L1222.6 429.5L1223.3 429.9L1223.9 430.4L1224.5 430.9L1225.1 431.4L1225.7 431.8L1226.4 432.3L1227.0 432.8L1227.6 433.3L1228.2 433.8L1228.8 434.2L1229.5 434.7L1230.1 435.2L1230.7 435.6L1231.3 436.1L1231.9 436.5L1232.6 436.9L1233.2 437.4L1233.8 437.8L1234.4 438.2L1235.0 438.6L1235.7 439.0L1236.3 439.3L1236.9 439.7L1237.5 440.0L1238.1 440.4L1238.8 440.7L1239.4 441.0L1240.0 441.3L1240.6 441.5L1241.2 441.8L1241.9 442.0L1242.5 442.3L1243.1 442.5L1243.7 442.7L1244.3 442.9L1245.0 443.2L1245.6 443.4L1246.2 443.6L1246.8 443.8L1247.4 444.0L1248.1 444.2L1248.7 444.3L1249.3 444.5L1249.9 444.7L1250.5 444.9L1251.2 445.1L1251.8 445.2L1252.4 445.4L1253.0 445.6L1253.6 445.7L1254.3 445.9L1254.9 446.1L1255.5 446.3L1256.1 446.4L1256.7 446.6L1257.4 446.8L1258.0 446.9L1258.6 447.1L1259.2 447.3L1259.8 447.5L1260.5 447.6L1261.1 447.8L1261.7 448.0L1262.3 448.2L1262.9 448.4L1263.6 448.5L1264.2 448.7L1264.8 448.9L1265.4 449.1L1266.0 449.3L1266.7 449.5L1267.3 449.6L1267.9 449.8L1268.5 450.0L1269.1 450.2L1269.8 450.3L1270.4 450.5L1271.0 450.7L1271.6 450.9L1272.2 451.0L1272.9 451.2L1273.5 451.4L1274.1 451.5L1274.7 451.7L1275.3 451.8L1276.0 452.0L1276.6 452.1L1277.2 452.3L1277.8 452.4L1278.4 452.6L1279.1 452.7L1279.7 452.8L1280.3 453.0L1280.9 453.1L1281.5 453.2L1282.2 453.3L1282.8 453.4L1283.4 453.5L1284.0 453.6L1284.6 453.7L1285.3 453.8L1285.9 453.9L1286.5 453.9L1287.1 454.0L1287.7 454.1L1288.4 454.2L1289.0 454.3L1289.6 454.4L1290.2 454.4L1290.8 454.5L1291.5 454.6L1292.1 454.7L1292.7 454.8L1293.3 454.9L1293.9 455.0L1294.6 455.2L1295.2 455.3L1295.8 455.4L1296.4 455.6L1297.0 455.7L1297.7 455.9L1298.3 456.1L1298.9 456.3L1299.5 456.5L1300.1 456.7L1300.8 456.9L1301.4 457.1L1302.0 457.4L1302.6 457.6L1303.2 457.8L1303.9 458.1L1304.5 458.3L1305.1 458.5L1305.7 458.8L1306.3 459.0L1307.0 459.2L1307.6 459.5L1308.2 459.7L1308.8 459.9L1309.4 460.1L1310.1 460.3L1310.7 460.5L1311.3 460.7L1311.9 460.9L1312.5 461.0L1313.2 461.2L1313.8 461.3L1314.4 461.5L1315.0 461.6L1315.6 461.7L1316.3 461.8L1316.9 462.0L1317.5 462.1L1318.1 462.2L1318.7 462.3L1319.4 462.4L1320.0 462.6L1320.6 462.7L1321.2 462.8L1321.8 462.9L1322.5 463.0L1323.1 463.1L1323.7 463.2L1324.3 463.3L1324.9 463.4L1325.6 463.5L1326.2 463.6L1326.8 463.7L1327.4 463.8L1328.0 463.8L1328.7 463.9L1329.3 464.0L1329.9 464.1L1330.5 464.2L1331.1 464.3L1331.8 464.3L1332.4 464.4L1333.0 464.5L1333.6 464.5L1334.2 464.6L1334.9 464.7L1335.5 464.7L1336.1 464.8L1336.7 464.8L1337.3 464.9L1338.0 465.0L1338.6 465.0L1339.2 465.1L1339.8 465.1L1340.4 465.2L1341.1 465.2L1341.7 465.2L1342.3 465.3L1342.9 465.3L1343.5 465.4L1344.2 465.4L1344.8 465.5L1345.4 465.5L1346.0 465.5L1346.6 465.6L1347.3 465.6L1347.9 465.6L1348.5 465.7L1349.1 465.7L1349.7 465.8L1350.4 465.8L1351.0 465.8L1351.6 465.9L1352.2 465.9L1352.8 465.9L1353.5 466.0L1354.1 466.0L1354.7 466.1L1355.3 466.1L1355.9 466.1L1356.6 466.2L1357.2 466.2L1357.8 466.3L1358.4 466.3L1359.0 466.3L1359.7 466.4L1360.3 466.4L1360.9 466.5L1361.5 466.5L1362.1 466.5L1362.8 466.6L1363.4 466.6L1364.0 466.7L1364.6 466.7L1365.2 466.7L1365.9 466.8L1366.5 466.8L1367.1 466.9L1367.7 466.9L1368.3 466.9L1369.0 467.0L1369.6 467.0L1370.2 467.1L1370.8 467.1L1371.4 467.1L1372.1 467.2L1372.7 467.2L1373.3 467.3L1373.9 467.3L1374.5 467.4L1375.2 467.4L1375.8 467.5L1376.4 467.5L1377.0 467.6L1377.6 467.6L1378.3 467.7L1378.9 467.7L1379.5 467.8L1380.1 467.8L1380.7 467.9L1381.4 467.9L1382.0 468.0L1382.6 468.1L1383.2 468.1L1383.8 468.2L1384.5 468.2L1385.1 468.3L1385.7 468.4L1386.3 468.4L1386.9 468.5L1387.6 468.6L1388.2 468.6L1388.8 468.7L1389.4 468.8L1390.0 468.8L1390.7 468.9L1391.3 469.0L1391.9 469.0L1392.5 469.1L1393.1 469.2L1393.8 469.2L1394.4 469.3L1395.0 469.4L1395.6 469.4L1396.2 469.5L1396.9 469.6L1397.5 469.6L1398.1 469.7L1398.7 469.8L1399.3 469.8L1400.0 469.9L1400.6 469.9L1401.2 470.0L1401.8 470.1L1402.4 470.1L1403.1 470.2L1403.7 470.3L1404.3 470.3L1404.9 470.4L1405.5 470.5L1406.2 470.6L1406.8 470.6L1407.4 470.7L1408.0 470.8L1408.6 470.8L1409.3 470.9L1409.9 471.0L1410.5 471.0L1411.1 471.1L1411.7 471.1L1412.4 471.2L1413.0 471.3L1413.6 471.3L1414.2 471.4L1414.8 471.4L1415.5 471.5L1416.1 471.5L1416.7 471.6L1417.3 471.6L1417.9 471.6L1418.6 471.7L1419.2 471.7L1419.8 471.8L1420.4 471.8L1421.0 471.8L1421.7 471.9L1422.3 471.9L1422.9 471.9L1423.5 471.9L1424.1 472.0L1424.8 472.0L1425.4 472.0L1426.0 472.0L1426.4 472.0L1426.4 475.0 Z"/></clipPath>
<clipPath id="areaR"><rect x="805.6" y="33.6" width="622.8" height="442.7"/></clipPath>
<g clip-path="url(#areaR)">
<path d="M808.0 474.5l0.6 0.0l0.6 0.0l0.7 0.0l0.6 0.0l0.6 0.0l0.6 0.0l0.6 0.0l0.7 0.0l0.6 0.0l0.6 0.0l0.6 0.0l0.6 0.0l0.7 0.0l0.6 0.0l0.6 0.0l0.6 0.0l0.6 0.0l0.7 0.0l0.6 0.0l0.6 0.0l0.6 0.0l0.6 0.0l0.7 0.0l0.6 0.0l0.6 0.0l0.6 0.0l0.6 0.0l0.7 0.0l0.6 0.0l0.6 0.0l0.6 0.0l0.6 0.0l0.7 0.0l0.6 0.0l0.6 0.0l0.6 0.0l0.6 0.0l0.7 0.0l0.6 0.0l0.6 0.0l0.6 0.0l0.6 0.0l0.7 0.0l0.6 0.0l0.6 0.0l0.6 0.0l0.6 0.0l0.7 0.0l0.6 0.0l0.6 0.0l0.6 0.0l0.6 0.0l0.7 0.0l0.6 0.0l0.6 0.0l0.6 0.0l0.6 0.0l0.7 0.0l0.6 0.0l0.6 0.0l0.6 0.0l0.6 0.0l0.7 0.0l0.6 0.0l0.6 0.0l0.6 0.0l0.6 0.0l0.7-0.0l0.6-0.0l0.6-0.0l0.6-0.0l0.6-0.0l0.7-0.0l0.6-0.0l0.6-0.1l0.6 0.0l0.6 0.0l0.7-0.0l0.6-0.0l0.6-0.1l0.6 0.0l0.6-0.0l0.7-0.0l0.6-0.1l0.6 0.0l0.6-0.0l0.6-0.1l0.7 0.0l0.6-0.0l0.6-0.0l0.6-0.1l0.6-0.0l0.7-0.1l0.6 0.0l0.6-0.0l0.6-0.1l0.6 0.0l0.7-0.0l0.6-0.1l0.6 0.0l0.6-0.0l0.6-0.1l0.7-0.0l0.6-0.1l0.6-0.0l0.6-0.1l0.6-0.0l0.7-0.1l0.6-0.1l0.6-0.0l0.6-0.1l0.6-0.0l0.7-0.1l0.6-0.1l0.6-0.0l0.6-0.1l0.6-0.1l0.7-0.0l0.6-0.1l0.6-0.1l0.6-0.0l0.6-0.1l0.7-0.0l0.6-0.1l0.6-0.0l0.6-0.1l0.6-0.0l0.7-0.1l0.6-0.0l0.6-0.1l0.6-0.0l0.6-0.1l0.7-0.0l0.6-0.1l0.6-0.0l0.6-0.1l0.6-0.0l0.7-0.1l0.6 0.0l0.6-0.0l0.6-0.1l0.6-0.0l0.7-0.1l0.6 0.0l0.6-0.0l0.6-0.1l0.6-0.0l0.7-0.0l0.6-0.1l0.6-0.0l0.6-0.1l0.6 0.0l0.7-0.0l0.6-0.1l0.6-0.0l0.6-0.1l0.6 0.0l0.7-0.0l0.6-0.1l0.6 0.0l0.6-0.0l0.6-0.1l0.7 0.0l0.6-0.0l0.6-0.0l0.6-0.1l0.6 0.0l0.7 0.0l0.6 0.0l0.6 0.0l0.6 0.0l0.6 0.0l0.7 0.0l0.6 0.0l0.6 0.0l0.6 0.0l0.6 0.0l0.7 0.0l0.6 0.0l0.6 0.0l0.6 0.0l0.6 0.0l0.7 0.0l0.6 0.0l0.6 0.0l0.6 0.0l0.6 0.0l0.7 0.0l0.6 0.0l0.6 0.0l0.6 0.0l0.6 0.0l0.7 0.0l0.6 0.0l0.6 0.0l0.6 0.0l0.6 0.0l0.7 0.0l0.6 0.0l0.6 0.0l0.6 0.0l0.6 0.0l0.7 0.0l0.6 0.0l0.6 0.0l0.6 0.0l0.6 0.0l0.7 0.0l0.6 0.0l0.6 0.0l0.6 0.0l0.6 0.0l0.7 0.0l0.6 0.0l0.6 0.0l0.6 0.0l0.6 0.0l0.7 0.0l0.6-0.0l0.6-0.0l0.6-0.0l0.6-0.0l0.7-0.0l0.6-0.0l0.6-0.1l0.6 0.0l0.6-0.0l0.7-0.0l0.6-0.1l0.6-0.0l0.6-0.0l0.6-0.1l0.7-0.0l0.6-0.0l0.6-0.1l0.6-0.0l0.6-0.1l0.7-0.0l0.6-0.0l0.6-0.1l0.6-0.0l0.6-0.1l0.7-0.0l0.6-0.0l0.6-0.1l0.6-0.1l0.6-0.0l0.7-0.1l0.6-0.1l0.6-0.0l0.6-0.1l0.6-0.1l0.7-0.1l0.6-0.0l0.6-0.1l0.6-0.1l0.6-0.1l0.7-0.1l0.6-0.0l0.6-0.1l0.6-0.1l0.6-0.0l0.7-0.1l0.6-0.0l0.6-0.0l0.6-0.1l0.6-0.0l0.7-0.0l0.6-0.0l0.6-0.0l0.6-0.1l0.6 0.0l0.7 0.0l0.6 0.0l0.6 0.0l0.6 0.0l0.6 0.0l0.7-0.0l0.6-0.0l0.6-0.0l0.6-0.0l0.6-0.0l0.7-0.1l0.6 0.0l0.6 0.0l0.6 0.0l0.6-0.0l0.7-0.1l0.6-0.0l0.6-0.1l0.6-0.1l0.6-0.0l0.7-0.1l0.6-0.1l0.6-0.1l0.6-0.1l0.6-0.1l0.7-0.2l0.6-0.1l0.6-0.1l0.6-0.0l0.6-0.1l0.7-0.1l0.6-0.1l0.6-0.2l0.6-0.1l0.6-0.1l0.7-0.1l0.6-0.1l0.6-0.1l0.6-0.1l0.6-0.1l0.7-0.2l0.6-0.1l0.6-0.1l0.6-0.1l0.6-0.2l0.7-0.1l0.6-0.1l0.6-0.2l0.6-0.1l0.6-0.2l0.7-0.1l0.6-0.2l0.6-0.1l0.6-0.1l0.6-0.2l0.7-0.1l0.6-0.1l0.6-0.2l0.6-0.1l0.6-0.1l0.7-0.2l0.6-0.1l0.6-0.2l0.6-0.2l0.6-0.3l0.7-0.3l0.6-0.3l0.6-0.3l0.6-0.4l0.6-0.4l0.7-0.4l0.6-0.5l0.6-0.4l0.6-0.5l0.6-0.6l0.7-0.5l0.6-0.7l0.6-0.7l0.6-0.7l0.6-0.9l0.7-0.9l0.6-0.9l0.6-1.0l0.6-1.0l0.6-1.1l0.7-1.2l0.6-1.4l0.6-1.4l0.6-1.5l0.6-1.6l0.7-1.5l0.6-1.6l0.6-1.6l0.6-1.6l0.6-1.7l0.7-1.7l0.6-1.7l0.6-1.6l0.6-1.5l0.6-1.3l0.7-1.4l0.6-1.4l0.6-1.5l0.6-1.7l0.6-2.0l0.7-2.4l0.6-2.5l0.6-2.7l0.6-2.8l0.6-3.0l0.7-3.0l0.6-2.8l0.6-2.5l0.6-2.2l0.6-2.4l0.7-2.7l0.6-3.5l0.6-4.1l0.6-3.6l0.6-3.1l0.7-3.0l0.6-3.0l0.6-3.3l0.6-3.6l0.6-3.4l0.7-3.1l0.6-2.8l0.6-3.0l0.6-3.3l0.6-3.7l0.7-3.8l0.6-4.2l0.6-4.5l0.6-4.2l0.6-3.6l0.7-3.7l0.6-4.7l0.6-5.6l0.6-5.0l0.6-4.5l0.7-4.2l0.6-3.7l0.6-3.7l0.6-3.8l0.6-3.8l0.7-3.8l0.6-3.5l0.6-3.5l0.6-3.6l0.6-4.0l0.7-4.2l0.6-4.0l0.6-3.7l0.6-3.7l0.6-4.4l0.7-5.1l0.6-4.9l0.6-4.7l0.6-3.8l0.6-2.7l0.7-2.3l0.6-2.4l0.6-3.2l0.6-4.3l0.6-5.0l0.7-5.4l0.6-5.3l0.6-4.2l0.6-3.7l0.6-3.3l0.7-3.0l0.6-2.7l0.6-2.9l0.6-3.3l0.6-3.8l0.7-3.5l0.6-2.9l0.6-2.4l0.6-2.4l0.6-2.5l0.7-2.8l0.6-3.2l0.6-3.1l0.6-2.7l0.6-2.3l0.7-2.1l0.6-2.2l0.6-2.5l0.6-3.1l0.6-3.6l0.7-3.6l0.6-3.5l0.6-3.5l0.6-3.2l0.6-2.6l0.7-2.2l0.6-2.1l0.6-2.3l0.6-2.8l0.6-3.5l0.7-3.8l0.6-3.7l0.6-3.9l0.6-3.8l0.6-3.2l0.7-3.1l0.6-2.6l0.6-1.8l0.6-1.2l0.6-1.0l0.7-0.7l0.6-0.7l0.6-0.7l0.6-0.7l0.6-0.9l0.7-1.1l0.6-1.8l0.6-1.9l0.6-1.5l0.6-0.6l0.7-0.2l0.6-0.1l0.6-0.2l0.6-0.2l0.6-0.1l0.7-0.1l0.6-0.1l0.6-0.1l0.6-0.0l0.6-0.1l0.7 0.0l0.6 0.0l0.6 0.1l0.6 0.4l0.6 0.6l0.7 0.8l0.6 1.0l0.6 1.1l0.6 1.0l0.6 1.0l0.7 0.9l0.6 0.8l0.6 0.9l0.6 1.0l0.6 0.9l0.7 0.9l0.6 1.0l0.6 0.9l0.6 0.9l0.6 0.9l0.7 0.9l0.6 0.9l0.6 0.9l0.6 0.8l0.6 1.0l0.7 1.0l0.6 1.0l0.6 1.2l0.6 1.3l0.6 1.4l0.7 1.5l0.6 1.5l0.6 1.5l0.6 1.5l0.6 1.4l0.7 1.2l0.6 1.2l0.6 1.1l0.6 1.1l0.6 1.0l0.7 1.1l0.6 1.0l0.6 1.1l0.6 1.0l0.6 1.1l0.7 1.0l0.6 1.0l0.6 1.1l0.6 1.0l0.6 1.1l0.7 1.1l0.6 1.2l0.6 1.2l0.6 1.3l0.6 1.3l0.7 1.4l0.6 1.6l0.6 1.6l0.6 1.8l0.6 2.1l0.7 2.4l0.6 2.3l0.6 2.2l0.6 1.9l0.6 1.9l0.7 1.9l0.6 1.7l0.6 1.8l0.6 1.8l0.6 1.6l0.7 1.6l0.6 1.6l0.6 1.5l0.6 1.7l0.6 1.8l0.7 2.1l0.6 2.3l0.6 2.6l0.6 2.6l0.6 2.5l0.7 2.2l0.6 1.9l0.6 1.6l0.6 1.5l0.6 1.3l0.7 1.3l0.6 1.3l0.6 1.4l0.6 1.6l0.6 1.8l0.7 2.3l0.6 2.6l0.6 2.6l0.6 2.5l0.6 2.2l0.7 2.0l0.6 2.1l0.6 2.3l0.6 2.7l0.6 3.0l0.7 3.1l0.6 2.9l0.6 2.7l0.6 2.6l0.6 2.6l0.7 2.4l0.6 2.5l0.6 2.4l0.6 2.3l0.6 2.4l0.7 2.3l0.6 2.2l0.6 2.2l0.6 2.2l0.6 2.2l0.7 2.1l0.6 2.1l0.6 2.1l0.6 2.0l0.6 2.1l0.7 2.0l0.6 2.0l0.6 2.0l0.6 2.0l0.6 1.9l0.7 2.0l0.6 1.9l0.6 1.9l0.6 1.9l0.6 2.0l0.7 1.8l0.6 1.9l0.6 1.9l0.6 1.8l0.6 1.8l0.7 1.8l0.6 1.8l0.6 1.8l0.6 1.8l0.6 1.7l0.7 1.7l0.6 1.7l0.6 1.7l0.6 1.8l0.6 1.7l0.7 1.7l0.6 1.8l0.6 1.8l0.6 1.9l0.6 1.8l0.7 1.8l0.6 1.6l0.6 1.3l0.6 1.3l0.6 1.1l0.7 1.2l0.6 1.2l0.6 1.2l0.6 1.5l0.6 1.5l0.7 1.7l0.6 1.7l0.6 1.7l0.6 1.8l0.6 1.6l0.7 1.6l0.6 1.5l0.6 1.5l0.6 1.4l0.6 1.4l0.7 1.4l0.6 1.4l0.6 1.4l0.6 1.4l0.6 1.4l0.7 1.5l0.6 1.5l0.6 1.5l0.6 1.5l0.6 1.6l0.7 1.5l0.6 1.6l0.6 1.5l0.6 1.6l0.6 1.5l0.7 1.5l0.6 1.4l0.6 1.5l0.6 1.4l0.6 1.4l0.7 1.4l0.6 1.3l0.6 1.3l0.6 1.3l0.6 1.3l0.7 1.2l0.6 1.1l0.6 1.2l0.6 1.1l0.6 1.1l0.7 1.1l0.6 1.0l0.6 1.1l0.6 1.0l0.6 1.0l0.7 1.0l0.6 1.0l0.6 1.0l0.6 0.9l0.6 1.0l0.7 1.0l0.6 1.0l0.6 1.0l0.6 1.0l0.6 1.0l0.7 1.0l0.6 0.9l0.6 1.0l0.6 1.0l0.6 1.0l0.7 1.0l0.6 1.0l0.6 1.0l0.6 1.0l0.6 1.0l0.7 1.0l0.6 1.0l0.6 0.9l0.6 1.0l0.6 0.9l0.7 0.9l0.6 0.9l0.6 1.0l0.6 0.9l0.6 0.9l0.7 0.9l0.6 1.0l0.6 1.0l0.6 0.9l0.6 1.0l0.7 0.9l0.6 0.9l0.6 0.9l0.6 0.8l0.6 0.9l0.7 0.8l0.6 0.8l0.6 0.9l0.6 0.7l0.6 0.8l0.7 0.7l0.6 0.7l0.6 0.6l0.6 0.6l0.6 0.5l0.7 0.5l0.6 0.5l0.6 0.4l0.6 0.4l0.6 0.5l0.7 0.4l0.6 0.5l0.6 0.5l0.6 0.5l0.6 0.6l0.7 0.6l0.6 0.5l0.6 0.6l0.6 0.6l0.6 0.5l0.7 0.6l0.6 0.5l0.6 0.5l0.6 0.4l0.6 0.5l0.7 0.4l0.6 0.5l0.6 0.4l0.6 0.4l0.6 0.4l0.7 0.4l0.6 0.4l0.6 0.4l0.6 0.4l0.6 0.4l0.7 0.4l0.6 0.4l0.6 0.4l0.6 0.3l0.6 0.4l0.7 0.4l0.6 0.4l0.6 0.3l0.6 0.4l0.6 0.4l0.7 0.3l0.6 0.4l0.6 0.3l0.6 0.4l0.6 0.3l0.7 0.4l0.6 0.4l0.6 0.3l0.6 0.4l0.6 0.4l0.7 0.4l0.6 0.4l0.6 0.5l0.6 0.4l0.6 0.4l0.7 0.4l0.6 0.4l0.6 0.4l0.6 0.3l0.6 0.3l0.7 0.3l0.6 0.3l0.6 0.3l0.6 0.3l0.6 0.2l0.7 0.3l0.6 0.3l0.6 0.2l0.6 0.3l0.6 0.3l0.7 0.2l0.6 0.3l0.6 0.3l0.6 0.4l0.6 0.3l0.7 0.3l0.6 0.3l0.6 0.3l0.6 0.4l0.6 0.3l0.7 0.3l0.6 0.3l0.6 0.3l0.6 0.3l0.6 0.3l0.7 0.3l0.6 0.3l0.6 0.4l0.6 0.3l0.6 0.3l0.7 0.2l0.6 0.3l0.6 0.2l0.6 0.2l0.6 0.2l0.7 0.2l0.6 0.1l0.6 0.1l0.6 0.1l0.6 0.2l0.7 0.1l0.6 0.1l0.6 0.1l0.6 0.1l0.6 0.1l0.7 0.1l0.6 0.1l0.6 0.1l0.6 0.1l0.6 0.1l0.7 0.1l0.6 0.1l0.6 0.1l0.6 0.2l0.6 0.1l0.7 0.1l0.6 0.1l0.6 0.1l0.6 0.2l0.6 0.1l0.7 0.1l0.6 0.2l0.6 0.1l0.6 0.2l0.6 0.1l0.7 0.2l0.6 0.1l0.6 0.2l0.6 0.1l0.6 0.2l0.7 0.1l0.6 0.2l0.6 0.1l0.6 0.2l0.6 0.2l0.7 0.1l0.6 0.2l0.6 0.1l0.6 0.2l0.6 0.2l0.7 0.1l0.6 0.2l0.6 0.1l0.6 0.2l0.6 0.1l0.7 0.2l0.6 0.1l0.6 0.2l0.6 0.2l0.6 0.1l0.7 0.2l0.6 0.1l0.6 0.2l0.6 0.2l0.6 0.1l0.7 0.2l0.6 0.1l0.6 0.1l0.6 0.2l0.6 0.1l0.7 0.1l0.6 0.1l0.6 0.1l0.6 0.1l0.6 0.1l0.7 0.1l0.6 0.1l0.6 0.1l0.6 0.1l0.6 0.1l0.7 0.1l0.6 0.0l0.6 0.1l0.6 0.1l0.6 0.1l0.7 0.0l0.6 0.1l0.6 0.1l0.6 0.1l0.6 0.0l0.7 0.1l0.6 0.1l0.6 0.0l0.6 0.1l0.6 0.1l0.7 0.1l0.6 0.0l0.6 0.1l0.6 0.1l0.6 0.1l0.7 0.0l0.6 0.1l0.6 0.1l0.6 0.0l0.6 0.1l0.7 0.1l0.6 0.0l0.6 0.1l0.6 0.1l0.6 0.0l0.7 0.1l0.6 0.0l0.6 0.1l0.6 0.0l0.6 0.1l0.7-0.0l0.6 0.0l0.6 0.1l0.6-0.0l0.6 0.0l0.7 0.1l0.6-0.0l0.6 0.0l0.6 0.0l0.6 0.1l0.7 0.0l0.6 0.0l0.6 0.1l0.6-0.0l0.6 0.0l0.7 0.0l0.6 0.1l0.6-0.0l0.6 0.0l0.6 0.0l0.7 0.1l0.6-0.0l0.6-0.0l0.6 0.0l0.6 0.0l0.7 0.0l0.6 0.1l0.6-0.0l0.6-0.0l0.6-0.0l0.7-0.0l0.6-0.0l0.6-0.0l0.6-0.0l0.6 0.0l0.3 0.0" fill="none" stroke="#ff0000" stroke-width="5.3" stroke-linecap="round" stroke-dasharray="0 10"/>
<path d="M808.0 474.5l0.6 0.0l0.6 0.0l0.7 0.0l0.6 0.0l0.6 0.0l0.6 0.0l0.6 0.0l0.7 0.0l0.6 0.0l0.6 0.0l0.6 0.0l0.6 0.0l0.7 0.0l0.6 0.0l0.6 0.0l0.6 0.0l0.6 0.0l0.7 0.0l0.6 0.0l0.6 0.0l0.6 0.0l0.6 0.0l0.7 0.0l0.6 0.0l0.6 0.0l0.6 0.0l0.6 0.0l0.7 0.0l0.6 0.0l0.6 0.0l0.6 0.0l0.6 0.0l0.7 0.0l0.6 0.0l0.6 0.0l0.6 0.0l0.6 0.0l0.7 0.0l0.6 0.0l0.6 0.0l0.6 0.0l0.6 0.0l0.7 0.0l0.6 0.0l0.6 0.0l0.6 0.0l0.6 0.0l0.7 0.0l0.6 0.0l0.6 0.0l0.6 0.0l0.6 0.0l0.7 0.0l0.6 0.0l0.6 0.0l0.6 0.0l0.6 0.0l0.7 0.0l0.6 0.0l0.6 0.0l0.6 0.0l0.6 0.0l0.7 0.0l0.6 0.0l0.6 0.0l0.6 0.0l0.6 0.0l0.7-0.0l0.6-0.0l0.6-0.0l0.6-0.0l0.6-0.0l0.7-0.0l0.6-0.0l0.6-0.1l0.6 0.0l0.6 0.0l0.7-0.0l0.6-0.0l0.6-0.1l0.6 0.0l0.6-0.0l0.7-0.0l0.6-0.1l0.6 0.0l0.6-0.0l0.6-0.1l0.7 0.0l0.6-0.0l0.6-0.0l0.6-0.1l0.6-0.0l0.7-0.1l0.6 0.0l0.6-0.0l0.6-0.1l0.6 0.0l0.7-0.0l0.6-0.1l0.6 0.0l0.6-0.0l0.6-0.1l0.7-0.0l0.6-0.1l0.6-0.0l0.6-0.1l0.6-0.0l0.7-0.1l0.6-0.1l0.6-0.0l0.6-0.1l0.6-0.0l0.7-0.1l0.6-0.1l0.6-0.0l0.6-0.1l0.6-0.1l0.7-0.0l0.6-0.1l0.6-0.1l0.6-0.0l0.6-0.1l0.7-0.0l0.6-0.1l0.6-0.0l0.6-0.1l0.6-0.0l0.7-0.1l0.6-0.0l0.6-0.1l0.6-0.0l0.6-0.1l0.7-0.0l0.6-0.1l0.6-0.0l0.6-0.1l0.6-0.0l0.7-0.1l0.6 0.0l0.6-0.0l0.6-0.1l0.6-0.0l0.7-0.1l0.6 0.0l0.6-0.0l0.6-0.1l0.6-0.0l0.7-0.0l0.6-0.1l0.6-0.0l0.6-0.1l0.6 0.0l0.7-0.0l0.6-0.1l0.6-0.0l0.6-0.1l0.6 0.0l0.7-0.0l0.6-0.1l0.6 0.0l0.6-0.0l0.6-0.1l0.7 0.0l0.6-0.0l0.6-0.0l0.6-0.1l0.6 0.0l0.7 0.0l0.6 0.0l0.6 0.0l0.6 0.0l0.6 0.0l0.7 0.0l0.6 0.0l0.6 0.0l0.6 0.0l0.6 0.0l0.7 0.0l0.6 0.0l0.6 0.0l0.6 0.0l0.6 0.0l0.7 0.0l0.6 0.0l0.6 0.0l0.6 0.0l0.6 0.0l0.7 0.0l0.6 0.0l0.6 0.0l0.6 0.0l0.6 0.0l0.7 0.0l0.6 0.0l0.6 0.0l0.6 0.0l0.6 0.0l0.7 0.0l0.6 0.0l0.6 0.0l0.6 0.0l0.6 0.0l0.7 0.0l0.6 0.0l0.6 0.0l0.6 0.0l0.6 0.0l0.7 0.0l0.6 0.0l0.6 0.0l0.6 0.0l0.6 0.0l0.7 0.0l0.6 0.0l0.6 0.0l0.6 0.0l0.6 0.0l0.7 0.0l0.6-0.0l0.6-0.0l0.6-0.0l0.6-0.0l0.7-0.0l0.6-0.0l0.6-0.1l0.6 0.0l0.6-0.0l0.7-0.0l0.6-0.1l0.6-0.0l0.6-0.0l0.6-0.1l0.7-0.0l0.6-0.0l0.6-0.1l0.6-0.0l0.6-0.1l0.7-0.0l0.6-0.0l0.6-0.1l0.6-0.0l0.6-0.1l0.7-0.0l0.6-0.0l0.6-0.1l0.6-0.1l0.6-0.0l0.7-0.1l0.6-0.1l0.6-0.0l0.6-0.1l0.6-0.1l0.7-0.1l0.6-0.0l0.6-0.1l0.6-0.1l0.6-0.1l0.7-0.1l0.6-0.0l0.6-0.1l0.6-0.1l0.6-0.0l0.7-0.1l0.6-0.0l0.6-0.0l0.6-0.1l0.6-0.0l0.7-0.0l0.6-0.0l0.6-0.0l0.6-0.1l0.6 0.0l0.7 0.0l0.6 0.0l0.6 0.0l0.6 0.0l0.6 0.0l0.7-0.0l0.6-0.0l0.6-0.0l0.6-0.0l0.6-0.0l0.7-0.1l0.6 0.0l0.6 0.0l0.6 0.0l0.6-0.0l0.7-0.1l0.6-0.0l0.6-0.1l0.6-0.1l0.6-0.0l0.7-0.1l0.6-0.1l0.6-0.1l0.6-0.1l0.6-0.1l0.7-0.2l0.6-0.1l0.6-0.1l0.6-0.0l0.6-0.1l0.7-0.1l0.6-0.1l0.6-0.2l0.6-0.1l0.6-0.1l0.7-0.1l0.6-0.1l0.6-0.1l0.6-0.1l0.6-0.1l0.7-0.2l0.6-0.1l0.6-0.1l0.6-0.1l0.6-0.2l0.7-0.1l0.6-0.1l0.6-0.2l0.6-0.1l0.6-0.2l0.7-0.1l0.6-0.2l0.6-0.1l0.6-0.1l0.6-0.2l0.7-0.1l0.6-0.1l0.6-0.2l0.6-0.1l0.6-0.1l0.7-0.2l0.6-0.1l0.6-0.2l0.6-0.2l0.6-0.3l0.7-0.3l0.6-0.3l0.6-0.3l0.6-0.4l0.6-0.4l0.7-0.4l0.6-0.5l0.6-0.4l0.6-0.5l0.6-0.6l0.7-0.5l0.6-0.7l0.6-0.7l0.6-0.7l0.6-0.9l0.7-0.9l0.6-0.9l0.6-1.0l0.6-1.0l0.6-1.1l0.7-1.2l0.6-1.4l0.6-1.4l0.6-1.5l0.6-1.6l0.7-1.5l0.6-1.6l0.6-1.6l0.6-1.6l0.6-1.7l0.7-1.7l0.6-1.7l0.6-1.6l0.6-1.5l0.6-1.3l0.7-1.4l0.6-1.4l0.6-1.5l0.6-1.7l0.6-2.0l0.7-2.4l0.6-2.5l0.6-2.7l0.6-2.8l0.6-3.0l0.7-3.0l0.6-2.8l0.6-2.5l0.6-2.2l0.6-2.4l0.7-2.7l0.6-3.5l0.6-4.1l0.6-3.6l0.6-3.1l0.7-3.0l0.6-3.0l0.6-3.3l0.6-3.6l0.6-3.4l0.7-3.1l0.6-2.8l0.6-3.0l0.6-3.3l0.6-3.7l0.7-3.8l0.6-4.2l0.6-4.5l0.6-4.2l0.6-3.6l0.7-3.7l0.6-4.7l0.6-5.6l0.6-5.0l0.6-4.5l0.7-4.2l0.6-3.7l0.6-3.7l0.6-3.8l0.6-3.8l0.7-3.8l0.6-3.5l0.6-3.5l0.6-3.6l0.6-4.0l0.7-4.2l0.6-4.0l0.6-3.7l0.6-3.7l0.6-4.4l0.7-5.1l0.6-4.9l0.6-4.7l0.6-3.8l0.6-2.7l0.7-2.3l0.6-2.4l0.6-3.2l0.6-4.3l0.6-5.0l0.7-5.4l0.6-5.3l0.6-4.2l0.6-3.7l0.6-3.3l0.7-3.0l0.6-2.7l0.6-2.9l0.6-3.3l0.6-3.8l0.7-3.5l0.6-2.9l0.6-2.4l0.6-2.4l0.6-2.5l0.7-2.8l0.6-3.2l0.6-3.1l0.6-2.7l0.6-2.3l0.7-2.1l0.6-2.2l0.6-2.5l0.6-3.1l0.6-3.6l0.7-3.6l0.6-3.5l0.6-3.5l0.6-3.2l0.6-2.6l0.7-2.2l0.6-2.1l0.6-2.3l0.6-2.8l0.6-3.5l0.7-3.8l0.6-3.7l0.6-3.9l0.6-3.8l0.6-3.2l0.7-3.1l0.6-2.6l0.6-1.8l0.6-1.2l0.6-1.0l0.7-0.7l0.6-0.7l0.6-0.7l0.6-0.7l0.6-0.9l0.7-1.1l0.6-1.8l0.6-1.9l0.6-1.5l0.6-0.6l0.7-0.2l0.6-0.1l0.6-0.2l0.6-0.2l0.6-0.1l0.7-0.1l0.6-0.1l0.6-0.1l0.6-0.0l0.6-0.1l0.7 0.0l0.6 0.0l0.6 0.1l0.6 0.4l0.6 0.6l0.7 0.8l0.6 1.0l0.6 1.1l0.6 1.0l0.6 1.0l0.7 0.9l0.6 0.8l0.6 0.9l0.6 1.0l0.6 0.9l0.7 0.9l0.6 1.0l0.6 0.9l0.6 0.9l0.6 0.9l0.7 0.9l0.6 0.9l0.6 0.9l0.6 0.8l0.6 1.0l0.7 1.0l0.6 1.0l0.6 1.2l0.6 1.3l0.6 1.4l0.7 1.5l0.6 1.5l0.6 1.5l0.6 1.5l0.6 1.4l0.7 1.2l0.6 1.2l0.6 1.1l0.6 1.1l0.6 1.0l0.7 1.1l0.6 1.0l0.6 1.1l0.6 1.0l0.6 1.1l0.7 1.0l0.6 1.0l0.6 1.1l0.6 1.0l0.6 1.1l0.7 1.1l0.6 1.2l0.6 1.2l0.6 1.3l0.6 1.3l0.7 1.4l0.6 1.6l0.6 1.6l0.6 1.8l0.6 2.1l0.7 2.4l0.6 2.3l0.6 2.2l0.6 1.9l0.6 1.9l0.7 1.9l0.6 1.7l0.6 1.8l0.6 1.8l0.6 1.6l0.7 1.6l0.6 1.6l0.6 1.5l0.6 1.7l0.6 1.8l0.7 2.1l0.6 2.3l0.6 2.6l0.6 2.6l0.6 2.5l0.7 2.2l0.6 1.9l0.6 1.6l0.6 1.5l0.6 1.3l0.7 1.3l0.6 1.3l0.6 1.4l0.6 1.6l0.6 1.8l0.7 2.3l0.6 2.6l0.6 2.6l0.6 2.5l0.6 2.2l0.7 2.0l0.6 2.1l0.6 2.3l0.6 2.7l0.6 3.0l0.7 3.1l0.6 2.9l0.6 2.7l0.6 2.6l0.6 2.6l0.7 2.4l0.6 2.5l0.6 2.4l0.6 2.3l0.6 2.4l0.7 2.3l0.6 2.2l0.6 2.2l0.6 2.2l0.6 2.2l0.7 2.1l0.6 2.1l0.6 2.1l0.6 2.0l0.6 2.1l0.7 2.0l0.6 2.0l0.6 2.0l0.6 2.0l0.6 1.9l0.7 2.0l0.6 1.9l0.6 1.9l0.6 1.9l0.6 2.0l0.7 1.8l0.6 1.9l0.6 1.9l0.6 1.8l0.6 1.8l0.7 1.8l0.6 1.8l0.6 1.8l0.6 1.8l0.6 1.7l0.7 1.7l0.6 1.7l0.6 1.7l0.6 1.8l0.6 1.7l0.7 1.7l0.6 1.8l0.6 1.8l0.6 1.9l0.6 1.8l0.7 1.8l0.6 1.6l0.6 1.3l0.6 1.3l0.6 1.1l0.7 1.2l0.6 1.2l0.6 1.2l0.6 1.5l0.6 1.5l0.7 1.7l0.6 1.7l0.6 1.7l0.6 1.8l0.6 1.6l0.7 1.6l0.6 1.5l0.6 1.5l0.6 1.4l0.6 1.4l0.7 1.4l0.6 1.4l0.6 1.4l0.6 1.4l0.6 1.4l0.7 1.5l0.6 1.5l0.6 1.5l0.6 1.5l0.6 1.6l0.7 1.5l0.6 1.6l0.6 1.5l0.6 1.6l0.6 1.5l0.7 1.5l0.6 1.4l0.6 1.5l0.6 1.4l0.6 1.4l0.7 1.4l0.6 1.3l0.6 1.3l0.6 1.3l0.6 1.3l0.7 1.2l0.6 1.1l0.6 1.2l0.6 1.1l0.6 1.1l0.7 1.1l0.6 1.0l0.6 1.1l0.6 1.0l0.6 1.0l0.7 1.0l0.6 1.0l0.6 1.0l0.6 0.9l0.6 1.0l0.7 1.0l0.6 1.0l0.6 1.0l0.6 1.0l0.6 1.0l0.7 1.0l0.6 0.9l0.6 1.0l0.6 1.0l0.6 1.0l0.7 1.0l0.6 1.0l0.6 1.0l0.6 1.0l0.6 1.0l0.7 1.0l0.6 1.0l0.6 0.9l0.6 1.0l0.6 0.9l0.7 0.9l0.6 0.9l0.6 1.0l0.6 0.9l0.6 0.9l0.7 0.9l0.6 1.0l0.6 1.0l0.6 0.9l0.6 1.0l0.7 0.9l0.6 0.9l0.6 0.9l0.6 0.8l0.6 0.9l0.7 0.8l0.6 0.8l0.6 0.9l0.6 0.7l0.6 0.8l0.7 0.7l0.6 0.7l0.6 0.6l0.6 0.6l0.6 0.5l0.7 0.5l0.6 0.5l0.6 0.4l0.6 0.4l0.6 0.5l0.7 0.4l0.6 0.5l0.6 0.5l0.6 0.5l0.6 0.6l0.7 0.6l0.6 0.5l0.6 0.6l0.6 0.6l0.6 0.5l0.7 0.6l0.6 0.5l0.6 0.5l0.6 0.4l0.6 0.5l0.7 0.4l0.6 0.5l0.6 0.4l0.6 0.4l0.6 0.4l0.7 0.4l0.6 0.4l0.6 0.4l0.6 0.4l0.6 0.4l0.7 0.4l0.6 0.4l0.6 0.4l0.6 0.3l0.6 0.4l0.7 0.4l0.6 0.4l0.6 0.3l0.6 0.4l0.6 0.4l0.7 0.3l0.6 0.4l0.6 0.3l0.6 0.4l0.6 0.3l0.7 0.4l0.6 0.4l0.6 0.3l0.6 0.4l0.6 0.4l0.7 0.4l0.6 0.4l0.6 0.5l0.6 0.4l0.6 0.4l0.7 0.4l0.6 0.4l0.6 0.4l0.6 0.3l0.6 0.3l0.7 0.3l0.6 0.3l0.6 0.3l0.6 0.3l0.6 0.2l0.7 0.3l0.6 0.3l0.6 0.2l0.6 0.3l0.6 0.3l0.7 0.2l0.6 0.3l0.6 0.3l0.6 0.4l0.6 0.3l0.7 0.3l0.6 0.3l0.6 0.3l0.6 0.4l0.6 0.3l0.7 0.3l0.6 0.3l0.6 0.3l0.6 0.3l0.6 0.3l0.7 0.3l0.6 0.3l0.6 0.4l0.6 0.3l0.6 0.3l0.7 0.2l0.6 0.3l0.6 0.2l0.6 0.2l0.6 0.2l0.7 0.2l0.6 0.1l0.6 0.1l0.6 0.1l0.6 0.2l0.7 0.1l0.6 0.1l0.6 0.1l0.6 0.1l0.6 0.1l0.7 0.1l0.6 0.1l0.6 0.1l0.6 0.1l0.6 0.1l0.7 0.1l0.6 0.1l0.6 0.1l0.6 0.2l0.6 0.1l0.7 0.1l0.6 0.1l0.6 0.1l0.6 0.2l0.6 0.1l0.7 0.1l0.6 0.2l0.6 0.1l0.6 0.2l0.6 0.1l0.7 0.2l0.6 0.1l0.6 0.2l0.6 0.1l0.6 0.2l0.7 0.1l0.6 0.2l0.6 0.1l0.6 0.2l0.6 0.2l0.7 0.1l0.6 0.2l0.6 0.1l0.6 0.2l0.6 0.2l0.7 0.1l0.6 0.2l0.6 0.1l0.6 0.2l0.6 0.1l0.7 0.2l0.6 0.1l0.6 0.2l0.6 0.2l0.6 0.1l0.7 0.2l0.6 0.1l0.6 0.2l0.6 0.2l0.6 0.1l0.7 0.2l0.6 0.1l0.6 0.1l0.6 0.2l0.6 0.1l0.7 0.1l0.6 0.1l0.6 0.1l0.6 0.1l0.6 0.1l0.7 0.1l0.6 0.1l0.6 0.1l0.6 0.1l0.6 0.1l0.7 0.1l0.6 0.0l0.6 0.1l0.6 0.1l0.6 0.1l0.7 0.0l0.6 0.1l0.6 0.1l0.6 0.1l0.6 0.0l0.7 0.1l0.6 0.1l0.6 0.0l0.6 0.1l0.6 0.1l0.7 0.1l0.6 0.0l0.6 0.1l0.6 0.1l0.6 0.1l0.7 0.0l0.6 0.1l0.6 0.1l0.6 0.0l0.6 0.1l0.7 0.1l0.6 0.0l0.6 0.1l0.6 0.1l0.6 0.0l0.7 0.1l0.6 0.0l0.6 0.1l0.6 0.0l0.6 0.1l0.7-0.0l0.6 0.0l0.6 0.1l0.6-0.0l0.6 0.0l0.7 0.1l0.6-0.0l0.6 0.0l0.6 0.0l0.6 0.1l0.7 0.0l0.6 0.0l0.6 0.1l0.6-0.0l0.6 0.0l0.7 0.0l0.6 0.1l0.6-0.0l0.6 0.0l0.6 0.0l0.7 0.1l0.6-0.0l0.6-0.0l0.6 0.0l0.6 0.0l0.7 0.0l0.6 0.1l0.6-0.0l0.6-0.0l0.6-0.0l0.7-0.0l0.6-0.0l0.6-0.0l0.6-0.0l0.6 0.0l0.3 0.0" fill="none" stroke="#f0042a" stroke-width="5.3" stroke-linecap="round" stroke-dasharray="0 10" clip-path="url(#clipR)"/>
<path d="M868.0 473.1l0.6-1.2l0.6-0.1l0.7 0.3l0.6 0.5l0.6-1.7l0.6 0.2l0.6-1.0l0.7-0.3l0.6 0.3l0.6 1.0l0.6-0.5l0.6-0.6l0.7-0.3l0.6-0.5l0.6 0.9l0.6-0.8l0.6-1.1l0.7 1.0l0.6 0.6l0.6-2.1l0.6 1.8l0.6-2.1l0.7 0.3l0.6 1.3l0.6-0.2l0.6-1.8l0.6 1.0l0.7-0.4l0.6-0.6l0.6 0.7l0.6-0.5l0.6-1.0l0.7 0.4l0.6 0.4l0.6-0.3l0.6-0.3l0.6 0.3l0.7-1.4l0.6-0.4l0.6-0.1l0.6 1.2l0.6-0.6l0.7 0.8l0.6 0.2l0.6-2.0l0.6 0.4l0.6 0.0l0.7 0.2l0.6 0.6l0.6-0.8l0.6-0.7l0.6 0.6l0.7-0.8l0.6 0.4l0.6-1.2l0.6 0.9l0.6-0.3l0.7 0.3l0.6-0.3l0.6-0.1l0.6 0.2l0.6-1.4l0.7 1.2l0.6-0.4l0.6 0.0l0.6-0.7l0.6-0.8l0.7 1.7l0.6-0.4l0.6 0.2l0.6-1.2l0.6 0.8l0.7-0.2l0.6-0.8l0.6 0.7l0.6-0.3l0.6-1.7l0.7-0.1l0.6 0.5l0.6 0.1l0.6 0.2l0.6-0.4l0.7 0.6l0.6-0.3l0.6-1.7l0.6 0.4l0.6 1.1l0.7-0.4l0.6-1.8l0.6 1.2l0.6-1.2l0.6 0.7l0.7 1.0l0.6-2.1l0.6 1.5l0.6-0.9l0.6 1.0l0.7-0.4l0.6-1.8l0.6 1.1l0.6 0.4l0.6-1.4l0.7 0.8l0.6-1.0l0.6-0.3l0.6 0.2l0.6-0.2l0.7 1.4l0.6-1.7l0.6 0.3l0.6 0.0l0.6 0.4l0.7 0.5l0.6-0.9l0.6 0.5l0.6-1.7l0.6 1.1l0.7-1.1l0.6 1.4l0.6-0.7l0.6-1.0l0.6 1.5l0.7-0.8l0.6-0.1l0.6-0.9l0.6 1.7l0.6-0.9l0.7 0.7l0.6-1.7l0.6 1.2l0.6-0.7l0.6 0.3l0.7 0.2l0.6 0.4l0.6 0.2l0.6-1.7l0.6 1.5l0.7-1.7l0.6-0.2l0.6 0.6l0.6-0.1l0.6 1.0l0.7-0.4l0.6-0.4l0.6 0.9l0.6 0.3l0.6-0.7l0.7 0.1l0.6 0.4l0.6-1.2l0.6 1.6l0.6-1.7l0.7-0.3l0.6 1.8l0.6-1.4l0.6 0.4l0.6 0.5l0.7-0.8l0.6 0.7l0.6-0.0l0.6-0.5l0.6 1.2l0.7-0.3l0.6-0.5l0.6 1.4l0.6-0.7l0.6-0.8l0.7 2.0l0.6-1.0l0.6-0.6l0.6 0.5l0.6 0.0l0.7-0.3l0.6 0.7l0.6-0.2l0.6 0.2l0.6 1.1l0.7-1.0l0.6-0.2l0.6 0.5l0.6 0.4l0.6-0.2l0.7 1.1l0.6 0.7l0.6-0.0l0.6-0.7l0.6 0.8l0.7 0.1l0.6-0.3l0.6 0.4l0.6-0.8l0.6 0.8l0.7-0.4l0.6 0.4l0.6 0.0l0.6-1.4l0.6 1.6l0.7-1.7l0.6 0.9l0.6 0.3l0.6 0.5l0.6-1.6l0.7 1.3l0.6-0.7l0.6-0.7l0.6 0.7l0.6 0.6l0.7-1.3l0.6 1.6l0.6-1.9l0.6 0.3l0.6-0.0l0.7-0.5l0.6 1.0l0.6-0.1l0.6-0.3l0.6-1.3l0.7 0.6l0.6-1.0l0.6-0.4l0.6 0.3l0.6-1.2l0.7-0.5l0.6 1.0l0.6-1.2l0.6 0.3l0.6-0.9l0.7-0.8l0.6 0.2l0.6-0.7l0.6-0.5l0.6-0.4l0.7 0.2l0.6-0.5l0.6-0.2l0.6 0.6l0.6-0.5l0.7-0.5l0.6-0.9l0.6 0.4l0.6-0.4l0.6-0.6l0.7-0.7l0.6-0.3l0.6-0.0l0.6-0.6l0.6 0.6l0.7-0.9l0.6-0.0l0.6 0.0l0.6-0.7l0.6-0.9l0.7-0.1l0.6 0.6l0.6-1.5l0.6-0.1l0.6 0.3l0.7 0.0l0.6-0.3l0.6-0.5l0.6-0.4l0.6-0.8l0.7-0.8l0.6 0.4l0.6-1.2l0.6 0.6l0.6-1.4l0.7-0.7l0.6 0.9l0.6-1.7l0.6 0.0l0.6-1.3l0.7 0.7l0.6-1.9l0.6 0.3l0.6-0.3l0.6-1.4l0.7-1.0l0.6-0.6l0.6-0.5l0.6 0.3l0.6-0.9l0.7-0.1l0.6-1.1l0.6-0.8l0.6-1.4l0.6-0.8l0.7 0.2l0.6-1.1l0.6-1.7l0.6-0.6l0.6-1.3l0.7-1.7l0.6-1.3l0.6-0.5l0.6-0.9l0.6-1.2l0.7-2.1l0.6-1.7l0.6-0.9l0.6-1.7l0.6-0.0l0.7-2.4l0.6-0.6l0.6-2.3l0.6-0.5l0.6-2.2l0.7-1.1l0.6-2.0l0.6-1.4l0.6-2.8l0.6-1.8l0.7-1.4l0.6-1.2l0.6-1.8l0.6-2.3l0.6-2.1l0.7-2.8l0.6-0.7l0.6-2.4l0.6-2.1l0.6-1.7l0.7-3.0l0.6-1.6l0.6-2.0l0.6-2.0l0.6-3.1l0.7-1.1l0.6-1.8l0.6-2.4l0.6-2.7l0.6-0.9l0.7-3.2l0.6-1.9l0.6-1.3l0.6-2.6l0.6-2.9l0.7-2.0l0.6-2.8l0.6-3.1l0.6-1.6l0.6-0.5l0.7-1.3l0.6-2.6l0.6-1.6l0.6-2.9l0.6-3.9l0.7-3.6l0.6-2.6l0.6-2.4l0.6-3.3l0.6-3.9l0.7-2.2l0.6-3.4l0.6-3.7l0.6-3.1l0.6-3.2l0.7-2.7l0.6-3.0l0.6-3.0l0.6-2.0l0.6-3.0l0.7-3.2l0.6-2.2l0.6-3.3l0.6-2.5l0.6-3.1l0.7-3.2l0.6-2.9l0.6-2.8l0.6-3.0l0.6-2.7l0.7-3.8l0.6-2.9l0.6-3.1l0.6-1.9l0.6-2.9l0.7-3.5l0.6-2.9l0.6-3.2l0.6-1.6l0.6-3.4l0.7-2.5l0.6-3.4l0.6-3.2l0.6-2.7l0.6-2.8l0.7-3.2l0.6-3.8l0.6-2.8l0.6-2.5l0.6-3.7l0.7-2.9l0.6-3.7l0.6-3.2l0.6-5.1l0.6-4.2l0.7-3.9l0.6-3.1l0.6-3.1l0.6-2.1l0.6-2.7l0.7-4.0l0.6-1.5l0.6-2.9l0.6-2.0l0.6-2.9l0.7-1.7l0.6-3.3l0.6-1.5l0.6-2.4l0.6-2.2l0.7-2.0l0.6-1.9l0.6-1.9l0.6-2.0l0.6-1.6l0.7-1.8l0.6-1.6l0.6-2.3l0.6-2.3l0.6-1.3l0.7-1.9l0.6-1.9l0.6-1.5l0.6-1.7l0.6-1.1l0.7-2.2l0.6-0.8l0.6-1.6l0.6-2.0l0.6-1.0l0.7-0.3l0.6-1.9l0.6-2.1l0.6-0.6l0.6-1.2l0.7-2.2l0.6-1.0l0.6-1.7l0.6-0.9l0.6-1.0l0.7-2.2l0.6-1.5l0.6-1.2l0.6-0.6l0.6-1.8l0.7-0.4l0.6-0.5l0.6-0.8l0.6-0.8l0.6-1.5l0.7 0.0l0.6-0.8l0.6-0.1l0.6-1.1l0.6-0.7l0.7 0.4l0.6-1.0l0.6-2.1l0.6-0.1l0.6-2.2l0.7-0.7l0.6-0.0l0.6-0.9l0.6-1.2l0.6-0.2l0.7-0.9l0.6 0.2l0.6-1.2l0.6-0.5l0.6-0.5l0.7 0.4l0.6-0.4l0.6 0.3l0.6-1.3l0.6 0.8l0.7 0.2l0.6-0.3l0.6-0.9l0.6 0.0l0.6-0.1l0.7 0.4l0.6 0.6l0.6-0.9l0.6 0.4l0.6-0.5l0.7 0.9l0.6-0.8l0.6 1.3l0.6 0.4l0.6 0.3l0.7 1.9l0.6 0.7l0.6 1.5l0.6 1.2l0.6 0.6l0.7 1.1l0.6 1.4l0.6 1.0l0.6 0.8l0.6 0.4l0.7 1.3l0.6-0.2l0.6 2.0l0.6-0.5l0.6 2.2l0.7 0.7l0.6 0.4l0.6 1.6l0.6 1.3l0.6-0.1l0.7 1.7l0.6 0.1l0.6 2.0l0.6 0.2l0.6 1.8l0.7 0.0l0.6 1.5l0.6 1.4l0.6 0.0l0.6 1.7l0.7 0.1l0.6 0.3l0.6 1.9l0.6-0.2l0.6 1.6l0.7 1.5l0.6 1.3l0.6 1.1l0.6 1.4l0.6 2.5l0.7 1.6l0.6 1.7l0.6 1.2l0.6 0.4l0.6 0.1l0.7 1.6l0.6-0.3l0.6 1.8l0.6 0.8l0.6 1.6l0.7 1.2l0.6 1.3l0.6 1.8l0.6 1.2l0.6 1.9l0.7 1.1l0.6 2.1l0.6 1.9l0.6 1.7l0.6 1.3l0.7 1.9l0.6 0.8l0.6 2.1l0.6 1.0l0.6 1.4l0.7 0.0l0.6 1.2l0.6 1.9l0.6 1.4l0.6 0.3l0.7 1.3l0.6 1.7l0.6 1.4l0.6 0.9l0.6 1.4l0.7 1.4l0.6 1.0l0.6 1.4l0.6 1.1l0.6 1.7l0.7 1.7l0.6 1.0l0.6 1.0l0.6 0.9l0.6 0.5l0.7 0.6l0.6 0.9l0.6 2.0l0.6 0.8l0.6 0.8l0.7 1.5l0.6 1.9l0.6 1.9l0.6 1.2l0.6 2.9l0.7 1.9l0.6 1.6l0.6 2.1l0.6 1.9l0.6 2.5l0.7 2.5l0.6 1.7l0.6 1.0l0.6 1.9l0.6 2.2l0.7 1.8l0.6 1.9l0.6 2.8l0.6 1.3l0.6 2.2l0.7 1.5l0.6 2.8l0.6 1.2l0.6 1.1l0.6 2.6l0.7 0.9l0.6 1.8l0.6 1.3l0.6 1.7l0.6 1.2l0.7 1.4l0.6 1.2l0.6 2.5l0.6 0.2l0.6 1.4l0.7 1.5l0.6 0.8l0.6 1.5l0.6 1.5l0.6 1.6l0.7 1.2l0.6 1.1l0.6 1.8l0.6 1.4l0.6 0.7l0.7 1.4l0.6 2.0l0.6 1.2l0.6 2.1l0.6 0.4l0.7 2.3l0.6 1.2l0.6 1.4l0.6 2.5l0.6 0.6l0.7 2.4l0.6 1.7l0.6 1.8l0.6 0.3l0.6 1.6l0.7 1.5l0.6 1.9l0.6 2.4l0.6 1.2l0.6 0.9l0.7 1.5l0.6 2.5l0.6 1.4l0.6 0.7l0.6 2.5l0.7 1.0l0.6 1.7l0.6 1.3l0.6 2.8l0.6 0.8l0.7 1.7l0.6 0.9l0.6 1.7l0.6 1.8l0.6 1.5l0.7 1.7l0.6 0.5l0.6 1.2l0.6 1.7l0.6 1.0l0.7 2.3l0.6 0.2l0.6 1.0l0.6 1.2l0.6 0.9l0.7 0.3l0.6-0.2l0.6 2.5l0.6-1.0l0.6 2.6l0.7-1.0l0.6 0.7l0.6 1.5l0.6 1.9l0.6-0.7l0.7 1.1l0.6 0.7l0.6-0.1l0.6 1.4l0.6 3.1l0.7 1.0l0.6-1.4l0.6 3.3l0.6-2.3l0.6 3.5l0.7-1.7l0.6 2.5l0.6 0.9l0.6 1.0l0.6 3.1l0.7-1.5l0.6-0.4l0.6 1.4l0.6 3.7l0.6 1.3l0.7-2.5l0.6 1.5l0.6 4.5l0.6-1.7l0.6-0.6l0.7 6.6l0.6-4.0l0.6 1.6l0.6 3.0l0.6-0.7l0.7-0.1l0.6 5.9l0.6-4.5l0.6-2.2l0.6 5.7l0.7 1.4l0.6-0.4l0.6-1.1l0.6 1.2l0.6-1.2l0.7 2.5l0.6 4.4l0.6 3.7l0.6-0.5l0.6 0.3l0.7 0.7l0.6 2.7l0.6-0.8l0.6 2.1l0.6-0.1l0.7 0.0l0.6 3.6l0.6-3.7l0.6 6.8l0.6 0.7l0.7-0.1l0.6-1.7l0.6 0.6l0.6 0.5l0.6 1.1l0.7-1.0l0.6 4.9l0.6 1.4l0.6-2.0l0.6 3.4l0.7-3.3l0.6 5.1l0.6 1.7l0.6-1.4l0.6 3.2l0.7-0.9l0.6 0.7l0.6-0.8l0.6-2.3l0.6 1.4l0.7 10.3l0.6-7.9l0.6 5.1l0.6-3.4l0.6 5.9l0.7 2.6l0.6-1.9l0.6-4.1l0.6 6.9l0.6-1.4l0.7 4.2l0.6-1.2l0.6-2.3l0.6 6.6l0.6 0.1l0.7 6.9l0.6-8.1l0.6 2.2l0.6 3.2l0.6-1.7l0.7-4.6l0.6 1.4l0.6-0.7l0.6 1.8l0.6-3.9l0.7 8.1l0.6 8.2l0.6-2.0l0.6-3.7l0.6-1.8l0.7 8.3l0.6 0.9l0.6 1.4l0.6-9.0l0.6 6.6l0.7 1.1l0.6-0.3l0.6-3.1l0.6 8.4l0.6-3.5l0.7-4.8l0.6 3.8l0.6 4.7l0.6-9.6l0.6 11.2l0.7-5.7l0.6 2.9l0.6-1.1l0.6-1.4l0.6 9.0l0.7-5.7l0.6 5.1l0.6 2.0l0.6-6.6l0.6-2.9l0.7 6.4l0.6-3.0l0.6 7.9l0.6-8.1l0.6 7.0l0.7-8.1l0.6 3.2l0.6-0.6l0.6 8.4l0.6-2.8l0.7 1.0l0.6-6.9l0.6 3.1l0.6 7.7l0.6-3.2l0.7 2.1l0.6-3.0l0.6-3.5l0.6 9.4l0.6-14.3l0.7 5.2l0.6 6.5l0.6-7.2l0.6 9.3l0.6-0.4l0.7-4.2l0.6 2.1l0.6-0.1l0.6-12.2l0.6 7.2l0.7 4.1l0.6-4.5l0.6 2.8l0.6 2.9l0.6 4.0l0.7-1.1l0.6-4.4l0.6 8.7l0.6 1.0l0.6-1.4l0.7 0.8l0.6-5.8l0.6 8.9l0.6 4.1l0.6-12.9l0.7 7.9l0.6-0.5l0.6-0.6l0.6-1.1l0.6 4.7l0.7-0.3l0.6-1.8l0.6-7.7l0.6 2.7l0.6 11.7l0.7-8.6l0.6 3.8l0.6-7.6l0.6 7.1l0.6-6.7l0.7 16.9l0.6-3.1l0.6-7.9l0.6-2.0l0.6-2.1l0.7 3.1l0.6 2.1l0.6 8.7l0.6-7.0l0.6 3.1l0.7 8.3l0.6-18.5l0.6 4.0l0.6 5.4l0.6-7.7l0.7 1.9l0.6 10.4l0.6-0.9l0.6-8.6l0.6 0.1l0.7 12.8l0.6-5.8l0.6-2.3l0.6 7.3l0.6-0.5l0.7 5.9l0.6-15.3l0.6 11.6l0.4-5.4" fill="none" stroke="#ff8000" stroke-width="3.4" stroke-linejoin="round"/>
<path d="M868.0 473.1l0.6-1.2l0.6-0.1l0.7 0.3l0.6 0.5l0.6-1.7l0.6 0.2l0.6-1.0l0.7-0.3l0.6 0.3l0.6 1.0l0.6-0.5l0.6-0.6l0.7-0.3l0.6-0.5l0.6 0.9l0.6-0.8l0.6-1.1l0.7 1.0l0.6 0.6l0.6-2.1l0.6 1.8l0.6-2.1l0.7 0.3l0.6 1.3l0.6-0.2l0.6-1.8l0.6 1.0l0.7-0.4l0.6-0.6l0.6 0.7l0.6-0.5l0.6-1.0l0.7 0.4l0.6 0.4l0.6-0.3l0.6-0.3l0.6 0.3l0.7-1.4l0.6-0.4l0.6-0.1l0.6 1.2l0.6-0.6l0.7 0.8l0.6 0.2l0.6-2.0l0.6 0.4l0.6 0.0l0.7 0.2l0.6 0.6l0.6-0.8l0.6-0.7l0.6 0.6l0.7-0.8l0.6 0.4l0.6-1.2l0.6 0.9l0.6-0.3l0.7 0.3l0.6-0.3l0.6-0.1l0.6 0.2l0.6-1.4l0.7 1.2l0.6-0.4l0.6 0.0l0.6-0.7l0.6-0.8l0.7 1.7l0.6-0.4l0.6 0.2l0.6-1.2l0.6 0.8l0.7-0.2l0.6-0.8l0.6 0.7l0.6-0.3l0.6-1.7l0.7-0.1l0.6 0.5l0.6 0.1l0.6 0.2l0.6-0.4l0.7 0.6l0.6-0.3l0.6-1.7l0.6 0.4l0.6 1.1l0.7-0.4l0.6-1.8l0.6 1.2l0.6-1.2l0.6 0.7l0.7 1.0l0.6-2.1l0.6 1.5l0.6-0.9l0.6 1.0l0.7-0.4l0.6-1.8l0.6 1.1l0.6 0.4l0.6-1.4l0.7 0.8l0.6-1.0l0.6-0.3l0.6 0.2l0.6-0.2l0.7 1.4l0.6-1.7l0.6 0.3l0.6 0.0l0.6 0.4l0.7 0.5l0.6-0.9l0.6 0.5l0.6-1.7l0.6 1.1l0.7-1.1l0.6 1.4l0.6-0.7l0.6-1.0l0.6 1.5l0.7-0.8l0.6-0.1l0.6-0.9l0.6 1.7l0.6-0.9l0.7 0.7l0.6-1.7l0.6 1.2l0.6-0.7l0.6 0.3l0.7 0.2l0.6 0.4l0.6 0.2l0.6-1.7l0.6 1.5l0.7-1.7l0.6-0.2l0.6 0.6l0.6-0.1l0.6 1.0l0.7-0.4l0.6-0.4l0.6 0.9l0.6 0.3l0.6-0.7l0.7 0.1l0.6 0.4l0.6-1.2l0.6 1.6l0.6-1.7l0.7-0.3l0.6 1.8l0.6-1.4l0.6 0.4l0.6 0.5l0.7-0.8l0.6 0.7l0.6-0.0l0.6-0.5l0.6 1.2l0.7-0.3l0.6-0.5l0.6 1.4l0.6-0.7l0.6-0.8l0.7 2.0l0.6-1.0l0.6-0.6l0.6 0.5l0.6 0.0l0.7-0.3l0.6 0.7l0.6-0.2l0.6 0.2l0.6 1.1l0.7-1.0l0.6-0.2l0.6 0.5l0.6 0.4l0.6-0.2l0.7 1.1l0.6 0.7l0.6-0.0l0.6-0.7l0.6 0.8l0.7 0.1l0.6-0.3l0.6 0.4l0.6-0.8l0.6 0.8l0.7-0.4l0.6 0.4l0.6 0.0l0.6-1.4l0.6 1.6l0.7-1.7l0.6 0.9l0.6 0.3l0.6 0.5l0.6-1.6l0.7 1.3l0.6-0.7l0.6-0.7l0.6 0.7l0.6 0.6l0.7-1.3l0.6 1.6l0.6-1.9l0.6 0.3l0.6-0.0l0.7-0.5l0.6 1.0l0.6-0.1l0.6-0.3l0.6-1.3l0.7 0.6l0.6-1.0l0.6-0.4l0.6 0.3l0.6-1.2l0.7-0.5l0.6 1.0l0.6-1.2l0.6 0.3l0.6-0.9l0.7-0.8l0.6 0.2l0.6-0.7l0.6-0.5l0.6-0.4l0.7 0.2l0.6-0.5l0.6-0.2l0.6 0.6l0.6-0.5l0.7-0.5l0.6-0.9l0.6 0.4l0.6-0.4l0.6-0.6l0.7-0.7l0.6-0.3l0.6-0.0l0.6-0.6l0.6 0.6l0.7-0.9l0.6-0.0l0.6 0.0l0.6-0.7l0.6-0.9l0.7-0.1l0.6 0.6l0.6-1.5l0.6-0.1l0.6 0.3l0.7 0.0l0.6-0.3l0.6-0.5l0.6-0.4l0.6-0.8l0.7-0.8l0.6 0.4l0.6-1.2l0.6 0.6l0.6-1.4l0.7-0.7l0.6 0.9l0.6-1.7l0.6 0.0l0.6-1.3l0.7 0.7l0.6-1.9l0.6 0.3l0.6-0.3l0.6-1.4l0.7-1.0l0.6-0.6l0.6-0.5l0.6 0.3l0.6-0.9l0.7-0.1l0.6-1.1l0.6-0.8l0.6-1.4l0.6-0.8l0.7 0.2l0.6-1.1l0.6-1.7l0.6-0.6l0.6-1.3l0.7-1.7l0.6-1.3l0.6-0.5l0.6-0.9l0.6-1.2l0.7-2.1l0.6-1.7l0.6-0.9l0.6-1.7l0.6-0.0l0.7-2.4l0.6-0.6l0.6-2.3l0.6-0.5l0.6-2.2l0.7-1.1l0.6-2.0l0.6-1.4l0.6-2.8l0.6-1.8l0.7-1.4l0.6-1.2l0.6-1.8l0.6-2.3l0.6-2.1l0.7-2.8l0.6-0.7l0.6-2.4l0.6-2.1l0.6-1.7l0.7-3.0l0.6-1.6l0.6-2.0l0.6-2.0l0.6-3.1l0.7-1.1l0.6-1.8l0.6-2.4l0.6-2.7l0.6-0.9l0.7-3.2l0.6-1.9l0.6-1.3l0.6-2.6l0.6-2.9l0.7-2.0l0.6-2.8l0.6-3.1l0.6-1.6l0.6-0.5l0.7-1.3l0.6-2.6l0.6-1.6l0.6-2.9l0.6-3.9l0.7-3.6l0.6-2.6l0.6-2.4l0.6-3.3l0.6-3.9l0.7-2.2l0.6-3.4l0.6-3.7l0.6-3.1l0.6-3.2l0.7-2.7l0.6-3.0l0.6-3.0l0.6-2.0l0.6-3.0l0.7-3.2l0.6-2.2l0.6-3.3l0.6-2.5l0.6-3.1l0.7-3.2l0.6-2.9l0.6-2.8l0.6-3.0l0.6-2.7l0.7-3.8l0.6-2.9l0.6-3.1l0.6-1.9l0.6-2.9l0.7-3.5l0.6-2.9l0.6-3.2l0.6-1.6l0.6-3.4l0.7-2.5l0.6-3.4l0.6-3.2l0.6-2.7l0.6-2.8l0.7-3.2l0.6-3.8l0.6-2.8l0.6-2.5l0.6-3.7l0.7-2.9l0.6-3.7l0.6-3.2l0.6-5.1l0.6-4.2l0.7-3.9l0.6-3.1l0.6-3.1l0.6-2.1l0.6-2.7l0.7-4.0l0.6-1.5l0.6-2.9l0.6-2.0l0.6-2.9l0.7-1.7l0.6-3.3l0.6-1.5l0.6-2.4l0.6-2.2l0.7-2.0l0.6-1.9l0.6-1.9l0.6-2.0l0.6-1.6l0.7-1.8l0.6-1.6l0.6-2.3l0.6-2.3l0.6-1.3l0.7-1.9l0.6-1.9l0.6-1.5l0.6-1.7l0.6-1.1l0.7-2.2l0.6-0.8l0.6-1.6l0.6-2.0l0.6-1.0l0.7-0.3l0.6-1.9l0.6-2.1l0.6-0.6l0.6-1.2l0.7-2.2l0.6-1.0l0.6-1.7l0.6-0.9l0.6-1.0l0.7-2.2l0.6-1.5l0.6-1.2l0.6-0.6l0.6-1.8l0.7-0.4l0.6-0.5l0.6-0.8l0.6-0.8l0.6-1.5l0.7 0.0l0.6-0.8l0.6-0.1l0.6-1.1l0.6-0.7l0.7 0.4l0.6-1.0l0.6-2.1l0.6-0.1l0.6-2.2l0.7-0.7l0.6-0.0l0.6-0.9l0.6-1.2l0.6-0.2l0.7-0.9l0.6 0.2l0.6-1.2l0.6-0.5l0.6-0.5l0.7 0.4l0.6-0.4l0.6 0.3l0.6-1.3l0.6 0.8l0.7 0.2l0.6-0.3l0.6-0.9l0.6 0.0l0.6-0.1l0.7 0.4l0.6 0.6l0.6-0.9l0.6 0.4l0.6-0.5l0.7 0.9l0.6-0.8l0.6 1.3l0.6 0.4l0.6 0.3l0.7 1.9l0.6 0.7l0.6 1.5l0.6 1.2l0.6 0.6l0.7 1.1l0.6 1.4l0.6 1.0l0.6 0.8l0.6 0.4l0.7 1.3l0.6-0.2l0.6 2.0l0.6-0.5l0.6 2.2l0.7 0.7l0.6 0.4l0.6 1.6l0.6 1.3l0.6-0.1l0.7 1.7l0.6 0.1l0.6 2.0l0.6 0.2l0.6 1.8l0.7 0.0l0.6 1.5l0.6 1.4l0.6 0.0l0.6 1.7l0.7 0.1l0.6 0.3l0.6 1.9l0.6-0.2l0.6 1.6l0.7 1.5l0.6 1.3l0.6 1.1l0.6 1.4l0.6 2.5l0.7 1.6l0.6 1.7l0.6 1.2l0.6 0.4l0.6 0.1l0.7 1.6l0.6-0.3l0.6 1.8l0.6 0.8l0.6 1.6l0.7 1.2l0.6 1.3l0.6 1.8l0.6 1.2l0.6 1.9l0.7 1.1l0.6 2.1l0.6 1.9l0.6 1.7l0.6 1.3l0.7 1.9l0.6 0.8l0.6 2.1l0.6 1.0l0.6 1.4l0.7 0.0l0.6 1.2l0.6 1.9l0.6 1.4l0.6 0.3l0.7 1.3l0.6 1.7l0.6 1.4l0.6 0.9l0.6 1.4l0.7 1.4l0.6 1.0l0.6 1.4l0.6 1.1l0.6 1.7l0.7 1.7l0.6 1.0l0.6 1.0l0.6 0.9l0.6 0.5l0.7 0.6l0.6 0.9l0.6 2.0l0.6 0.8l0.6 0.8l0.7 1.5l0.6 1.9l0.6 1.9l0.6 1.2l0.6 2.9l0.7 1.9l0.6 1.6l0.6 2.1l0.6 1.9l0.6 2.5l0.7 2.5l0.6 1.7l0.6 1.0l0.6 1.9l0.6 2.2l0.7 1.8l0.6 1.9l0.6 2.8l0.6 1.3l0.6 2.2l0.7 1.5l0.6 2.8l0.6 1.2l0.6 1.1l0.6 2.6l0.7 0.9l0.6 1.8l0.6 1.3l0.6 1.7l0.6 1.2l0.7 1.4l0.6 1.2l0.6 2.5l0.6 0.2l0.6 1.4l0.7 1.5l0.6 0.8l0.6 1.5l0.6 1.5l0.6 1.6l0.7 1.2l0.6 1.1l0.6 1.8l0.6 1.4l0.6 0.7l0.7 1.4l0.6 2.0l0.6 1.2l0.6 2.1l0.6 0.4l0.7 2.3l0.6 1.2l0.6 1.4l0.6 2.5l0.6 0.6l0.7 2.4l0.6 1.7l0.6 1.8l0.6 0.3l0.6 1.6l0.7 1.5l0.6 1.9l0.6 2.4l0.6 1.2l0.6 0.9l0.7 1.5l0.6 2.5l0.6 1.4l0.6 0.7l0.6 2.5l0.7 1.0l0.6 1.7l0.6 1.3l0.6 2.8l0.6 0.8l0.7 1.7l0.6 0.9l0.6 1.7l0.6 1.8l0.6 1.5l0.7 1.7l0.6 0.5l0.6 1.2l0.6 1.7l0.6 1.0l0.7 2.3l0.6 0.2l0.6 1.0l0.6 1.2l0.6 0.9l0.7 0.3l0.6-0.2l0.6 2.5l0.6-1.0l0.6 2.6l0.7-1.0l0.6 0.7l0.6 1.5l0.6 1.9l0.6-0.7l0.7 1.1l0.6 0.7l0.6-0.1l0.6 1.4l0.6 3.1l0.7 1.0l0.6-1.4l0.6 3.3l0.6-2.3l0.6 3.5l0.7-1.7l0.6 2.5l0.6 0.9l0.6 1.0l0.6 3.1l0.7-1.5l0.6-0.4l0.6 1.4l0.6 3.7l0.6 1.3l0.7-2.5l0.6 1.5l0.6 4.5l0.6-1.7l0.6-0.6l0.7 6.6l0.6-4.0l0.6 1.6l0.6 3.0l0.6-0.7l0.7-0.1l0.6 5.9l0.6-4.5l0.6-2.2l0.6 5.7l0.7 1.4l0.6-0.4l0.6-1.1l0.6 1.2l0.6-1.2l0.7 2.5l0.6 4.4l0.6 3.7l0.6-0.5l0.6 0.3l0.7 0.7l0.6 2.7l0.6-0.8l0.6 2.1l0.6-0.1l0.7 0.0l0.6 3.6l0.6-3.7l0.6 6.8l0.6 0.7l0.7-0.1l0.6-1.7l0.6 0.6l0.6 0.5l0.6 1.1l0.7-1.0l0.6 4.9l0.6 1.4l0.6-2.0l0.6 3.4l0.7-3.3l0.6 5.1l0.6 1.7l0.6-1.4l0.6 3.2l0.7-0.9l0.6 0.7l0.6-0.8l0.6-2.3l0.6 1.4l0.7 10.3l0.6-7.9l0.6 5.1l0.6-3.4l0.6 5.9l0.7 2.6l0.6-1.9l0.6-4.1l0.6 6.9l0.6-1.4l0.7 4.2l0.6-1.2l0.6-2.3l0.6 6.6l0.6 0.1l0.7 6.9l0.6-8.1l0.6 2.2l0.6 3.2l0.6-1.7l0.7-4.6l0.6 1.4l0.6-0.7l0.6 1.8l0.6-3.9l0.7 8.1l0.6 8.2l0.6-2.0l0.6-3.7l0.6-1.8l0.7 8.3l0.6 0.9l0.6 1.4l0.6-9.0l0.6 6.6l0.7 1.1l0.6-0.3l0.6-3.1l0.6 8.4l0.6-3.5l0.7-4.8l0.6 3.8l0.6 4.7l0.6-9.6l0.6 11.2l0.7-5.7l0.6 2.9l0.6-1.1l0.6-1.4l0.6 9.0l0.7-5.7l0.6 5.1l0.6 2.0l0.6-6.6l0.6-2.9l0.7 6.4l0.6-3.0l0.6 7.9l0.6-8.1l0.6 7.0l0.7-8.1l0.6 3.2l0.6-0.6l0.6 8.4l0.6-2.8l0.7 1.0l0.6-6.9l0.6 3.1l0.6 7.7l0.6-3.2l0.7 2.1l0.6-3.0l0.6-3.5l0.6 9.4l0.6-14.3l0.7 5.2l0.6 6.5l0.6-7.2l0.6 9.3l0.6-0.4l0.7-4.2l0.6 2.1l0.6-0.1l0.6-12.2l0.6 7.2l0.7 4.1l0.6-4.5l0.6 2.8l0.6 2.9l0.6 4.0l0.7-1.1l0.6-4.4l0.6 8.7l0.6 1.0l0.6-1.4l0.7 0.8l0.6-5.8l0.6 8.9l0.6 4.1l0.6-12.9l0.7 7.9l0.6-0.5l0.6-0.6l0.6-1.1l0.6 4.7l0.7-0.3l0.6-1.8l0.6-7.7l0.6 2.7l0.6 11.7l0.7-8.6l0.6 3.8l0.6-7.6l0.6 7.1l0.6-6.7l0.7 16.9l0.6-3.1l0.6-7.9l0.6-2.0l0.6-2.1l0.7 3.1l0.6 2.1l0.6 8.7l0.6-7.0l0.6 3.1l0.7 8.3l0.6-18.5l0.6 4.0l0.6 5.4l0.6-7.7l0.7 1.9l0.6 10.4l0.6-0.9l0.6-8.6l0.6 0.1l0.7 12.8l0.6-5.8l0.6-2.3l0.6 7.3l0.6-0.5l0.7 5.9l0.6-15.3l0.6 11.6l0.4-5.4" fill="none" stroke="#ec741c" stroke-width="3.4" stroke-linejoin="round" clip-path="url(#clipR)"/>
<path d="M1340.4 384.1l0.6 2.6l0.6-1.9l0.7-4.1l0.6 6.9l0.6-1.4l0.6 4.3l0.6-1.2l0.7-2.3l0.6 6.5l0.6 0.1l0.6 6.9l0.6-8.1l0.7 2.2l0.6 3.3l0.6-1.8l0.6-4.6l0.6 1.4l0.7-0.6l0.6 1.8l0.6-4.0l0.6 8.1l0.6 8.2l0.7-1.9l0.6-3.8l0.6-1.7l0.6 8.3l0.6 0.8l0.7 1.5l0.6-9.1l0.6 6.6l0.6 1.1l0.6-0.3l0.7-3.0l0.6 8.3l0.6-3.5l0.6-4.8l0.6 3.9l0.7 4.7l0.6-9.7l0.6 11.3l0.6-5.8l0.6 3.0l0.7-1.1l0.6-1.5l0.6 9.0l0.6-5.7l0.6 5.1l0.7 2.1l0.6-6.7l0.6-2.9l0.6 6.5l0.6-3.1l0.7 7.9l0.6-8.1l0.6 7.0l0.6-8.1l0.6 3.3l0.7-0.6l0.6 8.3l0.6-2.8l0.6 1.1l0.6-6.9l0.7 3.1l0.6 7.6l0.6-3.2l0.6 2.2l0.6-3.0l0.7-3.6l0.6 9.5l0.6-14.3l0.6 5.1l0.6 6.5l0.7-7.1l0.6 9.2l0.6-0.4l0.6-4.1l0.6 2.0l0.7-0.1l0.6-12.2l0.6 7.3l0.6 4.0l0.6-4.5l0.7 2.8l0.6 2.9l0.6 4.1l0.6-1.2l0.6-4.4l0.7 8.8l0.6 1.0l0.6-1.4l0.6 0.8l0.6-5.8l0.7 8.9l0.6 4.0l0.6-12.8l0.6 7.8l0.6-0.5l0.7-0.5l0.6-1.2l0.6 4.8l0.6-0.3l0.6-1.9l0.7-7.7l0.6 2.8l0.6 11.6l0.6-8.6l0.6 3.8l0.7-7.5l0.6 7.0l0.6-6.6l0.6 16.8l0.6-3.1l0.7-7.8l0.6-2.0l0.6-2.2l0.6 3.1l0.6 2.1l0.7 8.8l0.6-7.0l0.6 3.0l0.6 8.3l0.6-18.4l0.7 3.9l0.6 5.4l0.6-7.7l0.6 1.9l0.6 10.5l0.7-0.9l0.6-8.6l0.6 0.0l0.6 12.9l0.6-5.9l0.7-2.3l0.6 7.4l0.6-0.6l0.6 6.0l0.6-15.4l0.7 11.7l0.4-5.4" fill="none" stroke="#ff8000" stroke-width="4.2" stroke-linejoin="round"/>
<path d="M868.0 474.9l0.6-0.0l0.6-0.1l0.7 0.2l0.6-0.2l0.6 0.2l0.6-0.3l0.6-0.0l0.7 0.4l0.6-0.2l0.6 0.2l0.6-0.6l0.6 0.6l0.7-0.6l0.6 0.5l0.6-0.1l0.6-0.4l0.6 0.2l0.7 0.1l0.6 0.0l0.6-0.0l0.6-0.3l0.6 0.7l0.7-0.5l0.6 0.3l0.6 0.1l0.6 0.0l0.6-0.5l0.7 0.5l0.6-0.3l0.6 0.1l0.6-0.3l0.6-0.1l0.7 0.4l0.6 0.2l0.6-0.4l0.6 0.4l0.6-0.1l0.7-0.5l0.6 0.6l0.6-0.6l0.6 0.1l0.6 0.2l0.7 0.3l0.6-0.6l0.6 0.2l0.6-0.2l0.6 0.0l0.7 0.3l0.6 0.1l0.6-0.1l0.6-0.3l0.6 0.3l0.7-0.0l0.6 0.3l0.6-0.4l0.6 0.2l0.6-0.1l0.7 0.2l0.6-0.1l0.6 0.3l0.6-0.3l0.6-0.2l0.7 0.0l0.6 0.4l0.6-0.4l0.6 0.4l0.6-0.3l0.7 0.3l0.6-0.5l0.6 0.4l0.6-0.2l0.6-0.2l0.7 0.3l0.6-0.4l0.6 0.1l0.6 0.5l0.6-0.3l0.7-0.1l0.6-0.2l0.6 0.1l0.6 0.0l0.6 0.2l0.7-0.3l0.6 0.1l0.6 0.2l0.6 0.3l0.6-0.0l0.7 0.0l0.6-0.5l0.6-0.1l0.6 0.6l0.6-0.2l0.7-0.3l0.6 0.2l0.6 0.3l0.6-0.1l0.6 0.1l0.7-0.3l0.6-0.2l0.6 0.2l0.6-0.3l0.6 0.0l0.7 0.0l0.6 0.1l0.6-0.0l0.6 0.0l0.6 0.3l0.7 0.0l0.6-0.4l0.6 0.6l0.6-0.1l0.6 0.1l0.7-0.5l0.6 0.4l0.6-0.2l0.6 0.2l0.6 0.1l0.7-0.6l0.6 0.6l0.6-0.0l0.6-0.2l0.6-0.2l0.7 0.1l0.6-0.3l0.6 0.5l0.6-0.2l0.6 0.1l0.7 0.1l0.6-0.5l0.6-0.0l0.6 0.0l0.6 0.0l0.7 0.5l0.6-0.5l0.6 0.2l0.6 0.2l0.6-0.3l0.7 0.5l0.6 0.0l0.6-0.4l0.6 0.2l0.6 0.1l0.7 0.2l0.6-0.3l0.6-0.1l0.6-0.3l0.6 0.4l0.7 0.0l0.6 0.0l0.6-0.2l0.6 0.4l0.6-0.2l0.7-0.2l0.6-0.1l0.6-0.1l0.6 0.5l0.6-0.3l0.7 0.4l0.6-0.4l0.6-0.0l0.6 0.3l0.6-0.3l0.7 0.5l0.6-0.3l0.6 0.2l0.6-0.6l0.6-0.0l0.7-0.0l0.6 0.6l0.6-0.3l0.6 0.2l0.6-0.2l0.7 0.3l0.6-0.1l0.6-0.2l0.6-0.2l0.6 0.1l0.7 0.0l0.6 0.0l0.6 0.3l0.6 0.0l0.6 0.0l0.7-0.4l0.6-0.0l0.6 0.3l0.6 0.1l0.6 0.0l0.7 0.1l0.6-0.4l0.6-0.2l0.6 0.2l0.6-0.0l0.7-0.2l0.6 0.4l0.6-0.1l0.6 0.0l0.6 0.4l0.7-0.4l0.6 0.3l0.6-0.1l0.6-0.4l0.6-0.4l0.7-1.2l0.6-1.3l0.6-0.9l0.6-1.6l0.6-1.8l0.7-1.5l0.6-2.3l0.6-3.1l0.6-3.0l0.6-5.1l0.7-4.8l0.6-5.7l0.6-7.4l0.6-7.2l0.6-8.0l0.7-10.0l0.6-9.6l0.6-11.9l0.6-12.7l0.6-13.5l0.7-10.7l0.6-12.5l0.6-18.7l0.6-29.6l0.6-32.1l0.7-31.4l0.6-30.3l0.6-30.3l0.6-27.5l0.6-25.5l0.7-23.2l0.6-18.8l0.6-12.7l0.6-3.2l0.6 4.1l0.7 19.2l0.6 35.8l0.6 31.9l0.6 15.1l0.6 12.3l0.7 10.3l0.6 8.7l0.6 9.8l0.6 10.8l0.6 15.7l0.7 15.1l0.6 13.5l0.6 12.2l0.6 9.9l0.6 8.0l0.7 8.0l0.6 8.1l0.6 8.8l0.6 10.3l0.6 8.1l0.7 3.8l0.6 3.5l0.6 2.9l0.6 2.4l0.6 3.7l0.7 4.0l0.6 1.1l0.6 1.8l0.6 0.9l0.6 0.1l0.7-2.6l0.6-1.6l0.6-2.6l0.6-4.1l0.6-3.4l0.7-3.1l0.6-4.9l0.6-5.0l0.6-8.0l0.6-7.6l0.7-5.2l0.6-5.5l0.6-4.8l0.6-3.3l0.6-2.1l0.7-2.2l0.6-1.3l0.6-0.5l0.6-1.0l0.6-0.9l0.7 0.1l0.6 0.4l0.6-1.2l0.6 0.4l0.6-2.0l0.7-1.9l0.6-3.8l0.6-2.6l0.6-3.3l0.6-5.0l0.7-3.6l0.6-5.9l0.6-5.7l0.6-5.3l0.6-6.2l0.7-6.3l0.6-4.9l0.6-5.7l0.6-4.4l0.6-4.0l0.7-3.2l0.6-2.6l0.6-1.5l0.6-1.9l0.6-2.5l0.7-1.9l0.6-3.9l0.6-3.9l0.6-4.9l0.6-4.3l0.7-4.0l0.6-4.3l0.6-4.6l0.6-4.5l0.6-2.5l0.7-2.9l0.6-1.5l0.6 0.6l0.6 2.0l0.6 2.7l0.7 4.2l0.6 8.2l0.6 8.9l0.6 8.8l0.6 9.8l0.7 11.0l0.6 10.9l0.6 11.5l0.6 5.9l0.6 6.1l0.7 4.5l0.6 4.1l0.6 3.8l0.6 4.5l0.6 4.0l0.7 5.2l0.6 5.0l0.6 4.1l0.6 4.8l0.6 3.9l0.7 4.1l0.6 4.1l0.6 3.0l0.6 3.4l0.6 1.7l0.7 2.8l0.6 1.8l0.6 1.5l0.6 1.4l0.6 0.9l0.7 0.5l0.6 1.0l0.6-0.4l0.6 0.9l0.6-0.3l0.7 1.0l0.6-0.1l0.6 0.2l0.6-0.5l0.6 0.0l0.7-0.2l0.6-0.9l0.6-0.4l0.6-1.6l0.6-0.5l0.7-1.1l0.6-0.1l0.6-1.5l0.6-0.6l0.6-1.1l0.7-1.9l0.6-0.3l0.6-0.7l0.6-0.8l0.6-2.0l0.7-0.9l0.6-0.5l0.6-0.2l0.6-1.1l0.6 1.0l0.7-0.1l0.6-0.6l0.6 1.3l0.6 0.1l0.6 0.2l0.7 1.1l0.6 0.6l0.6 0.6l0.6 0.3l0.6 0.6l0.7 0.3l0.6 0.3l0.6 0.1l0.6-0.3l0.6-0.7l0.7 0.5l0.6-1.2l0.6-0.6l0.6-0.3l0.6-0.0l0.7-0.0l0.6-0.7l0.6 0.3l0.6 0.2l0.6 1.0l0.7 1.4l0.6 0.4l0.6 0.9l0.6 1.4l0.6 0.7l0.7 2.2l0.6 1.5l0.6 1.6l0.6 1.9l0.6 1.1l0.7 1.2l0.6 0.7l0.6 1.9l0.6 0.7l0.6 1.1l0.7 1.2l0.6 1.3l0.6 0.3l0.6 1.4l0.6 2.1l0.7 1.0l0.6 1.7l0.6 0.8l0.6 2.4l0.6 0.9l0.7 2.2l0.6 2.2l0.6 1.8l0.6 2.3l0.6 2.5l0.7 2.0l0.6 2.1l0.6 2.9l0.6 1.4l0.6 0.9l0.7 2.1l0.6 1.0l0.6 2.1l0.6 0.8l0.6 0.9l0.7 2.0l0.6 1.7l0.6 0.9l0.6 1.5l0.6 0.2l0.7 1.4l0.6 1.7l0.6 0.7l0.6 0.6l0.6 1.1l0.7 0.8l0.6 1.4l0.6 0.9l0.6 0.7l0.6 0.7l0.7 0.8l0.6 1.0l0.6-0.1l0.6 0.6l0.6 1.5l0.7 0.4l0.6 0.3l0.6 0.7l0.6 0.3l0.6 0.1l0.7 0.7l0.6 0.0l0.6 0.3l0.6 0.6l0.6 1.0l0.7-0.5l0.6 0.3l0.6 0.5l0.6 1.0l0.6 0.5l0.7-0.5l0.6 1.2l0.6-0.3l0.6 0.6l0.6 0.3l0.7 0.0l0.6 0.8l0.6 0.4l0.6-0.1l0.6 0.1l0.7 1.2l0.6 0.1l0.6-0.0l0.6 0.1l0.6 0.7l0.7 0.5l0.6 0.9l0.6 0.3l0.6 0.2l0.6 0.9l0.7 0.0l0.6 0.8l0.6-0.5l0.6 0.5l0.6 1.4l0.7 0.3l0.6-0.2l0.6 0.3l0.6 0.4l0.6 0.7l0.7 1.1l0.6-0.4l0.6 0.5l0.6 1.1l0.6-0.3l0.7 0.5l0.6 1.0l0.6 0.5l0.6 0.5l0.6-0.6l0.7 0.7l0.6 0.8l0.6 0.0l0.6 0.9l0.6-0.2l0.7 0.9l0.6-0.2l0.6 0.4l0.6 1.2l0.6 0.2l0.7 0.4l0.6 0.2l0.6 0.7l0.6 0.8l0.6-0.3l0.7 0.1l0.6 0.7l0.6 1.0l0.6-0.1l0.6 1.0l0.7-0.2l0.6 0.9l0.6 0.2l0.6 0.7l0.6 0.3l0.7 0.7l0.6 0.7l0.6 0.4l0.6 0.1l0.6 0.0l0.7 1.5l0.6-0.4l0.6 0.8l0.6 0.9l0.6 0.7l0.7 0.2l0.6-0.3l0.6 1.5l0.6-0.6l0.6 0.4l0.7 1.3l0.6 0.7l0.6 0.1l0.6 0.7l0.6 0.2l0.7-0.2l0.6 1.2l0.6 0.6l0.6 0.2l0.6 0.7l0.7 0.2l0.6 0.0l0.6 1.4l0.6-0.3l0.6 0.5l0.7 0.4l0.6 0.7l0.6 0.5l0.6 0.2l0.6 0.4l0.7 0.8l0.6-0.1l0.6 1.0l0.6-0.1l0.6 0.5l0.7 0.3l0.6 1.3l0.6 0.3l0.6 0.5l0.6 0.1l0.7-0.0l0.6 0.2l0.6 0.5l0.6 0.3l0.6 0.7l0.7-0.6l0.6 0.9l0.6 0.3l0.6 0.3l0.6-0.2l0.7 0.2l0.6 0.7l0.6-0.5l0.6 0.6l0.6-0.6l0.7 0.3l0.6 0.5l0.6 0.5l0.6-0.5l0.6 1.0l0.7-0.1l0.6-0.4l0.6 0.1l0.6 0.6l0.6 0.6l0.7 0.4l0.6-0.1l0.6-0.5l0.6 1.0l0.6-0.7l0.7 0.4l0.6 0.5l0.6-0.2l0.6 0.2l0.6 0.3l0.7 0.7l0.6-0.3l0.6-0.3l0.6 0.5l0.6 0.5l0.7 0.1l0.6 0.7l0.6-0.4l0.6 0.5l0.6 0.2l0.7-0.2l0.6 0.1l0.6 0.3l0.6-0.3l0.6 0.2l0.7 0.2l0.6 0.2l0.6 0.1l0.6 0.5l0.6-0.1l0.7 1.2l0.6-0.5l0.6-0.4l0.6 1.0l0.6 0.2l0.7 0.4l0.6-0.7l0.6 0.3l0.6 0.6l0.6 0.0l0.7 0.2l0.6 0.5l0.6 0.2l0.6-1.1l0.6 0.6l0.7 0.7l0.6-1.0l0.6 0.5l0.6 0.6l0.6-0.7l0.7 0.7l0.6 0.5l0.6-0.4l0.6-0.6l0.6 0.2l0.7 0.5l0.6-0.4l0.6 0.9l0.6-0.4l0.6 0.1l0.7 0.7l0.6-0.0l0.6 0.2l0.6-0.6l0.6 0.2l0.7 0.5l0.6-0.0l0.6 0.5l0.6-0.3l0.6 0.7l0.7-0.6l0.6 0.7l0.6 0.4l0.6 0.4l0.6-0.5l0.7 0.8l0.6-0.1l0.6 0.2l0.6-0.2l0.6 1.0l0.7-0.8l0.6 1.4l0.6-0.3l0.6 0.3l0.6-0.3l0.7 0.8l0.6-0.4l0.6 1.1l0.6 0.1l0.6-0.5l0.7 1.0l0.6-0.0l0.6-0.3l0.6 0.7l0.6 0.2l0.7-0.1l0.6 0.4l0.6 0.2l0.6 0.3l0.6 0.0l0.7-0.7l0.6 1.0l0.6 0.2l0.6-0.4l0.6 0.6l0.7-0.7l0.6-0.1l0.6 0.6l0.6-0.3l0.6 0.1l0.7 0.5l0.6 0.8l0.6-0.5l0.6 0.7l0.6-0.5l0.7 0.0l0.6-0.4l0.6 0.2l0.6 1.0l0.6-0.1l0.7-0.1l0.6 0.5l0.6-0.2l0.6-0.4l0.6 0.8l0.7-0.1l0.6-0.7l0.6 1.0l0.6-0.5l0.6 0.6l0.7 0.1l0.6 0.1l0.6-0.9l0.6 0.8l0.6-0.4l0.7 0.7l0.6-0.8l0.6 0.9l0.6 0.2l0.6-0.5l0.7 0.1l0.6 0.1l0.6 0.4l0.6-1.0l0.6 1.0l0.7-0.6l0.6 0.1l0.6 0.6l0.6-0.8l0.6 0.0l0.7 0.7l0.6 0.1l0.6-0.5l0.6 0.6l0.6-0.4l0.7-0.4l0.6 0.4l0.6-0.1l0.6 0.4l0.6-0.0l0.7-0.1l0.6 0.7l0.6-0.6l0.6-0.2l0.6 1.0l0.7-0.3l0.6 0.4l0.6-0.6l0.6 0.2l0.6-0.3l0.7 0.8l0.6-0.7l0.6 0.8l0.6-0.7l0.6 0.6l0.7-0.1l0.6 0.2l0.6-0.7l0.6 1.0l0.6-0.6l0.7-0.4l0.6 0.7l0.6-0.6l0.6 0.7l0.6 0.1l0.7-0.6l0.6-0.0l0.6 0.0l0.6 0.7l0.6 0.1l0.7 0.3l0.6-0.7l0.6-0.2l0.6 0.7l0.6 0.3l0.7-0.1l0.6-0.3l0.6-0.2l0.6 0.6l0.6 0.2l0.7-0.7l0.6 0.7l0.6 0.1l0.6 0.3l0.6-0.7l0.7 0.1l0.6-0.3l0.6 0.1l0.6 0.8l0.6-0.5l0.7 0.8l0.6-0.6l0.6 0.6l0.6-0.4l0.6 0.5l0.7-0.3l0.6-0.2l0.6 0.1l0.6 0.1l0.6-0.1l0.7 0.9l0.6 0.2l0.6-0.1l0.6-0.9l0.6 1.1l0.7-0.0l0.6 0.1l0.6-0.2l0.6-0.4l0.6 0.2l0.7 0.1l0.6-0.1l0.6-0.2l0.6 1.2l0.6-0.6l0.7 0.3l0.6-0.5l0.6 0.9l0.6-0.0l0.6-0.8l0.7 0.3l0.6 0.7l0.6-0.8l0.6 0.1l0.6 0.1l0.7 0.1l0.6 0.9l0.6 0.0l0.6-0.2l0.6-0.2l0.7 0.6l0.6-0.1l0.6-0.6l0.6 0.2l0.6 0.7l0.7-0.1l0.6-0.2l0.6 0.3l0.6-0.3l0.6 0.4l0.7-0.5l0.6 1.1l0.6-0.1l0.6-0.4l0.6 0.6l0.7-0.3l0.6-0.1l0.6 0.1l0.6 0.1l0.6 0.4l0.7-0.2l0.6-0.6l0.6-0.2l0.6 1.1l0.6-0.2l0.7-0.2l0.6-0.1l0.6 0.5l0.4-1.0" fill="none" stroke="#00009c" stroke-width="3.4" stroke-linejoin="round"/>
<path d="M808.0 353.6l0.6 0.0l0.6 5.9l0.7 12.5l0.6 19.9l0.6 1.2l0.6 9.2l0.6 2.0l0.7 3.6l0.6 1.9l0.6-3.8l0.6 2.6l0.6-2.5l0.7-3.6l0.6-2.7l0.6-4.1l0.6 1.7l0.6-7.3l0.7-5.0l0.6-1.8l0.6-0.8l0.6-2.2l0.6-2.7l0.7 1.0l0.6 6.3l0.6 2.8l0.6 5.4l0.6 1.6l0.7-1.9l0.6-0.8l0.6-5.4l0.6 0.1l0.6-4.5l0.7-4.9l0.6 2.2l0.6 6.8l0.6 8.6l0.6 3.7l0.7-0.6l0.6-1.0l0.6-9.3l0.6-6.0l0.6 3.4l0.7 0.7l0.6 0.9l0.6 2.0l0.6 2.2l0.6 0.9l0.7 1.7l0.6-2.2l0.6-9.9l0.6-8.1l0.6-0.2l0.7-0.5l0.6 3.5l0.6-3.2l0.6 1.2l0.6-0.8l0.7 0.5l0.6 2.0l0.6 4.3l0.6 3.9l0.6-4.9l0.7 1.4l0.6 4.4l0.6-2.7l0.6-4.2l0.6 2.2l0.7-9.0l0.6-0.2l0.6 1.3l0.6-0.7l0.6 0.5l0.7-3.2l0.6-3.8l0.6-1.0l0.6 3.4l0.6-1.4l0.7-2.6l0.6-1.1l0.6 0.9l0.6-1.0l0.6-0.1l0.7-0.8l0.6 2.0l0.6-3.7l0.6-0.1l0.6-6.0l0.7-5.0l0.6 1.6l0.6-3.7l0.6 0.4l0.6-5.1l0.7 4.7l0.6-3.2l0.6-3.1l0.6-3.0l0.6-3.3l0.7-5.7l0.6-5.8l0.6-5.7l0.6-5.8l0.6-7.1l0.7-7.8l0.6-7.3l0.6-7.8l0.6-7.7l0.6-7.3l0.7-7.4l0.6-9.5l0.6-7.3l0.6-8.4l0.6-8.9l0.7-8.5l0.6-6.5l0.6-5.6l0.6-5.2l0.6-5.8l0.7-6.5l0.6-5.9l0.6-8.2l0.6-6.3l0.6-7.1l0.7-7.4l0.6-5.7l0.6-5.6l0.6-4.1l0.6-6.1l0.7-3.6l0.6-4.1l0.6-3.7l0.6-3.7l0.6-4.0l0.7-3.1l0.6-5.4l0.6-3.6l0.6-4.0l0.6-2.6l0.7-2.1l0.6-1.2l0.6-1.6l0.6 0.1l0.6 1.5l0.7 0.7l0.6 3.7l0.6 0.6l0.6 3.0l0.6 4.0l0.7 1.8l0.6 3.5l0.6 4.7l0.6 4.1l0.6 3.2l0.7 3.1l0.6 3.9l0.6 2.5l0.6 2.0l0.6 2.9l0.7 3.0l0.6 2.0l0.6 2.7l0.6 3.9l0.6 4.0l0.7 4.9l0.6 8.0l0.6 5.2l0.6 7.4l0.6 4.8l0.7 4.7l0.6 3.2l0.6 4.0l0.6 2.6l0.6 2.5l0.7 3.9l0.6 2.8l0.6 1.9l0.6 3.3l0.6 2.1l0.7 2.7l0.6 0.7l0.6 3.3l0.6 1.5l0.6 2.3l0.7 1.1l0.6 3.1l0.6 4.3l0.6 3.7l0.6 3.6l0.7 4.0l0.6 4.7l0.6 2.0l0.6 1.0l0.6 2.4l0.7 2.3l0.6 1.0l0.6 2.1l0.6 1.8l0.6 0.3l0.7 1.8l0.6 2.6l0.6-0.1l0.6 1.6l0.6 3.0l0.7 1.5l0.6 1.4l0.6 2.7l0.6 0.6l0.6 1.5l0.7 3.4l0.6 1.5l0.6 1.1l0.6 2.0l0.6 0.4l0.7 1.6l0.6 1.5l0.6 1.3l0.6-0.2l0.6 0.3l0.7 0.7l0.6 1.1l0.6 1.2l0.6 0.8l0.6 0.5l0.7 0.8l0.6 0.1l0.6 0.4l0.6 0.3l0.6 0.6l0.7 0.5l0.6 0.9l0.6-1.1l0.6 1.3l0.6-0.6l0.7 0.5l0.6 1.7l0.6-0.8l0.6 0.5l0.6-0.6l0.7 0.6l0.6-0.9l0.6 1.0l0.6 0.6l0.6-0.6l0.7-0.2l0.6-0.4l0.6-0.7l0.6 0.7l0.6-1.0l0.7-0.3l0.6 0.1l0.6 0.6l0.6-0.7l0.6-0.4l0.7-1.3l0.6 1.1l0.6-1.0l0.6 0.2l0.6-0.3l0.7 0.3l0.6-1.6l0.6 0.0l0.6 0.3l0.6-0.3l0.7 0.8l0.6-1.1l0.6-0.2l0.6 0.8l0.6-1.0l0.7 1.3l0.6-1.0l0.6-0.1l0.6 0.5l0.6 0.6l0.7-1.4l0.6-0.2l0.6 0.2l0.6 0.7l0.6 0.1l0.7-1.6l0.6-0.3l0.6 0.4l0.6-0.1l0.6 0.7l0.7-0.3l0.6-0.1l0.6-0.8l0.6-0.2l0.6 0.8l0.7-2.0l0.6-0.3l0.6-0.3l0.6 1.3l0.6-0.9l0.7 0.0l0.6-0.3l0.6-0.0l0.6-0.9l0.6-0.7l0.7-0.7l0.6 0.3l0.6-0.7l0.6 1.2l0.6-0.6l0.7-1.1l0.6 0.2l0.6-0.3l0.6 0.1l0.6 0.5l0.7-1.4l0.6 0.5l0.6-0.4l0.6 0.8l0.6-1.6l0.7 0.7l0.6-1.2l0.6 0.7l0.6 0.7l0.6-0.6l0.7-1.4l0.6 1.8l0.6-0.9l0.6-0.0l0.6 0.6l0.7-0.7l0.6-0.6l0.6 0.6l0.6 1.1l0.6-0.1l0.7 0.1l0.6 1.1l0.6-0.1l0.6 0.4l0.6 0.1l0.7 0.7l0.6-0.7l0.6-0.6l0.6 0.5l0.6-0.8l0.7-0.3l0.6-2.0l0.6 0.1l0.6-1.4l0.6-0.5l0.7-1.1l0.6-0.8l0.6-1.3l0.6-0.8l0.6-2.1l0.7-2.2l0.6-0.9l0.6-3.3l0.6-1.3l0.6-3.1l0.7-3.7l0.6-2.4l0.6-4.8l0.6-4.1l0.6-3.7l0.7-4.0l0.6-5.2l0.6-7.5l0.6-7.0l0.6-6.7l0.7-6.7l0.6-7.0l0.6-7.1l0.6-5.9l0.6-5.6l0.7-6.0l0.6-6.0l0.6-7.1l0.6-6.0l0.6-6.1l0.7-5.3l0.6-6.2l0.6-7.9l0.6-7.8l0.6-7.1l0.7-7.5l0.6-5.8l0.6-6.1l0.6-5.4l0.6-4.3l0.7-4.8l0.6-4.6l0.6-2.3l0.6-4.1l0.6-3.7l0.7-1.7l0.6-4.7l0.6-2.3l0.6-1.2l0.6-1.5l0.7-1.1l0.6-1.1l0.6 1.1l0.6-0.5l0.6 0.6l0.7 2.4l0.6-0.8l0.6 1.2l0.6 1.1l0.6 2.5l0.7 1.7l0.6 1.7l0.6 3.1l0.6 4.1l0.6 1.5l0.7 2.8l0.6 4.5l0.6 2.7l0.6 4.7l0.6 3.4l0.7 3.5l0.6 5.1l0.6 4.0l0.6 2.7l0.6 3.4l0.7 5.2l0.6 2.1l0.6 3.5l0.6 3.6l0.6 2.9l0.7 3.0l0.6 4.1l0.6 1.1l0.6 3.8l0.6 1.4l0.7 0.8l0.6 1.9l0.6 2.5l0.6 1.1l0.6 0.6l0.7 1.1l0.6 2.3l0.6 0.6l0.6 0.6l0.6 1.0l0.7-1.3l0.6-0.3l0.6 0.2l0.6-2.0l0.6-1.5l0.7-0.9l0.6-1.4l0.6-1.9l0.6-1.9l0.6-2.3l0.7-1.3l0.6-2.9l0.6-2.0l0.6-2.3l0.6-1.3l0.7-1.7l0.6-2.6l0.6-3.1l0.6-1.3l0.6-2.8l0.7-1.3l0.6-2.9l0.6-2.7l0.6-2.1l0.6-2.5l0.7-1.4l0.6-2.0l0.6-1.4l0.6-1.3l0.6-1.0l0.7-1.7l0.6-1.9l0.6-1.8l0.6-1.7l0.6-0.6l0.7-2.3l0.6-1.3l0.6-0.1l0.6-2.1l0.6 0.1l0.7-1.6l0.6-1.5l0.6-0.4l0.6-2.7l0.6-0.7l0.7-0.6l0.6-0.0l0.6-2.7l0.6 0.1l0.6-0.2l0.7-2.0l0.6 0.9l0.6 0.1l0.6-0.3l0.6 1.0l0.7 1.5l0.6 0.0l0.6 1.0l0.6 1.3l0.6 0.1l0.7 2.6l0.6-0.3l0.6 3.0l0.6 1.4l0.6 1.3l0.7 1.7l0.6 1.1l0.6 1.1l0.6 2.4l0.6 2.1l0.7 1.0l0.6 3.3l0.6 1.1l0.6 2.2l0.6 1.3l0.7 1.6l0.6 2.5l0.6 1.1l0.6-0.1l0.6 2.5l0.7 1.5l0.6 0.7l0.6 1.2l0.6 0.3l0.6 2.1l0.7 0.6l0.6 2.3l0.6 0.8l0.6 0.5l0.6 2.3l0.7 1.0l0.6 0.1l0.6 1.3l0.6 1.1l0.6 2.9l0.7 0.2l0.6 1.8l0.6 2.2l0.6 0.3l0.6 0.8l0.7 0.1l0.6 0.5l0.6 1.4l0.6-0.5l0.6 2.0l0.7-1.5l0.6 0.8l0.6 0.0l0.6 1.6l0.6-0.0l0.7-1.0l0.6 0.1l0.6 0.3l0.6 1.5l0.6 0.3l0.7-0.0l0.6-0.1l0.6 0.1l0.6 0.5l0.6-0.8l0.7 1.5l0.6 0.2l0.6 0.0l0.6-0.6l0.6 0.2l0.7 1.7l0.6 0.2l0.6-0.1l0.6 0.3l0.6-0.3l0.7 1.1l0.6-0.1l0.6-0.2l0.6 0.8l0.6-0.8l0.7 1.0l0.6 1.2l0.6-0.3l0.6 0.5l0.6 0.4l0.7 1.2l0.6-0.9l0.6 1.4l0.6 0.1l0.6 0.1l0.7 0.2l0.6 1.7l0.6-0.3l0.6 1.3l0.6 0.2l0.7 0.5l0.6 1.4l0.6-1.0l0.6 1.4l0.6 0.2l0.7-0.0l0.6 0.9l0.6 1.5l0.6-0.8l0.6 1.4l0.7-0.2l0.6 1.1l0.6 0.7l0.6-0.3l0.6 2.1l0.7-0.1l0.6 0.5l0.6 0.8l0.6 2.4l0.6 0.7l0.7 0.0l0.6 0.5l0.6 1.7l0.6-0.4l0.6 2.4l0.7-0.8l0.6 0.9l0.6 1.4l0.6 1.1l0.6 0.0l0.7 1.4l0.6 2.2l0.6 0.5l0.6-0.6l0.6 2.5l0.7-0.0l0.6 1.8l0.6-0.5l0.6 0.7l0.6 1.3l0.7 0.3l0.6 0.2l0.6 1.1l0.6 1.0l0.6 0.3l0.7 2.4l0.6 1.9l0.6 2.4l0.6 1.7l0.6 0.6l0.7 2.1l0.6 0.1l0.6 1.0l0.6 1.8l0.6 0.3l0.7 0.8l0.6 1.8l0.6 1.5l0.6-0.9l0.6 1.5l0.7 0.1l0.6 1.5l0.6 0.8l0.6 0.6l0.6-0.2l0.7 2.0l0.6 0.4l0.6 0.9l0.6 0.9l0.6 1.3l0.7-0.1l0.6 1.7l0.6-0.7l0.6 1.3l0.6 0.2l0.7 1.2l0.6 1.7l0.6 0.9l0.6-0.2l0.6 0.3l0.7 0.8l0.6 1.9l0.6-0.2l0.6 0.3l0.6 1.9l0.7 0.1l0.6 0.6l0.6 1.6l0.6 0.5l0.6-0.7l0.7 2.6l0.6-0.3l0.6 0.2l0.6 2.2l0.6-0.2l0.7 1.2l0.6 0.9l0.6-0.4l0.6 2.3l0.6-0.1l0.7-0.2l0.6 1.6l0.6-0.2l0.6 2.6l0.6 0.1l0.7 0.2l0.6 1.6l0.6 0.8l0.6 0.5l0.6-0.1l0.7 0.5l0.6 2.4l0.6 0.9l0.6-0.4l0.6 0.9l0.7 0.9l0.6 0.5l0.6 2.4l0.6-0.1l0.6 1.3l0.7 0.6l0.6-0.5l0.6 0.8l0.6 1.0l0.6 1.8l0.7 1.2l0.6 2.0l0.6 0.5l0.6 3.6l0.6-3.5l0.7-3.6l0.6 6.2l0.6-0.3l0.6 2.2l0.6 0.7l0.7-1.4l0.6 3.2l0.6-1.7l0.6 1.5l0.6 3.3l0.7-0.4l0.6 1.5l0.6 1.1l0.6-1.8l0.6 2.8l0.7-0.9l0.6-0.6l0.6 0.9l0.6 0.8l0.6 2.9l0.7 0.7l0.6 1.6l0.6-1.8l0.6 2.8l0.6-1.7l0.7 0.9l0.6 5.5l0.6-4.0l0.6 3.6l0.6-2.7l0.7 0.1l0.6 3.8l0.6 0.6l0.6-3.1l0.6 1.5l0.7 1.4l0.6-1.8l0.6 2.2l0.6 2.7l0.6 0.5l0.7-2.9l0.6 1.4l0.6 0.3l0.6 2.9l0.6-2.7l0.7 5.5l0.6-9.3l0.6 7.6l0.6 1.6l0.6 2.0l0.7-1.5l0.6 2.0l0.6-1.5l0.6-1.5l0.6 1.8l0.7 1.7l0.6-3.9l0.6 6.0l0.6-6.8l0.6-0.6l0.7 7.1l0.6 0.5l0.6-3.0l0.6 2.7l0.6 2.1l0.7 1.5l0.6-1.6l0.6 2.8l0.6-1.3l0.6-0.5l0.7 4.9l0.6-0.9l0.6 1.4l0.6 5.0l0.6-9.4l0.7 4.1l0.6 4.6l0.6-2.0l0.6-6.8l0.6 6.5l0.7-2.1l0.6 3.5l0.6-1.6l0.6-4.5l0.6 5.9l0.7-0.9l0.6-2.1l0.6-0.7l0.6 2.7l0.6 1.7l0.7-0.4l0.6-3.6l0.6 1.4l0.6 5.0l0.6-0.8l0.7 2.1l0.6-2.5l0.6-1.1l0.6 5.3l0.6-4.8l0.7-1.1l0.6 3.3l0.6 1.2l0.6-1.8l0.6 13.5l0.7-12.3l0.6-0.5l0.6 5.7l0.6-4.5l0.6 1.9l0.7 1.9l0.6-0.8l0.6 4.3l0.6-4.5l0.6 5.6l0.7 1.8l0.6-1.2l0.6 4.7l0.6-1.4l0.6 2.4l0.7-3.3l0.6-3.3l0.6 2.9l0.6 4.8l0.6-6.6l0.7 5.7l0.6-3.6l0.6 6.5l0.6 1.1l0.6-7.4l0.7-0.6l0.6 3.0l0.6 4.6l0.6-4.5l0.6 2.3l0.7-2.5l0.6-4.9l0.6 11.0l0.6-5.2l0.6 0.1l0.7-3.5l0.6-0.3l0.6 0.7l0.6 3.5l0.6-5.4l0.7 1.5l0.6 2.7l0.6 4.9l0.6-2.5l0.6-2.1l0.7 2.5l0.6-3.2l0.6 0.7l0.6 2.8l0.6-5.9l0.7 6.0l0.6 2.9l0.6 5.4l0.6-5.0l0.6-9.5l0.7 19.6l0.6-11.9l0.6 0.4l0.6 0.7l0.6-4.0l0.7 0.8l0.6 15.1l0.6-10.4l0.6 5.2l0.6-9.6l0.7 5.5l0.6 0.7l0.6 1.1l0.6 0.3l0.6-2.7l0.7 1.1l0.6-2.8l0.6 6.1l0.6 1.7l0.6 3.6l0.7-0.2l0.6 2.5l0.6 8.6l0.6-11.5l0.6-5.5l0.7 4.2l0.6-6.1l0.6 7.3l0.6-3.3l0.6-1.9l0.7 9.1l0.6-9.7l0.6 12.4l0.6-12.0l0.6 7.0l0.7-3.6l0.6-2.4l0.6 7.0l0.6-3.0l0.6-2.4l0.7 11.7l0.6-8.5l0.6 11.0l0.6-4.7l0.6-3.6l0.7-4.2l0.6 12.7l0.6-11.3l0.6 10.8l0.6-3.5l0.7-0.7l0.6-5.6l0.6 5.7l0.6-6.1l0.6 12.4l0.7-0.6l0.6-8.8l0.6 6.4l0.6-5.0l0.6 9.1l0.7-8.2l0.6 0.1l0.6 2.1l0.6 11.8l0.6-8.7l0.7-0.0l0.6 6.9l0.6-6.9l0.6-2.6l0.6 18.5l0.7-20.3l0.6 13.2l0.6 3.2l0.6-14.6l0.6 13.6l0.7-1.0l0.6-12.4l0.6 7.3l0.6-2.9l0.6 2.6l0.7-8.7l0.6 9.5l0.6-6.4l0.6 4.9l0.6 0.7l0.7 6.8l0.6-6.3l0.6 8.9l0.6-1.6l0.6 5.0l0.7-5.7l0.6-4.0l0.6 5.6l0.6 2.7l0.6-2.6l0.7-7.0l0.6 6.8l0.6 1.3l0.6 1.3l0.6-5.1l0.7 9.8l0.6-7.3l0.6-6.7l0.6 1.7l0.6 17.3l0.7-15.9l0.6 13.8l0.6-13.7l0.6 19.1l0.6-12.2l0.7 2.4l0.6-3.7l0.6 17.1l0.6-1.6l0.6 6.4l0.7-16.5l0.6 14.1l0.6 1.9l0.6-7.9l0.6-1.8l0.3-6.9" fill="none" stroke="#00d060" stroke-width="3.3" stroke-linejoin="round"/>
<path d="M808.0 353.6l0.6 0.0l0.6 5.9l0.7 12.5l0.6 19.9l0.6 1.2l0.6 9.2l0.6 2.0l0.7 3.6l0.6 1.9l0.6-3.8l0.6 2.6l0.6-2.5l0.7-3.6l0.6-2.7l0.6-4.1l0.6 1.7l0.6-7.3l0.7-5.0l0.6-1.8l0.6-0.8l0.6-2.2l0.6-2.7l0.7 1.0l0.6 6.3l0.6 2.8l0.6 5.4l0.6 1.6l0.7-1.9l0.6-0.8l0.6-5.4l0.6 0.1l0.6-4.5l0.7-4.9l0.6 2.2l0.6 6.8l0.6 8.6l0.6 3.7l0.7-0.6l0.6-1.0l0.6-9.3l0.6-6.0l0.6 3.4l0.7 0.7l0.6 0.9l0.6 2.0l0.6 2.2l0.6 0.9l0.7 1.7l0.6-2.2l0.6-9.9l0.6-8.1l0.6-0.2l0.7-0.5l0.6 3.5l0.6-3.2l0.6 1.2l0.6-0.8l0.7 0.5l0.6 2.0l0.6 4.3l0.6 3.9l0.6-4.9l0.7 1.4l0.6 4.4l0.6-2.7l0.6-4.2l0.6 2.2l0.7-9.0l0.6-0.2l0.6 1.3l0.6-0.7l0.6 0.5l0.7-3.2l0.6-3.8l0.6-1.0l0.6 3.4l0.6-1.4l0.7-2.6l0.6-1.1l0.6 0.9l0.6-1.0l0.6-0.1l0.7-0.8l0.6 2.0l0.6-3.7l0.6-0.1l0.6-6.0l0.7-5.0l0.6 1.6l0.6-3.7l0.6 0.4l0.6-5.1l0.7 4.7" fill="none" stroke="#00d060" stroke-width="4.6" stroke-linejoin="round"/>
<path d="M1330.0 323.1l0.6 5.8l0.6-3.6l0.7 6.5l0.6 1.1l0.6-7.5l0.6-0.5l0.6 3.0l0.7 4.6l0.6-4.6l0.6 2.3l0.6-2.4l0.6-5.0l0.7 11.0l0.6-5.1l0.6 0.0l0.6-3.4l0.6-0.4l0.7 0.8l0.6 3.5l0.6-5.5l0.6 1.5l0.6 2.8l0.7 4.8l0.6-2.4l0.6-2.2l0.6 2.6l0.6-3.2l0.7 0.7l0.6 2.7l0.6-5.8l0.6 6.0l0.6 2.8l0.7 5.5l0.6-5.0l0.6-9.6l0.6 19.6l0.6-11.9l0.7 0.5l0.6 0.7l0.6-4.1l0.6 0.8l0.6 15.1l0.7-10.4l0.6 5.2l0.6-9.5l0.6 5.5l0.6 0.7l0.7 1.1l0.6 0.3l0.6-2.8l0.6 1.1l0.6-2.8l0.7 6.2l0.6 1.6l0.6 3.6l0.6-0.1l0.6 2.4l0.7 8.7l0.6-11.6l0.6-5.4l0.6 4.1l0.6-6.1l0.7 7.4l0.6-3.4l0.6-1.8l0.6 9.1l0.6-9.7l0.7 12.3l0.6-12.0l0.6 7.1l0.6-3.7l0.6-2.3l0.7 6.9l0.6-2.9l0.6-2.4l0.6 11.6l0.6-8.4l0.7 10.9l0.6-4.7l0.6-3.5l0.6-4.2l0.6 12.7l0.7-11.3l0.6 10.8l0.6-3.5l0.6-0.8l0.6-5.6l0.7 5.8l0.6-6.1l0.6 12.3l0.6-0.5l0.6-8.9l0.7 6.5l0.6-5.1l0.6 9.1l0.6-8.2l0.6 0.1l0.7 2.2l0.6 11.7l0.6-8.6l0.6-0.1l0.6 7.0l0.7-6.9l0.6-2.6l0.6 18.4l0.6-20.3l0.6 13.2l0.7 3.3l0.6-14.7l0.6 13.7l0.6-1.0l0.6-12.5l0.7 7.4l0.6-2.9l0.6 2.5l0.6-8.6l0.6 9.5l0.7-6.5l0.6 5.0l0.6 0.7l0.6 6.8l0.6-6.4l0.7 9.0l0.6-1.7l0.6 5.1l0.6-5.7l0.6-4.1l0.7 5.6l0.6 2.8l0.6-2.7l0.6-7.0l0.6 6.9l0.7 1.3l0.6 1.3l0.6-5.1l0.6 9.7l0.6-7.2l0.7-6.7l0.6 1.7l0.6 17.3l0.6-16.0l0.6 13.8l0.7-13.6l0.6 19.0l0.6-12.1l0.6 2.4l0.6-3.7l0.7 17.1l0.6-1.6l0.6 6.4l0.6-16.6l0.6 14.1l0.7 2.0l0.6-7.9l0.6-1.9l0.3-6.8" fill="none" stroke="#00d060" stroke-width="4.2" stroke-linejoin="round"/>
<path d="M807.6 463.3l0.6 2.3l0.6-0.4l0.7 3.0l0.6 0.5l0.6-0.7l0.6 0.2l0.6-1.2l0.7 0.9l0.6 0.3l0.6-0.8l0.6-0.7l0.6 2.6l0.7-0.3l0.6-1.3l0.6 0.5l0.6 0.2l0.6 1.1l0.7-1.1l0.6 0.5l0.6 0.2l0.6-2.0l0.6 1.4l0.7 1.0l0.6-0.3l0.6 0.3l0.6-2.1l0.6 1.8l0.7-1.4l0.6 1.7l0.6-0.2l0.6-1.1l0.6 0.6l0.7-0.3l0.6 1.4l0.6-1.1l0.6-1.3l0.6 1.3l0.7-1.4l0.6 0.4l0.6 1.0l0.6-0.0l0.6-1.1l0.7 0.8l0.6-0.1l0.6-0.0l0.6 0.5l0.6-1.2l0.7 0.0l0.6 0.6l0.6 1.4l0.6 0.6l0.6-0.5l0.7-1.9l0.6 2.1l0.6-0.0l0.6 0.0l0.6-0.3l0.7-1.4l0.6 0.7l0.6-0.2l0.6-1.2l0.6 1.4l0.7-0.8l0.6 2.0l0.6-0.9l0.6 0.4l0.6-2.3l0.7 1.9l0.6 0.2l0.6-1.0l0.6-0.6l0.6 0.6l0.7 0.1l0.6-0.3l0.6-0.4l0.6 1.0l0.6 0.5l0.7-1.8l0.6 1.7l0.6-2.5l0.6 1.8l0.6-1.1l0.7 0.5l0.6-0.6l0.6-0.9l0.6 0.2l0.6 2.2l0.7-1.7l0.6 1.4l0.6-1.3l0.6 1.0l0.6-1.5l0.7 1.5l0.6-1.6l0.6-0.7l0.6-0.4l0.6-0.4l0.7-0.0l0.6 1.5l0.6-1.1l0.6 1.4l0.6-2.1l0.7 1.9l0.6-2.3l0.6 0.1l0.6 0.0l0.6-0.4l0.7 0.3l0.6 0.9l0.6-2.3l0.6 0.3l0.6-0.7l0.7 1.9l0.6-2.1l0.6 0.9l0.6 0.8l0.6-1.8l0.7-0.7l0.6 0.2l0.6 1.7l0.6-2.6l0.6 2.0l0.7-2.3l0.6-0.1l0.6 1.6l0.6-0.6l0.6-1.1l0.7 0.9l0.6-1.7l0.6 1.9l0.6-1.1l0.6 0.9l0.7-1.2l0.6-0.3l0.6 0.7l0.6-1.0l0.6-1.6l0.7 1.3l0.6-1.1l0.6 0.8l0.6 0.8l0.6-1.3l0.7 0.5l0.6-1.6l0.6-1.2l0.6-0.0l0.6-0.3l0.7 0.4l0.6-0.1l0.6 0.0l0.6 0.8l0.6 0.1l0.7-0.1l0.6-0.2l0.6 0.1l0.6-0.5l0.6-1.0l0.7-0.3l0.6-1.1l0.6-0.4l0.6 2.3l0.6-2.2l0.7 1.9l0.6-1.6l0.6-1.1l0.6 2.0l0.6-0.6l0.7 0.6l0.6-1.5l0.6 0.9l0.6-1.5l0.6-1.0l0.7 0.1l0.6 0.3l0.6 0.2l0.6-0.7l0.6-0.1l0.7-1.6l0.6-0.7l0.6-0.2l0.6 0.8l0.6-1.8l0.7-1.1l0.6 1.0l0.6 0.8l0.6 0.6l0.6 0.5l0.7-0.6l0.6 0.5l0.6 0.2l0.6 0.2l0.6-0.4l0.7 1.1l0.6-0.0l0.6-2.5l0.6 0.3l0.6 2.4l0.7-1.0l0.6-1.7l0.6 2.1l0.6-2.7l0.6 1.0l0.7-0.7l0.6-0.7l0.6-0.6l0.6-1.2l0.6-0.7l0.7-2.9l0.6-0.6l0.6-2.9l0.6-1.0l0.6-2.1l0.7-2.6l0.6-2.4l0.6-1.0l0.6-2.9l0.6 1.8l0.7-1.7l0.6-0.4l0.6 0.3l0.6-1.1l0.6 1.4l0.7-0.4l0.6 3.1l0.6-0.4l0.6-0.3l0.6 3.1l0.7-0.4l0.6 1.3l0.6 1.0l0.6 0.5l0.6-0.1l0.7-0.1l0.6-0.5l0.6 1.6l0.6-1.7l0.6 0.6l0.7 1.2l0.6-0.4l0.6-0.6l0.6-2.2l0.6 1.7l0.7-2.7l0.6 1.8l0.6-1.0l0.6-0.6l0.6-0.6l0.7-1.2l0.6-0.9l0.6 0.1l0.6-1.4l0.6-0.7l0.7-0.4l0.6-1.2l0.6-0.3l0.6-0.9l0.6-0.2l0.7 0.1l0.6-0.4l0.6-0.5l0.6-0.9l0.6-0.8l0.7-1.6l0.6-2.2l0.6-5.1l0.6-4.5l0.6-4.0l0.7-3.4l0.6-4.5l0.6-3.2l0.6-4.6l0.6-3.0l0.7-3.3l0.6-2.4l0.6-1.8l0.6-1.4l0.6-1.8l0.7-1.2l0.6-1.7l0.6-0.9l0.6-1.5l0.6 0.1l0.7-0.9l0.6-1.6l0.6-0.6l0.6 0.2l0.6 0.1l0.7 0.2l0.6 0.6l0.6 1.4l0.6 1.1l0.6 1.4l0.7 1.0l0.6 2.0l0.6 0.5l0.6 2.0l0.6 0.7l0.7 1.0l0.6 1.5l0.6 1.2l0.6-0.1l0.6 0.7l0.7 0.7l0.6-0.3l0.6-1.1l0.6-0.7l0.6-0.3l0.7-1.8l0.6-1.1l0.6-0.7l0.6-1.2l0.6-1.3l0.7-1.1l0.6-1.1l0.6-1.9l0.6-1.6l0.6-1.0l0.7-2.5l0.6-1.2l0.6-2.3l0.6-2.2l0.6-2.9l0.7-4.1l0.6-3.7l0.6-5.2l0.6-5.6l0.6-5.1l0.7-4.3l0.6-4.2l0.6-3.9l0.6-3.2l0.6-4.3l0.7-4.9l0.6-6.5l0.6-6.5l0.6-7.4l0.6-6.6l0.7-5.2l0.6-5.7l0.6-5.1l0.6-4.6l0.6-4.7l0.7-4.9l0.6-5.7l0.6-4.5l0.6-5.1l0.6-5.9l0.7-5.8l0.6-6.2l0.6-5.1l0.6-4.9l0.6-3.3l0.7-3.5l0.6-2.6l0.6-2.3l0.6-2.8l0.6-1.6l0.7-1.3l0.6-1.0l0.6-1.9l0.6-0.3l0.6-1.0l0.7-0.1l0.6-0.9l0.6-0.1l0.6-0.6l0.6 0.4l0.7 0.2l0.6-0.3l0.6 0.4l0.6 1.1l0.6 0.8l0.7 0.5l0.6 2.0l0.6 0.9l0.6 0.7l0.6 0.9l0.7 1.4l0.6 0.8l0.6 1.1l0.6 0.4l0.6 1.7l0.7 1.0l0.6 0.1l0.6 0.4l0.6 1.1l0.6 0.3l0.7-0.8l0.6 0.7l0.6 0.1l0.6-0.0l0.6 0.4l0.7 0.3l0.6-0.3l0.6 0.0l0.6 0.7l0.6-0.3l0.7-0.7l0.6-0.7l0.6-0.5l0.6-0.3l0.6-1.1l0.7-1.9l0.6-0.7l0.6-1.9l0.6-0.4l0.6-1.8l0.7-2.9l0.6-1.8l0.6-2.0l0.6-1.8l0.6-1.0l0.7-1.8l0.6-1.8l0.6-1.1l0.6-0.9l0.6-1.4l0.7-2.3l0.6-0.9l0.6-1.7l0.6-1.9l0.6-2.1l0.7-2.0l0.6-2.7l0.6-1.6l0.6-2.6l0.6-2.6l0.7-1.2l0.6-2.2l0.6-1.4l0.6-1.9l0.6-1.5l0.7-1.6l0.6-1.4l0.6-2.1l0.6-1.1l0.6-2.2l0.7-1.1l0.6-2.5l0.6-2.1l0.6-1.9l0.6-1.3l0.7-2.2l0.6-1.6l0.6-2.2l0.6-1.7l0.6-1.2l0.7-1.6l0.6-2.7l0.6-0.6l0.6-2.1l0.6-1.4l0.7-1.3l0.6-2.4l0.6-1.3l0.6-0.9l0.6-1.9l0.7-1.0l0.6-1.4l0.6-1.2l0.6-1.8l0.6-2.0l0.7-0.3l0.6-2.2l0.6-1.2l0.6-0.9l0.6-1.3l0.7-1.2l0.6-0.3l0.6-0.6l0.6-1.6l0.6-0.7l0.7-0.5l0.6-1.1l0.6-0.5l0.6-0.2l0.6-1.7l0.7-0.3l0.6-1.1l0.6-0.1l0.6-1.5l0.6-0.1l0.7-1.3l0.6-0.2l0.6-1.5l0.6-0.7l0.6-1.3l0.7-0.6l0.6-0.7l0.6-0.2l0.6-1.2l0.6-0.5l0.7-0.7l0.6-1.7l0.6-0.5l0.6-0.2l0.6-1.0l0.7-1.1l0.6-1.2l0.6-1.1l0.6-2.0l0.6-1.3l0.7-1.1l0.6-1.3l0.6-0.4l0.6 0.5l0.6-0.3l0.7-0.2l0.6-0.3l0.6 0.3l0.6-1.0l0.6 0.4l0.7-0.3l0.6 0.5l0.6-0.7l0.6-0.2l0.6 0.6l0.7 0.1l0.6-0.1l0.6 0.0l0.6-0.7l0.6 0.5l0.7-0.1l0.6 0.5l0.6-0.6l0.6-0.2l0.6 0.1l0.7 0.2l0.6 0.6l0.6-0.4l0.6 0.1l0.6-0.2l0.7 0.1l0.6 0.9l0.6-0.3l0.6-0.1l0.6 1.1l0.7-0.4l0.6 0.6l0.6 0.6l0.6 0.6l0.6-0.6l0.7 1.3l0.6-0.2l0.6 1.1l0.6 0.5l0.6 0.5l0.7 0.4l0.6 0.7l0.6 1.0l0.6-0.2l0.6 0.6l0.7 0.1l0.6 0.7l0.6 0.1l0.6 1.4l0.6-0.2l0.7 1.2l0.6-0.4l0.6 1.2l0.6 0.5l0.6 0.8l0.7 0.9l0.6 0.0l0.6 1.8l0.6 0.1l0.6 1.4l0.7 1.8l0.6 0.8l0.6 1.5l0.6 1.0l0.6 0.6l0.7 1.0l0.6 1.0l0.6 0.9l0.6 2.0l0.6 1.3l0.7 0.4l0.6 1.8l0.6 1.7l0.6 1.1l0.6 1.2l0.7 2.1l0.6 0.9l0.6 1.6l0.6 1.9l0.6 1.6l0.7 1.9l0.6 2.0l0.6 1.3l0.6 2.5l0.6 1.8l0.7 2.0l0.6 1.3l0.6 1.6l0.6 2.6l0.6 1.5l0.7 2.1l0.6 1.5l0.6 1.9l0.6 1.8l0.6 2.1l0.7 2.0l0.6 1.4l0.6 1.9l0.6 2.0l0.6 2.2l0.7 1.4l0.6 1.5l0.6 2.4l0.6 1.8l0.6 2.6l0.7 1.4l0.6 1.2l0.6 2.6l0.6 1.2l0.6 2.3l0.7 1.4l0.6 2.6l0.6 1.3l0.6 2.8l0.6 0.9l0.7 2.8l0.6 1.8l0.6 1.3l0.6 1.8l0.6 1.7l0.7 2.3l0.6 1.1l0.6 2.0l0.6 1.5l0.6 2.2l0.7 1.6l0.6 2.8l0.6 1.3l0.6 1.7l0.6 2.0l0.7 1.8l0.6 1.8l0.6 1.9l0.6 2.7l0.6 1.2l0.7 2.7l0.6 2.1l0.6 1.8l0.6 1.0l0.6 2.6l0.7 1.7l0.6 2.2l0.6 1.1l0.6 2.2l0.6 1.8l0.7 1.3l0.6 2.3l0.6 1.9l0.6 1.9l0.6 1.8l0.7 0.7l0.6 2.6l0.6 1.2l0.6 2.3l0.6 0.9l0.7 2.0l0.6 1.7l0.6 2.0l0.6 1.6l0.6 1.9l0.7 0.7l0.6 1.9l0.6 2.2l0.6 1.0l0.6 2.2l0.7 0.9l0.6 2.0l0.6 0.8l0.6 2.5l0.6 0.5l0.7 1.9l0.6 1.5l0.6 1.4l0.6 1.8l0.6 1.5l0.7 1.9l0.6 1.9l0.6 1.4l0.6 1.6l0.6 1.1l0.7 1.8l0.6 1.6l0.6 2.0l0.6 2.6l0.6 1.1l0.7 2.1l0.6 2.0l0.6 1.6l0.6 2.0l0.6 1.7l0.7 1.9l0.6 1.4l0.6 1.5l0.6 2.8l0.6 1.5l0.7 1.7l0.6 1.0l0.6 2.5l0.6 1.5l0.6 1.1l0.7 1.5l0.6 2.2l0.6 0.7l0.6 2.3l0.6 2.0l0.7 1.7l0.6 1.6l0.6 1.1l0.6 1.1l0.6 2.1l0.7 1.6l0.6 2.0l0.6 1.9l0.6 1.9l0.6 0.9l0.7 1.7l0.6 1.3l0.6 2.6l0.6 1.2l0.6 1.2l0.7 1.9l0.6 1.5l0.6 2.0l0.6 0.8l0.6 1.8l0.7 1.4l0.6 1.1l0.6 1.6l0.6 1.6l0.6 1.7l0.7 1.6l0.6 1.6l0.6 1.6l0.6 0.4l0.6 2.3l0.7 0.6l0.6 1.7l0.6 0.7l0.6 1.6l0.6 1.0l0.7 0.3l0.6 2.1l0.6 0.1l0.6 1.5l0.6 0.7l0.7 1.4l0.6 0.5l0.6 1.4l0.6 1.1l0.6 0.6l0.7 1.2l0.6 0.2l0.6 1.2l0.6 0.5l0.6 1.2l0.7-0.3l0.6 1.6l0.6-0.4l0.6 1.6l0.6-0.4l0.7 1.3l0.6-0.2l0.6 1.4l0.6-0.2l0.6 0.4l0.7 1.4l0.6 0.2l0.6 0.8l0.6 0.5l0.6-0.3l0.7 0.6l0.6 1.3l0.6 0.8l0.6-0.1l0.6 1.5l0.7-0.4l0.6 1.6l0.6 0.5l0.6 0.4l0.6 0.7l0.7 0.7l0.6 0.9l0.6 0.8l0.6 0.3l0.6 0.5l0.7 1.4l0.6 0.3l0.6 0.1l0.6 1.1l0.6 0.5l0.7 2.4l0.6-0.6l0.6 1.6l0.6-0.8l0.6 2.3l0.7 1.4l0.6 0.3l0.6 0.8l0.6-0.1l0.6 0.9l0.7 1.7l0.6-0.9l0.6 1.3l0.6 1.2l0.6-0.3l0.7 1.0l0.6-0.5l0.6 2.1l0.6-0.7l0.6 0.7l0.7 0.4l0.6 1.7l0.6-0.3l0.6 1.8l0.6-0.0l0.7 0.7l0.6-0.1l0.6-0.7l0.6 0.6l0.6 0.5l0.7 0.0l0.6 1.1l0.6 1.2l0.6-0.3l0.6-0.4l0.7 1.7l0.6 1.0l0.6-0.8l0.6-0.4l0.6 1.7l0.7-0.0l0.6 1.0l0.6-0.1l0.6 1.0l0.6-1.7l0.7 1.9l0.6 0.3l0.6 0.8l0.6-0.9l0.6 1.2l0.7-0.3l0.6 1.6l0.6-1.1l0.6 0.6l0.6 2.4l0.7 0.0l0.6-0.7l0.6 0.7l0.6 0.8l0.6-0.0l0.7 0.2l0.6 2.5l0.6-1.4l0.6 1.6l0.6 0.3l0.7 0.4l0.6-0.7l0.6 0.1l0.6 1.2l0.6 1.2l0.7-1.2l0.6-0.1l0.6 0.9l0.6-0.5l0.6 0.7l0.7 1.1l0.6-0.9l0.6 0.7l0.6 0.8l0.6-1.0l0.7 0.2l0.6 2.3l0.6-0.0l0.6 0.3l0.6-0.6l0.7 0.1l0.6-0.7l0.6 0.5l0.6-0.0l0.6 1.2l0.7-0.0l0.6-0.4l0.6 0.0l0.6 1.4l0.6-0.8l0.7-0.1l0.6 0.7l0.6 1.6l0.6-0.1l0.6-0.1l0.7-0.5l0.6 0.9l0.6-0.9l0.6 1.0l0.6 0.7l0.7-0.7l0.6 1.4l0.6-0.0l0.6-0.7l0.6 0.5l0.7 1.1l0.6 1.2l0.6-1.7l0.6 1.4l0.6-0.4l0.7 0.5l0.6 1.6l0.6-0.5l0.6-0.6l0.6 0.6l0.7 1.5l0.6-0.0l0.6-0.8l0.6 0.4l0.6 0.1l0.7-0.6l0.6 2.2l0.6-1.6l0.6 0.2l0.6-0.1l0.7 2.2l0.6 0.1l0.6-0.4l0.6-0.1l0.6 0.3l0.7-0.3l0.6 1.4l0.6-0.6l0.6 0.9l0.6-0.2l0.7 0.1l0.6 0.2l0.6 0.4l0.6 0.3l0.6-0.2l0.7-0.7l0.6 0.1l0.6 0.0l0.6 1.8l0.6-0.7l0.7-1.0l0.6 1.6l0.6 0.9l0.6 0.3l0.6 0.2l0.7 0.0l0.6-1.5l0.6 1.0l0.6 0.6l0.6 0.0l0.7-0.5l0.6-0.6l0.6 2.1l0.6-0.1l0.6 0.3l0.7-1.1l0.6-0.3l0.6 1.5l0.6-0.4l0.6 0.1l0.7-1.5l0.6 0.2l0.6 1.6l0.6 0.4l0.6-1.3l0.7 1.3l0.6-1.6l0.6 1.0l0.6-0.5l0.6 0.4l0.7-0.8l0.6 0.5l0.6 0.2l0.6 0.3l0.6-0.9l0.7 0.9l0.6-0.9l0.6 1.8l0.6-1.7l0.6-0.3l0.7 0.3l0.6 0.8l0.6-0.3l0.6 0.5l0.6-1.3l0.7 0.7l0.6 0.3l0.6 1.0l0.6-0.2l0.6-0.7l0.7-0.7l0.0-0.4" fill="none" stroke="#0080ff" stroke-width="3.3" stroke-linejoin="round"/>
</g>
<path d="M79.0 476.8V33.6H697.8V476.8" fill="none" stroke="#262626" stroke-width="1.9" stroke-linejoin="round"/>
<path d="M807.6 476.8V33.6H1426.4V476.8" fill="none" stroke="#262626" stroke-width="1.9" stroke-linejoin="round"/>
<path d="M584.3 70.5H647.3" stroke="#ff0000" stroke-width="6.2" stroke-linecap="round" stroke-dasharray="0 10.45"/>
<path transform="translate(0.0 0)" d="M672.4 58.8L672.4 80.7L669.3 80.7L669.3 63.6Q666.6 65.8 663.2 67.2L663.2 64.1Q667.6 61.9 669.9 58.8Z" fill="#000"/>
<path d="M584.8 110.0H651.8" stroke="#ff8000" stroke-width="3.8" stroke-linecap="round"/>
<text x="659.8" y="120.4" font-size="32">2</text>
<path d="M584.8 147.5H651.8" stroke="#00009c" stroke-width="4.2" stroke-linecap="round"/>
<text x="659.8" y="157.9" font-size="32">3</text>
<path d="M584.8 185.0H651.8" stroke="#00d060" stroke-width="3.2" stroke-linecap="round"/>
<text x="659.8" y="195.4" font-size="32">4</text>
<path d="M584.8 222.0H651.8" stroke="#0080ff" stroke-width="3.5" stroke-linecap="round"/>
<text x="659.8" y="232.4" font-size="32">5</text>
<path d="M1312.9 70.5H1375.9" stroke="#ff0000" stroke-width="6.2" stroke-linecap="round" stroke-dasharray="0 10.45"/>
<path transform="translate(728.6 0)" d="M672.4 58.8L672.4 80.7L669.3 80.7L669.3 63.6Q666.6 65.8 663.2 67.2L663.2 64.1Q667.6 61.9 669.9 58.8Z" fill="#000"/>
<path d="M1313.4 110.0H1380.4" stroke="#ff8000" stroke-width="3.8" stroke-linecap="round"/>
<text x="1388.4" y="120.4" font-size="32">2</text>
<path d="M1313.4 147.5H1380.4" stroke="#00009c" stroke-width="4.2" stroke-linecap="round"/>
<text x="1388.4" y="157.9" font-size="32">3</text>
<path d="M1313.4 185.0H1380.4" stroke="#00d060" stroke-width="3.2" stroke-linecap="round"/>
<text x="1388.4" y="195.4" font-size="32">4</text>
<path d="M1313.4 222.0H1380.4" stroke="#0080ff" stroke-width="3.5" stroke-linecap="round"/>
<text x="1388.4" y="232.4" font-size="32">5</text>
<text transform="translate(99.8 90.3) scale(0.951 1)" font-size="42.3">RT</text>
<text transform="translate(820.3 82.1) scale(0.965 1)" font-size="40.7">77K</text>
<text x="388.3" y="544.5" font-size="26.4" text-anchor="middle">Wavelength, nm</text>
<text x="1116.7" y="552.9" font-size="26.4" text-anchor="middle">Wavelength, nm</text>
<text transform="translate(49.9 260.7) rotate(-90)" font-size="26.3" text-anchor="middle">Normalized intensity</text>
<text transform="translate(777.6 271.4) rotate(-90)" font-size="26.3" text-anchor="middle">Normalized intensity</text>
</svg>
</body></html>
